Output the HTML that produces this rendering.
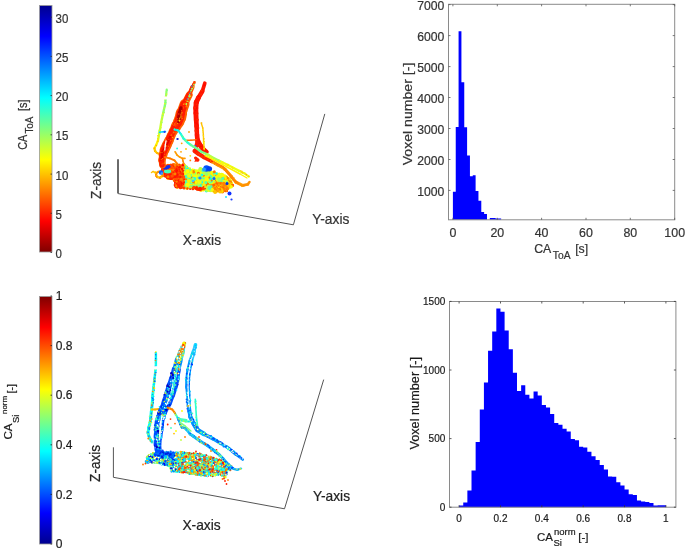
<!DOCTYPE html>
<html><head><meta charset="utf-8"><style>
html,body{margin:0;padding:0;background:#fff;}
body{width:685px;height:550px;overflow:hidden;}
svg{display:block;font-family:"Liberation Sans", sans-serif;will-change:transform;}
</style></head><body>
<svg width="685" height="550" viewBox="0 0 685 550">
<defs>
<linearGradient id="jetUp" x1="0" y1="1" x2="0" y2="0">
<stop offset="0" stop-color="rgb(0,0,143)"/>
<stop offset="0.125" stop-color="rgb(0,0,255)"/>
<stop offset="0.375" stop-color="rgb(0,255,255)"/>
<stop offset="0.625" stop-color="rgb(255,255,0)"/>
<stop offset="0.875" stop-color="rgb(255,0,0)"/>
<stop offset="1" stop-color="rgb(128,0,0)"/>
</linearGradient>
<linearGradient id="jetDown" x1="0" y1="0" x2="0" y2="1">
<stop offset="0" stop-color="rgb(0,0,143)"/>
<stop offset="0.125" stop-color="rgb(0,0,255)"/>
<stop offset="0.375" stop-color="rgb(0,255,255)"/>
<stop offset="0.625" stop-color="rgb(255,255,0)"/>
<stop offset="0.875" stop-color="rgb(255,0,0)"/>
<stop offset="1" stop-color="rgb(128,0,0)"/>
</linearGradient>
</defs>
<rect x="39.5" y="5.5" width="12.5" height="246.5" fill="url(#jetDown)" stroke="#9a9a9a" stroke-width="0.8"/>
<line x1="50.5" y1="252.5" x2="52" y2="252.5" stroke="#333" stroke-width="0.8"/>
<text transform="translate(55.6,258.0) scale(1,1.15)" font-size="11.5" fill="#333" stroke="#333" stroke-width="0.2" text-anchor="start" >0</text>
<line x1="50.5" y1="213.3" x2="52" y2="213.3" stroke="#333" stroke-width="0.8"/>
<text transform="translate(55.6,218.8) scale(1,1.15)" font-size="11.5" fill="#333" stroke="#333" stroke-width="0.2" text-anchor="start" >5</text>
<line x1="50.5" y1="174.1" x2="52" y2="174.1" stroke="#333" stroke-width="0.8"/>
<text transform="translate(55.6,179.6) scale(1,1.15)" font-size="11.5" fill="#333" stroke="#333" stroke-width="0.2" text-anchor="start" >10</text>
<line x1="50.5" y1="134.8" x2="52" y2="134.8" stroke="#333" stroke-width="0.8"/>
<text transform="translate(55.6,140.3) scale(1,1.15)" font-size="11.5" fill="#333" stroke="#333" stroke-width="0.2" text-anchor="start" >15</text>
<line x1="50.5" y1="95.6" x2="52" y2="95.6" stroke="#333" stroke-width="0.8"/>
<text transform="translate(55.6,101.1) scale(1,1.15)" font-size="11.5" fill="#333" stroke="#333" stroke-width="0.2" text-anchor="start" >20</text>
<line x1="50.5" y1="56.4" x2="52" y2="56.4" stroke="#333" stroke-width="0.8"/>
<text transform="translate(55.6,61.9) scale(1,1.15)" font-size="11.5" fill="#333" stroke="#333" stroke-width="0.2" text-anchor="start" >25</text>
<line x1="50.5" y1="17.2" x2="52" y2="17.2" stroke="#333" stroke-width="0.8"/>
<text transform="translate(55.6,22.7) scale(1,1.15)" font-size="11.5" fill="#333" stroke="#333" stroke-width="0.2" text-anchor="start" >30</text>
<text transform="translate(26.6,149.8) rotate(-90) scale(1,1.1)" font-size="10.8" fill="#333" stroke="#333" stroke-width="0.2"><tspan>CA</tspan><tspan font-size="9.8" dx="1.2" dy="5.5">ToA</tspan><tspan font-size="11" dx="5.6" dy="-5.5">[s]</tspan></text>
<rect x="39.5" y="296.5" width="12.5" height="247.5" fill="url(#jetUp)" stroke="#9a9a9a" stroke-width="0.8"/>
<line x1="50.5" y1="544.0" x2="52" y2="544.0" stroke="#222" stroke-width="0.8"/>
<text x="55.8" y="548.2" font-size="12" fill="#1a1a1a" stroke="#1a1a1a" stroke-width="0.2" text-anchor="start" >0</text>
<line x1="50.5" y1="494.4" x2="52" y2="494.4" stroke="#222" stroke-width="0.8"/>
<text x="55.8" y="498.59999999999997" font-size="12" fill="#1a1a1a" stroke="#1a1a1a" stroke-width="0.2" text-anchor="start" >0.2</text>
<line x1="50.5" y1="444.8" x2="52" y2="444.8" stroke="#222" stroke-width="0.8"/>
<text x="55.8" y="449.0" font-size="12" fill="#1a1a1a" stroke="#1a1a1a" stroke-width="0.2" text-anchor="start" >0.4</text>
<line x1="50.5" y1="395.2" x2="52" y2="395.2" stroke="#222" stroke-width="0.8"/>
<text x="55.8" y="399.4" font-size="12" fill="#1a1a1a" stroke="#1a1a1a" stroke-width="0.2" text-anchor="start" >0.6</text>
<line x1="50.5" y1="345.6" x2="52" y2="345.6" stroke="#222" stroke-width="0.8"/>
<text x="55.8" y="349.8" font-size="12" fill="#1a1a1a" stroke="#1a1a1a" stroke-width="0.2" text-anchor="start" >0.8</text>
<line x1="50.5" y1="296.0" x2="52" y2="296.0" stroke="#222" stroke-width="0.8"/>
<text x="55.8" y="300.2" font-size="12" fill="#1a1a1a" stroke="#1a1a1a" stroke-width="0.2" text-anchor="start" >1</text>
<text transform="translate(12.2,439.5) rotate(-90)" font-size="11.5" fill="#1a1a1a" stroke="#1a1a1a" stroke-width="0.2"><tspan>CA</tspan><tspan font-size="9.5" dx="0.5" dy="7">Si</tspan><tspan font-size="8" dx="0.5" dy="-12">norm</tspan><tspan font-size="10.5" dx="2.3" dy="7.5">[-]</tspan></text>
<g stroke="#555" stroke-width="1" fill="none">
<polyline points="118.1,193.6 293.4,224.8 324.8,113.9"/>
<line x1="118" y1="159.3" x2="118" y2="193.6" stroke="#5a5a5a" stroke-width="1.8"/>
<polyline points="113.4,447.3 113.4,477.3 284.5,508.8 323.7,379.6"/>
</g>
<text x="0" y="0" font-size="13.6" fill="#333" stroke="#333" stroke-width="0.2" text-anchor="start" transform="translate(100.6,198.9) rotate(-90) scale(1,1.1)">Z-axis</text>
<text transform="translate(182.7,245.1) scale(1,1.1)" font-size="13.8" fill="#333" stroke="#333" stroke-width="0.2" text-anchor="start" >X-axis</text>
<text transform="translate(312.3,223.9) scale(1,1.1)" font-size="13.8" fill="#333" stroke="#333" stroke-width="0.2" text-anchor="start" >Y-axis</text>
<text x="0" y="0" font-size="13.6" fill="#222" stroke="#222" stroke-width="0.2" text-anchor="start" transform="translate(100.1,481.9) rotate(-90) scale(1,1.1)">Z-axis</text>
<text transform="translate(182.4,529.5) scale(1,1.1)" font-size="13.8" fill="#222" stroke="#222" stroke-width="0.2" text-anchor="start" >X-axis</text>
<text transform="translate(313.0,500.8) scale(1,1.1)" font-size="13.8" fill="#222" stroke="#222" stroke-width="0.2" text-anchor="start" >Y-axis</text>
<path d="M452.90,219.8 L452.90,191.8 L455.74,191.8 L455.74,126.9 L458.58,126.9 L458.58,31.2 L461.42,31.2 L461.42,82.2 L464.26,82.2 L464.26,127.3 L467.10,127.3 L467.10,155.6 L469.93,155.6 L469.93,176.2 L472.77,176.2 L472.77,175.3 L475.61,175.3 L475.61,191.1 L478.45,191.1 L478.45,200.8 L481.29,200.8 L481.29,211.9 L484.13,211.9 L484.13,214 L486.97,214 L486.97,219.8 L489.81,219.8 L489.81,218 L492.65,218 L492.65,218 L495.49,218 L495.49,218.5 L498.32,218.5 L498.32,218.5 L501.16,218.5 L501.16,219.8 Z" fill="#0000ff"/>
<rect x="448.5" y="4.3" width="226.20000000000005" height="215.5" fill="none" stroke="#8a8a8a" stroke-width="1"/>
<line x1="452.9" y1="219.8" x2="452.9" y2="217.8" stroke="#555" stroke-width="0.8"/>
<line x1="452.9" y1="4.3" x2="452.9" y2="6.3" stroke="#555" stroke-width="0.8"/>
<text transform="translate(452.9,236.6) scale(1,1.07)" font-size="12.4" fill="#333" stroke="#333" stroke-width="0.2" text-anchor="middle" >0</text>
<line x1="497.3" y1="219.8" x2="497.3" y2="217.8" stroke="#555" stroke-width="0.8"/>
<line x1="497.3" y1="4.3" x2="497.3" y2="6.3" stroke="#555" stroke-width="0.8"/>
<text transform="translate(497.3,236.6) scale(1,1.07)" font-size="12.4" fill="#333" stroke="#333" stroke-width="0.2" text-anchor="middle" >20</text>
<line x1="541.6" y1="219.8" x2="541.6" y2="217.8" stroke="#555" stroke-width="0.8"/>
<line x1="541.6" y1="4.3" x2="541.6" y2="6.3" stroke="#555" stroke-width="0.8"/>
<text transform="translate(541.6,236.6) scale(1,1.07)" font-size="12.4" fill="#333" stroke="#333" stroke-width="0.2" text-anchor="middle" >40</text>
<line x1="586.0" y1="219.8" x2="586.0" y2="217.8" stroke="#555" stroke-width="0.8"/>
<line x1="586.0" y1="4.3" x2="586.0" y2="6.3" stroke="#555" stroke-width="0.8"/>
<text transform="translate(586.0,236.6) scale(1,1.07)" font-size="12.4" fill="#333" stroke="#333" stroke-width="0.2" text-anchor="middle" >60</text>
<line x1="630.3" y1="219.8" x2="630.3" y2="217.8" stroke="#555" stroke-width="0.8"/>
<line x1="630.3" y1="4.3" x2="630.3" y2="6.3" stroke="#555" stroke-width="0.8"/>
<text transform="translate(630.3,236.6) scale(1,1.07)" font-size="12.4" fill="#333" stroke="#333" stroke-width="0.2" text-anchor="middle" >80</text>
<line x1="674.7" y1="219.8" x2="674.7" y2="217.8" stroke="#555" stroke-width="0.8"/>
<line x1="674.7" y1="4.3" x2="674.7" y2="6.3" stroke="#555" stroke-width="0.8"/>
<text transform="translate(674.7,236.6) scale(1,1.07)" font-size="12.4" fill="#333" stroke="#333" stroke-width="0.2" text-anchor="middle" >100</text>
<line x1="448.5" y1="190.4" x2="450.5" y2="190.4" stroke="#555" stroke-width="0.8"/>
<line x1="674.7" y1="190.4" x2="672.7" y2="190.4" stroke="#555" stroke-width="0.8"/>
<text transform="translate(444.3,195.5) scale(1,1.08)" font-size="12.2" fill="#333" stroke="#333" stroke-width="0.2" text-anchor="end" >1000</text>
<line x1="448.5" y1="159.5" x2="450.5" y2="159.5" stroke="#555" stroke-width="0.8"/>
<line x1="674.7" y1="159.5" x2="672.7" y2="159.5" stroke="#555" stroke-width="0.8"/>
<text transform="translate(444.3,164.6) scale(1,1.08)" font-size="12.2" fill="#333" stroke="#333" stroke-width="0.2" text-anchor="end" >2000</text>
<line x1="448.5" y1="128.5" x2="450.5" y2="128.5" stroke="#555" stroke-width="0.8"/>
<line x1="674.7" y1="128.5" x2="672.7" y2="128.5" stroke="#555" stroke-width="0.8"/>
<text transform="translate(444.3,133.6) scale(1,1.08)" font-size="12.2" fill="#333" stroke="#333" stroke-width="0.2" text-anchor="end" >3000</text>
<line x1="448.5" y1="97.5" x2="450.5" y2="97.5" stroke="#555" stroke-width="0.8"/>
<line x1="674.7" y1="97.5" x2="672.7" y2="97.5" stroke="#555" stroke-width="0.8"/>
<text transform="translate(444.3,102.6) scale(1,1.08)" font-size="12.2" fill="#333" stroke="#333" stroke-width="0.2" text-anchor="end" >4000</text>
<line x1="448.5" y1="66.6" x2="450.5" y2="66.6" stroke="#555" stroke-width="0.8"/>
<line x1="674.7" y1="66.6" x2="672.7" y2="66.6" stroke="#555" stroke-width="0.8"/>
<text transform="translate(444.3,71.7) scale(1,1.08)" font-size="12.2" fill="#333" stroke="#333" stroke-width="0.2" text-anchor="end" >5000</text>
<line x1="448.5" y1="35.6" x2="450.5" y2="35.6" stroke="#555" stroke-width="0.8"/>
<line x1="674.7" y1="35.6" x2="672.7" y2="35.6" stroke="#555" stroke-width="0.8"/>
<text transform="translate(444.3,40.7) scale(1,1.08)" font-size="12.2" fill="#333" stroke="#333" stroke-width="0.2" text-anchor="end" >6000</text>
<line x1="448.5" y1="4.6" x2="450.5" y2="4.6" stroke="#555" stroke-width="0.8"/>
<line x1="674.7" y1="4.6" x2="672.7" y2="4.6" stroke="#555" stroke-width="0.8"/>
<text transform="translate(444.3,9.7) scale(1,1.08)" font-size="12.2" fill="#333" stroke="#333" stroke-width="0.2" text-anchor="end" >7000</text>
<text x="0" y="0" font-size="12.5" fill="#333" stroke="#333" stroke-width="0.2" text-anchor="start" transform="translate(412.4,165.3) rotate(-90)" textLength="102.6" lengthAdjust="spacingAndGlyphs">Voxel number [-]</text>
<text transform="translate(534.2,252.8) scale(1,1.07)" font-size="12.3" fill="#333" stroke="#333" stroke-width="0.2"><tspan>CA</tspan><tspan font-size="10.3" dx="1.6" dy="6.1">ToA</tspan><tspan font-size="12.3" dx="4.6" dy="-6.1">[s]</tspan></text>
<path d="M459.10,507.2 L459.10,505.6 L463.24,505.6 L463.24,502.6 L467.37,502.6 L467.37,490.6 L471.51,490.6 L471.51,470.4 L475.64,470.4 L475.64,442 L479.78,442 L479.78,409.4 L483.92,409.4 L483.92,382.4 L488.05,382.4 L488.05,350.8 L492.19,350.8 L492.19,331.4 L496.32,331.4 L496.32,308.5 L500.46,308.5 L500.46,311.8 L504.60,311.8 L504.60,330.5 L508.73,330.5 L508.73,349.3 L512.87,349.3 L512.87,372.8 L517.00,372.8 L517.00,390.9 L521.14,390.9 L521.14,385.3 L525.28,385.3 L525.28,394.7 L529.41,394.7 L529.41,398.4 L533.55,398.4 L533.55,391.6 L537.68,391.6 L537.68,395.5 L541.82,395.5 L541.82,404.9 L545.96,404.9 L545.96,407.5 L550.09,407.5 L550.09,414 L554.23,414 L554.23,423.1 L558.36,423.1 L558.36,424.7 L562.50,424.7 L562.50,428.7 L566.64,428.7 L566.64,431.5 L570.77,431.5 L570.77,438.9 L574.91,438.9 L574.91,440.2 L579.04,440.2 L579.04,446.7 L583.18,446.7 L583.18,447.6 L587.32,447.6 L587.32,451.7 L591.45,451.7 L591.45,456.3 L595.59,456.3 L595.59,460 L599.72,460 L599.72,465 L603.86,465 L603.86,469.4 L608.00,469.4 L608.00,476.6 L612.13,476.6 L612.13,476.8 L616.27,476.8 L616.27,482.3 L620.40,482.3 L620.40,485.5 L624.54,485.5 L624.54,489.5 L628.68,489.5 L628.68,494.3 L632.81,494.3 L632.81,495.1 L636.95,495.1 L636.95,500.4 L641.08,500.4 L641.08,501.5 L645.22,501.5 L645.22,502.1 L649.36,502.1 L649.36,503 L653.49,503 L653.49,505.4 L657.63,505.4 L657.63,505.2 L661.76,505.2 L661.76,505.2 L665.90,505.2 L665.90,507.2 Z" fill="#0000ff"/>
<rect x="449.5" y="301.5" width="226.39999999999998" height="205.7" fill="none" stroke="#8a8a8a" stroke-width="1"/>
<line x1="459.1" y1="507.2" x2="459.1" y2="505.2" stroke="#333" stroke-width="0.8"/>
<line x1="459.1" y1="301.5" x2="459.1" y2="303.5" stroke="#333" stroke-width="0.8"/>
<text x="459.1" y="521.8" font-size="10" fill="#1a1a1a" stroke="#1a1a1a" stroke-width="0.2" text-anchor="middle" >0</text>
<line x1="500.5" y1="507.2" x2="500.5" y2="505.2" stroke="#333" stroke-width="0.8"/>
<line x1="500.5" y1="301.5" x2="500.5" y2="303.5" stroke="#333" stroke-width="0.8"/>
<text x="500.5" y="521.8" font-size="10" fill="#1a1a1a" stroke="#1a1a1a" stroke-width="0.2" text-anchor="middle" >0.2</text>
<line x1="541.8" y1="507.2" x2="541.8" y2="505.2" stroke="#333" stroke-width="0.8"/>
<line x1="541.8" y1="301.5" x2="541.8" y2="303.5" stroke="#333" stroke-width="0.8"/>
<text x="541.8" y="521.8" font-size="10" fill="#1a1a1a" stroke="#1a1a1a" stroke-width="0.2" text-anchor="middle" >0.4</text>
<line x1="583.2" y1="507.2" x2="583.2" y2="505.2" stroke="#333" stroke-width="0.8"/>
<line x1="583.2" y1="301.5" x2="583.2" y2="303.5" stroke="#333" stroke-width="0.8"/>
<text x="583.2" y="521.8" font-size="10" fill="#1a1a1a" stroke="#1a1a1a" stroke-width="0.2" text-anchor="middle" >0.6</text>
<line x1="624.5" y1="507.2" x2="624.5" y2="505.2" stroke="#333" stroke-width="0.8"/>
<line x1="624.5" y1="301.5" x2="624.5" y2="303.5" stroke="#333" stroke-width="0.8"/>
<text x="624.5" y="521.8" font-size="10" fill="#1a1a1a" stroke="#1a1a1a" stroke-width="0.2" text-anchor="middle" >0.8</text>
<line x1="665.9" y1="507.2" x2="665.9" y2="505.2" stroke="#333" stroke-width="0.8"/>
<line x1="665.9" y1="301.5" x2="665.9" y2="303.5" stroke="#333" stroke-width="0.8"/>
<text x="665.9" y="521.8" font-size="10" fill="#1a1a1a" stroke="#1a1a1a" stroke-width="0.2" text-anchor="middle" >1</text>
<line x1="449.5" y1="507.2" x2="451.5" y2="507.2" stroke="#333" stroke-width="0.8"/>
<line x1="675.9" y1="507.2" x2="673.9" y2="507.2" stroke="#333" stroke-width="0.8"/>
<text x="445.3" y="510.8" font-size="10" fill="#1a1a1a" stroke="#1a1a1a" stroke-width="0.2" text-anchor="end" >0</text>
<line x1="449.5" y1="438.6" x2="451.5" y2="438.6" stroke="#333" stroke-width="0.8"/>
<line x1="675.9" y1="438.6" x2="673.9" y2="438.6" stroke="#333" stroke-width="0.8"/>
<text x="445.3" y="442.2" font-size="10" fill="#1a1a1a" stroke="#1a1a1a" stroke-width="0.2" text-anchor="end" >500</text>
<line x1="449.5" y1="370.0" x2="451.5" y2="370.0" stroke="#333" stroke-width="0.8"/>
<line x1="675.9" y1="370.0" x2="673.9" y2="370.0" stroke="#333" stroke-width="0.8"/>
<text x="445.3" y="373.6" font-size="10" fill="#1a1a1a" stroke="#1a1a1a" stroke-width="0.2" text-anchor="end" >1000</text>
<line x1="449.5" y1="301.4" x2="451.5" y2="301.4" stroke="#333" stroke-width="0.8"/>
<line x1="675.9" y1="301.4" x2="673.9" y2="301.4" stroke="#333" stroke-width="0.8"/>
<text x="445.3" y="305.0" font-size="10" fill="#1a1a1a" stroke="#1a1a1a" stroke-width="0.2" text-anchor="end" >1500</text>
<text x="0" y="0" font-size="12" fill="#1a1a1a" stroke="#1a1a1a" stroke-width="0.2" text-anchor="start" transform="translate(418.5,449.6) rotate(-90)" textLength="92.6" lengthAdjust="spacingAndGlyphs">Voxel number [-]</text>
<text x="537" y="541.2" font-size="11.5" fill="#1a1a1a" stroke="#1a1a1a" stroke-width="0.2"><tspan>CA</tspan><tspan font-size="9.5" dy="5" dx="0.5">Si</tspan><tspan font-size="9.5" dx="-8" dy="-11.2">norm</tspan><tspan dy="6.2" dx="2.6">[-]</tspan></text>
<g id="v1">
<polygon points="162.0,167.0 166.0,165.0 172.0,164.5 182.0,164.5 187.0,165.5 190.0,168.5 196.0,170.0 202.0,168.0 212.0,171.0 222.0,174.0 228.0,176.5 232.0,180.0 233.0,185.0 230.0,189.0 226.0,191.5 214.0,192.5 202.0,190.5 192.0,189.0 184.0,188.0 176.0,187.5 174.5,181.0 170.0,178.5 165.0,177.5 161.5,173.0" fill="#f0ff0e"/>
<path stroke="#38ffc6" stroke-width="2.0" stroke-linecap="round" d="M184.7 168.7h0M196.0 178.1h0M213.6 181.7h0M186.2 180.8h0M211.3 181.2h0M213.4 172.7h0M192.3 186.9h0M194.1 184.3h0"/>
<path stroke="#ff4200" stroke-width="2.0" stroke-linecap="round" d="M203.2 190.0h0"/>
<path stroke="#ffa300" stroke-width="3.0" stroke-linecap="round" d="M168.0 176.4h0M223.2 184.0h0M176.7 178.5h0M172.4 178.8h0M227.0 181.9h0M166.1 175.4h0M175.2 171.8h0M179.7 185.5h0M228.7 183.5h0M228.8 186.3h0M173.7 179.1h0M220.1 184.9h0M221.6 188.5h0"/>
<path stroke="#d9ff25" stroke-width="4.0" stroke-linecap="round" d="M229.2 182.2h0M209.0 175.1h0M199.4 182.3h0M192.6 183.7h0M197.2 182.3h0"/>
<path stroke="#fffd00" stroke-width="2.0" stroke-linecap="round" d="M202.8 175.6h0M221.5 175.9h0"/>
<path stroke="#ff3200" stroke-width="3.0" stroke-linecap="round" d="M171.8 167.8h0M166.4 167.1h0M179.5 174.2h0M163.3 170.3h0M192.9 188.7h0M181.1 171.8h0"/>
<path stroke="#faff04" stroke-width="3.0" stroke-linecap="round" d="M202.3 169.8h0M191.2 174.5h0M185.6 178.0h0M211.6 188.2h0M192.2 178.3h0M207.3 190.0h0M214.8 173.7h0M226.6 186.0h0M186.3 168.8h0M201.9 178.4h0M189.1 180.7h0"/>
<path stroke="#ff2100" stroke-width="3.0" stroke-linecap="round" d="M166.0 166.2h0M180.4 187.7h0M183.2 183.9h0M164.2 170.1h0M193.1 187.1h0M169.4 167.9h0M174.9 173.6h0M163.7 173.8h0M174.7 173.0h0M183.7 182.4h0M171.6 170.9h0M178.8 166.1h0M177.0 180.4h0M170.1 178.1h0M166.2 175.6h0"/>
<path stroke="#99ff65" stroke-width="3.0" stroke-linecap="round" d="M199.5 186.3h0M194.2 170.2h0M187.8 180.6h0M203.0 172.8h0M184.8 165.7h0M201.4 183.7h0M218.9 181.1h0"/>
<path stroke="#ff8200" stroke-width="2.5" stroke-linecap="round" d="M193.9 172.9h0M181.8 175.3h0M183.8 168.5h0M228.6 182.3h0M217.6 181.2h0M167.6 165.7h0M181.6 165.9h0M213.9 177.1h0M179.8 185.2h0M194.8 186.2h0M171.0 177.4h0M227.8 185.1h0M206.5 175.5h0M171.4 173.2h0M215.1 190.6h0M165.6 175.6h0M205.0 176.6h0M200.0 183.8h0M190.5 175.6h0M200.3 170.2h0M193.6 177.9h0M170.8 178.2h0M170.9 170.3h0M172.6 166.1h0"/>
<path stroke="#ff3200" stroke-width="3.5" stroke-linecap="round" d="M183.0 178.4h0M165.3 172.6h0M164.3 167.7h0M174.7 180.0h0M173.6 166.4h0M180.1 181.0h0"/>
<path stroke="#ffa300" stroke-width="2.5" stroke-linecap="round" d="M169.9 176.2h0M174.6 164.6h0M167.5 172.1h0M176.3 174.5h0M214.9 189.7h0M170.0 176.2h0M218.0 190.9h0M179.0 167.6h0M227.7 183.4h0M171.6 166.5h0M180.5 183.0h0M175.9 176.3h0M218.8 188.5h0M173.0 177.0h0"/>
<path stroke="#ff7200" stroke-width="2.5" stroke-linecap="round" d="M201.4 186.6h0M198.6 183.0h0M199.4 182.2h0M186.9 174.8h0M201.6 186.1h0M188.4 182.9h0"/>
<path stroke="#58ffa6" stroke-width="3.5" stroke-linecap="round" d="M211.2 181.1h0M210.9 178.9h0M222.7 181.9h0M204.0 183.8h0M191.8 177.2h0M191.8 179.6h0"/>
<path stroke="#38ffc6" stroke-width="3.5" stroke-linecap="round" d="M211.7 182.6h0M190.0 178.1h0M194.0 173.3h0M186.4 172.4h0M186.6 176.1h0M206.3 178.7h0M203.5 171.2h0M206.4 190.7h0"/>
<path stroke="#fffd00" stroke-width="3.5" stroke-linecap="round" d="M205.2 178.3h0M205.6 184.8h0M196.5 176.7h0"/>
<path stroke="#ff6200" stroke-width="4.0" stroke-linecap="round" d="M170.7 171.4h0M183.5 165.1h0M167.1 166.8h0M167.5 167.2h0M183.2 181.4h0M169.5 174.4h0M179.7 181.6h0M184.0 179.4h0"/>
<path stroke="#eaff14" stroke-width="3.5" stroke-linecap="round" d="M190.2 172.3h0M205.9 187.6h0M186.4 173.6h0M203.2 170.9h0M200.4 175.0h0M200.7 185.8h0"/>
<path stroke="#ff2100" stroke-width="2.5" stroke-linecap="round" d="M178.0 166.8h0M178.5 167.6h0M175.8 185.9h0M173.7 164.5h0M178.8 168.1h0M190.2 188.7h0M181.1 173.6h0"/>
<path stroke="#f00000" stroke-width="2.5" stroke-linecap="round" d="M178.2 178.1h0M181.7 168.6h0M177.4 179.7h0M179.5 171.4h0M177.1 175.7h0M176.4 171.9h0M183.2 179.1h0M178.9 167.0h0M177.8 178.4h0M162.6 168.3h0"/>
<path stroke="#ff7200" stroke-width="3.5" stroke-linecap="round" d="M214.4 177.3h0M186.1 182.5h0M198.9 178.6h0M197.5 182.1h0M204.5 175.1h0M186.7 182.4h0M206.2 174.0h0M187.0 171.4h0M216.5 180.4h0M211.0 185.2h0M200.7 183.8h0M194.4 182.4h0"/>
<path stroke="#ffc300" stroke-width="3.0" stroke-linecap="round" d="M224.0 186.8h0M214.8 192.2h0"/>
<path stroke="#b9ff45" stroke-width="2.0" stroke-linecap="round" d="M189.7 178.0h0"/>
<path stroke="#ff2100" stroke-width="2.0" stroke-linecap="round" d="M166.3 170.3h0M180.0 176.2h0M168.5 172.6h0M182.2 174.6h0M197.0 189.7h0"/>
<path stroke="#d9ff25" stroke-width="3.0" stroke-linecap="round" d="M202.0 179.5h0M189.1 179.9h0M208.1 190.0h0"/>
<path stroke="#ff6200" stroke-width="2.5" stroke-linecap="round" d="M166.5 170.3h0M180.8 185.6h0M222.2 188.9h0M162.2 172.9h0M163.9 174.0h0M232.7 185.0h0M226.9 190.9h0M176.2 173.4h0M176.9 184.1h0M176.6 176.7h0M219.8 189.3h0M179.4 179.1h0M166.4 170.9h0M167.8 169.3h0M183.7 181.8h0M174.3 180.8h0M179.5 171.8h0"/>
<path stroke="#ff6200" stroke-width="3.0" stroke-linecap="round" d="M169.7 178.2h0M218.7 184.8h0M178.0 182.7h0M165.2 166.2h0M221.5 184.0h0M179.1 175.3h0M179.9 168.0h0M170.9 172.7h0M183.8 181.9h0M175.0 176.3h0M214.0 184.5h0M165.1 170.6h0M167.6 173.6h0M217.6 189.9h0M221.0 187.4h0M167.2 177.0h0"/>
<path stroke="#faff04" stroke-width="2.0" stroke-linecap="round" d="M187.4 183.8h0M213.9 186.3h0M202.0 180.7h0M195.5 176.0h0M193.7 185.3h0M226.8 187.3h0M217.1 174.2h0"/>
<path stroke="#ffa300" stroke-width="3.5" stroke-linecap="round" d="M177.4 187.2h0M225.2 190.4h0M177.8 184.7h0M228.8 179.0h0M225.6 187.1h0M176.7 167.1h0M222.4 183.9h0M173.9 164.7h0M167.8 172.6h0M174.1 174.8h0M181.6 186.8h0M172.3 170.3h0M163.9 171.1h0M176.0 169.5h0"/>
<path stroke="#ffe300" stroke-width="3.5" stroke-linecap="round" d="M219.1 187.4h0M215.5 187.5h0M218.6 184.4h0M221.7 183.3h0M226.9 182.9h0M201.0 190.2h0"/>
<path stroke="#ff8200" stroke-width="2.0" stroke-linecap="round" d="M175.8 178.3h0M223.8 187.6h0M200.0 186.2h0M227.5 178.3h0M181.2 165.4h0"/>
<path stroke="#ff3200" stroke-width="2.5" stroke-linecap="round" d="M163.5 172.3h0M172.8 177.0h0M175.7 181.3h0M170.6 177.7h0M177.8 176.4h0M181.6 171.4h0M181.4 179.2h0M181.0 169.5h0"/>
<path stroke="#ff8200" stroke-width="4.0" stroke-linecap="round" d="M204.8 174.1h0M197.8 180.2h0M171.3 177.6h0M226.2 188.1h0M226.7 186.9h0M228.5 182.2h0M180.7 182.2h0M221.4 191.3h0M224.6 188.6h0M179.5 180.5h0M189.3 170.4h0"/>
<path stroke="#fffd00" stroke-width="3.0" stroke-linecap="round" d="M187.6 170.7h0M222.6 176.7h0M196.1 170.8h0M215.6 174.7h0M206.3 173.5h0"/>
<path stroke="#ff8200" stroke-width="3.0" stroke-linecap="round" d="M226.5 186.4h0M170.1 166.2h0M179.4 164.9h0M177.1 178.2h0M191.9 185.9h0M187.1 174.7h0M177.3 172.6h0M180.5 170.8h0M220.7 189.9h0M205.0 182.9h0M170.7 165.0h0M225.5 183.2h0M177.8 170.9h0M181.1 185.1h0M183.7 168.3h0M166.6 166.0h0M209.5 189.2h0M213.0 185.5h0"/>
<path stroke="#08fff6" stroke-width="3.0" stroke-linecap="round" d="M185.3 186.9h0M199.7 181.6h0M202.7 179.1h0M211.2 175.5h0M206.4 187.5h0M200.2 184.0h0M208.1 179.9h0"/>
<path stroke="#ff6200" stroke-width="3.5" stroke-linecap="round" d="M170.6 168.7h0M179.0 171.9h0M178.3 171.4h0M213.9 190.1h0M183.5 171.5h0M180.5 180.0h0M163.0 168.4h0M181.7 175.8h0M232.4 185.5h0M181.7 173.8h0M222.4 185.1h0M220.5 183.1h0M181.2 172.6h0M182.5 173.7h0"/>
<path stroke="#ffe300" stroke-width="2.5" stroke-linecap="round" d="M231.6 182.9h0M226.1 180.8h0M188.7 187.6h0M220.5 183.3h0"/>
<path stroke="#ffe300" stroke-width="3.0" stroke-linecap="round" d="M214.4 189.6h0M202.2 189.3h0M229.6 182.9h0M217.3 190.3h0"/>
<path stroke="#d9ff25" stroke-width="2.5" stroke-linecap="round" d="M226.2 176.3h0M201.2 173.4h0M200.2 177.0h0M193.7 180.0h0M189.8 168.6h0M205.4 184.8h0M208.4 186.2h0M211.7 175.0h0"/>
<path stroke="#faff04" stroke-width="4.0" stroke-linecap="round" d="M201.2 186.5h0M194.7 177.6h0M200.8 173.2h0M223.7 178.1h0M212.4 173.3h0M204.9 182.3h0M212.2 177.4h0M225.5 183.8h0M206.5 175.7h0"/>
<path stroke="#ff0100" stroke-width="3.5" stroke-linecap="round" d="M165.6 169.9h0M170.2 176.9h0M178.4 174.9h0"/>
<path stroke="#f00000" stroke-width="3.0" stroke-linecap="round" d="M166.0 173.6h0M175.8 172.3h0M173.0 176.6h0M180.0 168.7h0M176.0 186.8h0M182.4 175.4h0M179.5 178.2h0M179.4 173.5h0M180.7 176.3h0"/>
<path stroke="#faff04" stroke-width="2.5" stroke-linecap="round" d="M211.5 189.0h0M184.6 165.5h0M197.9 189.3h0M206.1 181.6h0M202.6 176.0h0M226.8 180.0h0M229.6 187.6h0M219.0 183.4h0M210.0 177.0h0M192.0 180.5h0"/>
<path stroke="#f3ff0b" stroke-width="3.5" stroke-linecap="round" d="M192.1 170.5h0M205.0 170.7h0M187.3 176.5h0M200.8 182.1h0M213.3 180.5h0M190.4 178.6h0M205.7 175.4h0M190.9 186.6h0M198.2 179.7h0M195.9 182.6h0"/>
<path stroke="#eaff14" stroke-width="2.5" stroke-linecap="round" d="M212.7 183.0h0M186.6 185.7h0M188.4 174.8h0M198.3 180.7h0M206.7 177.5h0M190.1 184.5h0M206.7 186.5h0M221.5 173.9h0M198.8 171.0h0"/>
<path stroke="#faff04" stroke-width="3.5" stroke-linecap="round" d="M191.6 174.5h0M212.1 177.1h0M220.2 189.5h0M199.7 183.1h0M200.5 169.3h0M186.9 188.3h0M196.2 182.0h0M217.4 183.2h0M231.2 186.8h0M204.3 175.6h0M184.6 171.0h0M221.5 184.5h0M223.4 181.9h0M187.4 174.8h0M208.4 189.7h0M192.1 178.8h0M186.6 172.9h0M184.5 174.6h0M207.1 188.2h0M223.9 180.3h0M218.1 178.2h0M193.9 180.7h0"/>
<path stroke="#c9ff35" stroke-width="4.0" stroke-linecap="round" d="M185.2 182.0h0M206.9 171.2h0"/>
<path stroke="#c9ff35" stroke-width="3.0" stroke-linecap="round" d="M193.9 174.0h0M206.6 190.1h0M211.0 183.1h0M196.6 178.4h0M200.1 182.2h0"/>
<path stroke="#fffd00" stroke-width="2.5" stroke-linecap="round" d="M206.4 179.4h0M192.9 169.7h0M203.2 181.0h0M199.5 175.9h0M205.3 182.9h0M204.6 174.3h0M203.4 183.2h0M192.9 181.9h0M211.2 186.2h0"/>
<path stroke="#ff8200" stroke-width="3.5" stroke-linecap="round" d="M179.1 177.0h0M166.8 171.9h0M193.6 171.8h0M183.0 165.9h0M175.2 172.9h0M179.5 170.6h0M215.8 182.7h0M210.0 178.0h0M216.8 184.5h0M163.8 166.2h0M206.0 182.7h0M179.9 178.9h0M223.5 189.4h0M226.6 177.8h0M224.1 178.1h0M230.3 181.9h0M212.4 185.9h0M172.2 169.5h0M228.3 186.0h0M168.0 174.0h0M222.5 191.7h0"/>
<path stroke="#ff7200" stroke-width="4.0" stroke-linecap="round" d="M192.4 178.4h0M203.7 174.7h0M207.4 184.7h0M188.5 171.0h0M221.9 175.5h0M216.9 176.5h0"/>
<path stroke="#ff2100" stroke-width="3.5" stroke-linecap="round" d="M176.9 170.9h0M180.5 178.8h0M167.9 173.4h0M177.1 180.5h0M177.2 176.8h0"/>
<path stroke="#b9ff45" stroke-width="4.0" stroke-linecap="round" d="M212.0 182.3h0M189.0 182.6h0M200.4 169.0h0M221.6 175.0h0M204.5 173.1h0"/>
<path stroke="#fff300" stroke-width="2.0" stroke-linecap="round" d="M224.4 176.6h0M219.3 182.8h0M193.4 176.8h0M198.6 178.8h0"/>
<path stroke="#ffe300" stroke-width="4.0" stroke-linecap="round" d="M221.7 188.9h0M227.3 182.6h0M215.5 190.2h0M195.4 187.4h0M215.3 189.6h0M221.5 191.0h0"/>
<path stroke="#fff300" stroke-width="3.0" stroke-linecap="round" d="M204.3 183.9h0M187.3 182.6h0M190.7 184.7h0M204.2 181.4h0M196.0 184.3h0"/>
<path stroke="#c9ff35" stroke-width="3.5" stroke-linecap="round" d="M188.8 177.8h0M208.4 172.9h0M185.9 186.3h0M201.7 174.6h0M203.1 173.4h0"/>
<path stroke="#ff0100" stroke-width="2.5" stroke-linecap="round" d="M179.2 186.2h0M171.5 169.9h0M164.0 166.3h0M171.7 170.7h0M181.8 171.1h0M173.5 174.2h0M169.4 173.1h0M175.2 177.8h0M162.6 173.5h0M182.8 165.2h0"/>
<path stroke="#ff0100" stroke-width="3.0" stroke-linecap="round" d="M167.9 175.7h0M182.9 182.1h0M179.2 166.3h0M171.8 165.3h0M168.5 177.6h0M181.1 179.7h0M179.6 166.1h0M170.1 168.3h0M169.9 170.7h0"/>
<path stroke="#38ffc6" stroke-width="4.0" stroke-linecap="round" d="M199.3 185.5h0M210.1 181.1h0M185.7 176.8h0"/>
<path stroke="#fff300" stroke-width="3.5" stroke-linecap="round" d="M213.3 182.5h0M217.6 176.5h0M224.7 176.1h0M209.0 173.3h0M222.4 181.8h0M206.3 176.5h0M185.2 181.5h0M200.9 175.9h0"/>
<path stroke="#b9ff45" stroke-width="3.5" stroke-linecap="round" d="M212.6 178.9h0M206.3 179.3h0M204.1 178.8h0M208.3 186.3h0M187.4 180.3h0M199.7 175.3h0M186.7 184.7h0M186.8 173.6h0"/>
<path stroke="#38ffc6" stroke-width="3.0" stroke-linecap="round" d="M201.4 182.1h0M190.7 186.8h0M211.6 180.9h0M184.9 185.5h0"/>
<path stroke="#c9ff35" stroke-width="2.0" stroke-linecap="round" d="M215.0 178.6h0M198.7 177.0h0"/>
<path stroke="#99ff65" stroke-width="2.5" stroke-linecap="round" d="M199.1 185.4h0M205.4 189.8h0M193.1 182.8h0M211.6 176.7h0M201.6 186.9h0"/>
<path stroke="#38ffc6" stroke-width="2.5" stroke-linecap="round" d="M188.9 177.9h0M211.3 186.5h0M214.6 177.3h0M206.2 169.4h0M213.2 173.8h0M200.6 185.7h0"/>
<path stroke="#58ffa6" stroke-width="2.5" stroke-linecap="round" d="M214.6 173.0h0M191.3 183.1h0M189.6 170.5h0M190.7 174.9h0M192.9 186.2h0M198.8 177.8h0M223.4 178.1h0M221.5 181.6h0M203.4 178.4h0M190.2 180.2h0M190.1 170.1h0M202.6 170.9h0M210.9 176.2h0M194.7 178.2h0"/>
<path stroke="#ffc300" stroke-width="4.0" stroke-linecap="round" d="M220.1 191.6h0M225.3 185.4h0M215.5 191.7h0"/>
<path stroke="#f00000" stroke-width="3.5" stroke-linecap="round" d="M180.2 174.6h0M175.8 181.5h0M168.4 177.0h0M167.2 166.9h0M170.3 178.3h0M172.8 172.9h0M171.3 169.8h0M162.8 170.4h0M183.6 171.7h0"/>
<path stroke="#fff300" stroke-width="2.5" stroke-linecap="round" d="M225.7 178.1h0M212.2 174.3h0M191.4 171.4h0M225.4 181.0h0M189.2 174.4h0"/>
<path stroke="#ffc300" stroke-width="2.5" stroke-linecap="round" d="M229.4 183.6h0M220.5 188.5h0M228.5 183.5h0M218.3 185.0h0M229.9 183.3h0M222.7 186.5h0M217.6 191.1h0"/>
<path stroke="#ff3200" stroke-width="2.0" stroke-linecap="round" d="M171.6 174.1h0M177.3 185.8h0M171.6 170.2h0M183.1 176.3h0M179.3 180.3h0M178.7 176.9h0M183.1 178.6h0"/>
<path stroke="#d9ff25" stroke-width="3.5" stroke-linecap="round" d="M185.2 173.6h0M184.9 173.4h0M210.3 190.6h0M200.2 179.5h0M187.8 179.9h0M188.2 185.1h0M217.2 179.3h0"/>
<path stroke="#f3ff0b" stroke-width="2.5" stroke-linecap="round" d="M212.5 189.7h0M185.2 173.4h0M217.6 180.4h0M206.4 169.9h0M184.7 173.6h0M193.3 180.4h0M192.3 181.5h0"/>
<path stroke="#99ff65" stroke-width="4.0" stroke-linecap="round" d="M219.5 179.9h0M195.6 186.3h0M187.9 184.3h0M206.3 173.9h0"/>
<path stroke="#f00000" stroke-width="4.0" stroke-linecap="round" d="M169.3 168.8h0M169.5 166.5h0M169.6 167.0h0M182.2 178.8h0M181.0 172.2h0"/>
<path stroke="#ff4200" stroke-width="3.0" stroke-linecap="round" d="M184.1 188.0h0M198.2 189.6h0"/>
<path stroke="#ffe300" stroke-width="2.0" stroke-linecap="round" d="M190.9 187.2h0M202.6 190.2h0M229.9 178.9h0M203.7 190.6h0"/>
<path stroke="#f3ff0b" stroke-width="2.0" stroke-linecap="round" d="M210.8 190.4h0M185.2 185.2h0"/>
<path stroke="#08fff6" stroke-width="2.5" stroke-linecap="round" d="M202.0 174.9h0M185.4 182.5h0M216.6 173.5h0"/>
<path stroke="#d9ff25" stroke-width="2.0" stroke-linecap="round" d="M224.7 180.7h0M191.7 182.2h0M184.2 182.8h0"/>
<path stroke="#ff0100" stroke-width="2.0" stroke-linecap="round" d="M164.4 172.7h0M181.8 179.1h0M174.3 177.8h0M164.5 166.4h0M181.1 175.7h0"/>
<path stroke="#ff4200" stroke-width="4.0" stroke-linecap="round" d="M204.4 187.7h0"/>
<path stroke="#f3ff0b" stroke-width="3.0" stroke-linecap="round" d="M190.8 172.4h0"/>
<path stroke="#ff2100" stroke-width="4.0" stroke-linecap="round" d="M175.6 184.9h0M177.8 177.2h0"/>
<path stroke="#ff4200" stroke-width="2.5" stroke-linecap="round" d="M196.6 187.0h0M193.2 187.9h0M187.4 188.4h0"/>
<path stroke="#08fff6" stroke-width="3.5" stroke-linecap="round" d="M187.2 168.7h0M186.4 167.2h0M211.0 179.4h0M189.2 176.8h0"/>
<path stroke="#ff7200" stroke-width="3.0" stroke-linecap="round" d="M193.4 181.8h0M198.4 173.2h0M214.3 171.8h0"/>
<path stroke="#b9ff45" stroke-width="2.5" stroke-linecap="round" d="M188.1 170.1h0M210.0 190.7h0M209.8 180.9h0M202.9 180.0h0M188.0 174.0h0"/>
<path stroke="#08fff6" stroke-width="4.0" stroke-linecap="round" d="M193.9 179.1h0"/>
<path stroke="#eaff14" stroke-width="3.0" stroke-linecap="round" d="M216.2 176.9h0M184.5 172.0h0M219.2 174.0h0"/>
<path stroke="#ffc300" stroke-width="3.5" stroke-linecap="round" d="M223.8 186.4h0M228.6 186.0h0M220.6 190.8h0M221.1 184.3h0"/>
<path stroke="#c9ff35" stroke-width="2.5" stroke-linecap="round" d="M191.2 181.7h0M207.2 187.7h0M199.7 175.8h0M198.5 174.6h0"/>
<path stroke="#ffc300" stroke-width="2.0" stroke-linecap="round" d="M221.9 185.4h0"/>
<path stroke="#58ffa6" stroke-width="4.0" stroke-linecap="round" d="M189.5 180.9h0M209.4 187.9h0M187.0 180.6h0"/>
<path stroke="#ffa300" stroke-width="4.0" stroke-linecap="round" d="M176.0 165.4h0M168.2 178.1h0M168.8 171.5h0M177.2 175.6h0"/>
<path stroke="#99ff65" stroke-width="2.0" stroke-linecap="round" d="M215.2 182.2h0M212.6 179.0h0"/>
<path stroke="#ff3200" stroke-width="4.0" stroke-linecap="round" d="M174.7 178.3h0M178.1 180.7h0M177.4 165.6h0M168.5 172.7h0M177.3 179.3h0"/>
<path stroke="#79ff85" stroke-width="2.5" stroke-linecap="round" d="M227.0 182.1h0"/>
<path stroke="#ff4200" stroke-width="3.5" stroke-linecap="round" d="M202.9 188.4h0M194.0 187.6h0"/>
<path stroke="#99ff65" stroke-width="3.5" stroke-linecap="round" d="M184.4 184.0h0M186.2 170.2h0M200.7 181.7h0M218.9 179.1h0M192.8 179.2h0"/>
<path stroke="#58ffa6" stroke-width="2.0" stroke-linecap="round" d="M201.1 175.9h0"/>
<path stroke="#f00000" stroke-width="2.0" stroke-linecap="round" d="M163.7 172.4h0"/>
<path stroke="#fffd00" stroke-width="4.0" stroke-linecap="round" d="M222.3 174.9h0M207.1 179.7h0M187.8 171.3h0M206.5 179.7h0"/>
<path stroke="#ff6200" stroke-width="2.0" stroke-linecap="round" d="M169.3 177.3h0M225.2 191.3h0"/>
<path stroke="#ff7200" stroke-width="2.0" stroke-linecap="round" d="M211.7 180.6h0M186.0 179.3h0"/>
<path stroke="#b9ff45" stroke-width="3.0" stroke-linecap="round" d="M184.4 184.4h0M198.5 183.7h0M209.0 172.9h0"/>
<path stroke="#eaff14" stroke-width="2.0" stroke-linecap="round" d="M186.6 167.1h0M205.1 186.9h0M195.6 170.7h0"/>
<path stroke="#fff300" stroke-width="4.0" stroke-linecap="round" d="M188.9 180.9h0"/>
<path stroke="#58ffa6" stroke-width="3.0" stroke-linecap="round" d="M186.7 183.4h0M205.9 182.6h0M222.5 178.8h0"/>
<path stroke="#08fff6" stroke-width="2.0" stroke-linecap="round" d="M202.2 182.2h0"/>
<path stroke="#eaff14" stroke-width="4.0" stroke-linecap="round" d="M199.7 182.0h0M220.9 175.5h0M189.1 176.0h0"/>
<path stroke="#ffa300" stroke-width="2.0" stroke-linecap="round" d="M216.1 183.6h0"/>
<path stroke="#f3ff0b" stroke-width="4.0" stroke-linecap="round" d="M187.8 184.5h0"/>
<polygon points="162.0,167.0 170.0,164.5 181.0,165.0 183.0,170.0 184.5,178.0 184.0,187.5 176.0,187.5 174.5,181.0 170.0,178.5 165.0,177.5 161.5,173.0" fill="#ff2100"/>
<path stroke="#ff3200" stroke-width="2.0" stroke-linecap="round" d="M162.3 173.2h0M176.6 165.7h0M172.6 172.1h0M174.6 165.5h0M172.4 173.9h0M169.2 169.4h0M175.9 174.7h0M169.0 167.7h0M171.6 167.0h0M173.4 167.3h0M179.7 181.6h0M181.0 166.8h0M165.6 166.8h0M182.9 186.0h0M178.1 167.7h0M177.7 175.4h0M182.2 169.8h0M169.2 176.5h0M178.2 169.6h0M166.2 171.7h0M177.2 180.6h0"/>
<path stroke="#ff5200" stroke-width="2.0" stroke-linecap="round" d="M174.1 166.7h0M165.7 172.2h0M164.1 168.2h0M173.8 167.2h0M178.4 181.8h0M171.0 166.3h0M174.7 169.9h0M178.3 173.3h0M181.7 186.2h0M174.6 181.0h0M182.9 179.2h0M176.7 178.6h0M179.1 169.4h0M169.9 176.9h0M181.1 170.0h0M177.6 165.8h0"/>
<path stroke="#ff2100" stroke-width="3.0" stroke-linecap="round" d="M180.6 167.3h0M166.0 173.8h0M169.4 167.7h0M177.1 166.5h0M170.9 178.6h0M178.0 165.2h0M170.3 168.2h0M167.8 174.1h0M167.3 177.6h0M181.1 179.4h0M178.0 174.9h0"/>
<path stroke="#ff3200" stroke-width="2.5" stroke-linecap="round" d="M183.1 176.6h0M170.5 176.4h0M183.8 182.6h0M170.8 166.5h0M180.5 177.5h0M177.7 178.6h0M167.7 173.1h0M165.9 173.8h0M178.9 183.8h0M172.7 166.4h0M175.6 168.3h0M179.5 179.7h0M183.2 181.5h0M174.6 168.7h0M180.8 174.2h0M180.8 175.0h0"/>
<path stroke="#ff2100" stroke-width="2.5" stroke-linecap="round" d="M182.0 185.5h0M166.1 175.3h0M164.0 170.0h0M163.8 169.4h0M168.5 165.5h0M176.5 184.3h0M176.4 170.1h0M171.4 167.2h0M180.6 169.7h0M166.7 169.0h0M179.3 179.8h0M177.9 167.7h0M171.7 172.3h0M172.9 172.9h0M177.7 174.6h0M168.2 177.2h0"/>
<path stroke="#ff8200" stroke-width="2.5" stroke-linecap="round" d="M181.4 178.2h0M182.4 181.2h0M166.5 170.1h0M169.1 166.1h0M183.1 176.3h0M163.9 170.2h0M182.3 172.0h0M173.7 169.8h0M183.3 185.7h0M179.4 169.2h0M163.1 171.9h0M176.4 166.5h0M182.6 185.9h0M164.1 175.9h0M180.1 179.5h0M171.8 176.0h0"/>
<path stroke="#ff1100" stroke-width="3.0" stroke-linecap="round" d="M168.4 177.8h0M176.7 166.6h0M177.3 180.8h0M172.7 164.9h0M167.3 172.6h0M175.0 177.8h0M177.1 174.0h0M162.9 169.2h0M170.4 172.6h0M178.4 182.8h0M177.5 168.5h0M176.9 170.9h0M165.7 167.8h0M167.8 166.1h0"/>
<path stroke="#ff1100" stroke-width="2.5" stroke-linecap="round" d="M179.6 171.4h0M171.0 173.9h0M181.0 182.6h0M177.4 164.9h0M181.9 184.6h0M165.3 168.6h0M175.0 173.2h0M175.2 182.9h0M180.2 175.0h0M178.4 179.9h0M179.3 185.0h0M166.4 171.1h0M176.3 178.1h0M177.5 171.5h0M162.8 170.3h0M183.0 177.3h0M181.4 169.4h0M176.5 180.6h0M165.6 174.0h0M170.8 174.2h0M182.9 177.4h0"/>
<path stroke="#ff2100" stroke-width="2.0" stroke-linecap="round" d="M169.6 173.1h0M181.6 175.5h0M178.6 166.5h0M164.9 176.3h0M179.7 178.5h0M184.1 178.9h0M179.4 172.8h0M182.8 171.1h0M174.7 170.8h0M181.7 178.7h0M181.6 185.4h0M171.6 167.7h0M178.8 168.5h0M177.4 180.1h0M177.7 186.7h0M163.5 170.2h0M169.1 176.0h0M168.2 172.0h0"/>
<path stroke="#ff8200" stroke-width="2.0" stroke-linecap="round" d="M183.2 175.7h0M162.9 170.2h0M178.6 183.6h0M181.0 170.0h0M182.0 175.4h0M172.4 167.1h0M177.9 167.8h0M176.9 181.8h0M179.2 178.4h0M176.3 181.7h0M164.5 167.0h0M165.9 170.9h0M180.1 168.2h0M173.7 179.4h0M171.4 165.8h0M179.9 185.2h0M181.7 167.1h0M171.9 172.1h0M179.9 166.7h0M164.7 168.9h0M173.5 171.5h0"/>
<path stroke="#ff5200" stroke-width="2.5" stroke-linecap="round" d="M179.7 175.5h0M183.8 177.9h0M180.1 165.9h0M174.0 174.2h0M180.0 180.1h0M178.6 172.4h0M171.8 176.1h0M171.2 165.2h0M175.0 179.1h0M175.4 167.2h0M168.6 171.3h0M167.8 170.2h0M171.6 167.2h0M172.8 173.8h0M165.9 170.6h0M179.6 167.5h0M173.3 165.1h0M172.5 176.3h0M180.2 178.5h0M171.2 166.3h0M182.1 178.2h0M179.8 174.9h0M166.8 166.6h0"/>
<path stroke="#ff3200" stroke-width="3.0" stroke-linecap="round" d="M178.6 167.6h0M179.5 182.8h0M182.1 173.5h0M178.5 168.4h0M182.6 176.7h0M164.0 169.7h0M169.7 168.3h0M169.3 177.0h0M165.9 175.3h0"/>
<path stroke="#ff1100" stroke-width="2.0" stroke-linecap="round" d="M166.9 175.8h0M180.1 167.3h0M182.1 169.1h0M166.4 169.6h0M180.1 176.9h0M178.9 166.9h0M173.8 166.2h0M166.6 166.0h0M168.7 169.1h0M179.2 170.0h0M164.6 171.9h0M183.2 173.9h0"/>
<path stroke="#ff3200" stroke-width="1.5" stroke-linecap="round" d="M182.3 174.3h0M172.2 165.2h0M180.8 179.2h0M170.0 176.7h0M167.3 171.4h0M170.2 173.0h0M163.8 171.0h0M172.0 169.7h0M180.4 186.8h0M178.7 184.6h0"/>
<path stroke="#ff8200" stroke-width="3.0" stroke-linecap="round" d="M169.8 169.7h0M167.9 176.8h0M175.2 165.2h0M175.0 173.7h0M176.5 185.9h0M181.4 179.2h0M172.6 169.5h0"/>
<path stroke="#ff5200" stroke-width="1.5" stroke-linecap="round" d="M178.8 170.3h0M182.0 181.3h0M165.5 169.8h0M182.9 184.7h0"/>
<path stroke="#ff5200" stroke-width="3.0" stroke-linecap="round" d="M176.7 179.0h0M168.0 165.3h0M172.5 167.6h0M183.8 177.0h0"/>
<path stroke="#ff1100" stroke-width="1.5" stroke-linecap="round" d="M164.3 174.8h0M166.2 172.7h0M184.0 182.2h0M167.2 170.4h0M183.6 184.2h0M163.4 168.2h0M173.5 172.1h0"/>
<path stroke="#ff8200" stroke-width="1.5" stroke-linecap="round" d="M163.0 174.0h0M175.3 184.0h0"/>
<path stroke="#ff2100" stroke-width="1.5" stroke-linecap="round" d="M162.9 170.0h0M172.1 171.9h0"/>
<circle cx="200" cy="189" r="2.2" fill="#ff2100"/>
<circle cx="196.5" cy="188.5" r="1.8" fill="#ff2100"/>
<circle cx="179" cy="185.5" r="2" fill="#ff2100"/>
<circle cx="181.5" cy="187.5" r="1.6" fill="#ff3200"/>
<path stroke="#ff6200" stroke-width="2.0" stroke-linecap="round" d="M217.1 189.3h0M217.8 188.7h0M215.2 189.3h0M220.2 189.5h0M225.6 188.5h0M213.8 184.8h0M216.9 184.9h0M217.0 188.1h0M215.6 184.7h0M221.1 186.7h0M216.7 187.1h0"/>
<path stroke="#ff8200" stroke-width="2.0" stroke-linecap="round" d="M222.0 186.5h0M223.5 188.9h0M217.8 183.5h0M215.6 183.6h0M223.5 186.4h0M215.6 189.0h0M218.0 189.7h0M217.8 190.4h0M223.4 188.7h0M226.9 187.5h0M224.5 187.3h0"/>
<path stroke="#ffa300" stroke-width="2.5" stroke-linecap="round" d="M222.7 184.8h0M219.0 183.7h0M214.7 184.4h0M221.2 183.1h0M217.2 189.8h0M222.2 185.5h0M226.4 188.9h0M223.5 183.9h0"/>
<path stroke="#ff6200" stroke-width="2.5" stroke-linecap="round" d="M223.3 187.3h0M220.9 183.5h0M216.8 183.5h0M217.1 189.5h0M213.9 185.1h0M224.1 185.0h0M227.0 189.0h0M217.6 190.3h0"/>
<path stroke="#ffa300" stroke-width="1.5" stroke-linecap="round" d="M221.9 183.8h0"/>
<path stroke="#ff8200" stroke-width="2.5" stroke-linecap="round" d="M224.3 184.1h0M223.5 186.1h0M225.7 185.6h0M227.9 188.8h0M225.1 185.8h0M219.4 189.0h0M227.3 188.6h0M224.0 183.1h0M226.6 187.4h0M219.0 183.2h0M222.1 183.4h0"/>
<path stroke="#ffa300" stroke-width="3.0" stroke-linecap="round" d="M217.8 190.1h0"/>
<path stroke="#ffa300" stroke-width="2.0" stroke-linecap="round" d="M221.7 185.3h0M216.8 187.9h0M216.1 188.2h0M225.3 187.1h0M218.7 185.6h0M216.1 185.2h0"/>
<path stroke="#ff8200" stroke-width="1.5" stroke-linecap="round" d="M225.0 185.7h0"/>
<path stroke="#ff6200" stroke-width="1.5" stroke-linecap="round" d="M218.9 186.0h0"/>
<path stroke="#ff8200" stroke-width="3.0" stroke-linecap="round" d="M214.8 187.8h0"/>
<ellipse cx="159.4" cy="174.6" rx="3.3" ry="2.9" fill="none" stroke="#ff9200" stroke-width="2.2"/>
<line x1="155.2" y1="172.5" x2="153.0" y2="171.5" stroke="#ffc300" stroke-width="1.6" stroke-linecap="round"/>
<line x1="153.0" y1="171.5" x2="151.5" y2="172.5" stroke="#ffc300" stroke-width="1.5" stroke-linecap="round"/>
<path stroke="#ffe300" stroke-width="1.5" stroke-linecap="round" d="M161.4 177.4h0M161.8 175.2h0M160.7 177.8h0M156.1 175.5h0M155.3 173.2h0M155.6 172.0h0"/>
<path stroke="#ffc300" stroke-width="1.5" stroke-linecap="round" d="M155.5 172.5h0M157.4 177.5h0M161.1 176.2h0"/>
<path stroke="#ff8200" stroke-width="1.0" stroke-linecap="round" d="M155.8 174.3h0"/>
<path stroke="#ff8200" stroke-width="1.5" stroke-linecap="round" d="M157.0 177.4h0M155.7 176.0h0M159.0 177.8h0M162.5 175.0h0M160.1 178.2h0"/>
<path stroke="#ffe300" stroke-width="2.0" stroke-linecap="round" d="M158.3 177.1h0"/>
<ellipse cx="167.5" cy="171.5" rx="3.6" ry="1.9" fill="#48ffb6"/>
<ellipse cx="167" cy="167.3" rx="3.8" ry="1.8" fill="#1030f0" transform="rotate(-22 167 167.3)"/>
<circle cx="161" cy="172.5" r="2.2" fill="#1060ff"/>
<circle cx="161.8" cy="173.4" r="1.2" fill="#40a0ff"/>
<circle cx="206.5" cy="168.5" r="3.2" fill="#0050ff"/>
<circle cx="209.5" cy="168.8" r="2.6" fill="#0040f0"/>
<circle cx="204" cy="169.5" r="2" fill="#20a0ff"/>
<circle cx="227" cy="183.5" r="1.5" fill="#0030e0"/>
<circle cx="229.5" cy="193.5" r="2" fill="#1030ff"/>
<circle cx="231.5" cy="199.5" r="1.1" fill="#2040ff"/>
<circle cx="226" cy="197" r="1" fill="#20e0ff"/>
<circle cx="200" cy="178" r="1.6" fill="#2080ff"/>
<circle cx="214" cy="178.5" r="1.5" fill="#1060ff"/>
<circle cx="193" cy="181" r="1.3" fill="#40c0ff"/>
<line x1="166.7" y1="89.5" x2="166.0" y2="96.0" stroke="#89ff75" stroke-width="2.2" stroke-linecap="round"/>
<line x1="166.0" y1="96.0" x2="165.2" y2="104.0" stroke="#89ff75" stroke-width="2.2" stroke-linecap="round"/>
<line x1="165.2" y1="104.0" x2="163.1" y2="113.2" stroke="#89ff75" stroke-width="2.3" stroke-linecap="round"/>
<line x1="163.1" y1="113.2" x2="161.2" y2="122.3" stroke="#c9ff35" stroke-width="2.3" stroke-linecap="round"/>
<line x1="161.2" y1="122.3" x2="159.7" y2="131.4" stroke="#c9ff35" stroke-width="2.3" stroke-linecap="round"/>
<line x1="159.7" y1="131.4" x2="158.0" y2="140.5" stroke="#c9ff35" stroke-width="2.3" stroke-linecap="round"/>
<line x1="158.0" y1="140.5" x2="156.2" y2="145.0" stroke="#fff300" stroke-width="2.2" stroke-linecap="round"/>
<line x1="156.2" y1="145.0" x2="154.5" y2="148.0" stroke="#fff300" stroke-width="2.2" stroke-linecap="round"/>
<line x1="154.5" y1="148.0" x2="155.0" y2="151.0" stroke="#ffb300" stroke-width="2.1" stroke-linecap="round"/>
<line x1="155.0" y1="151.0" x2="157.0" y2="153.0" stroke="#ffb300" stroke-width="2.0" stroke-linecap="round"/>
<line x1="157.0" y1="153.0" x2="162.0" y2="155.0" stroke="#ffb300" stroke-width="2.1" stroke-linecap="round"/>
<line x1="162.0" y1="155.0" x2="166.0" y2="156.0" stroke="#ffb300" stroke-width="2.1" stroke-linecap="round"/>
<path stroke="#ffe300" stroke-width="1.0" stroke-linecap="round" d="M158.3 139.4h0M155.0 147.5h0M158.4 135.5h0M158.8 136.8h0M153.5 148.5h0"/>
<path stroke="#79ff85" stroke-width="1.0" stroke-linecap="round" d="M163.5 109.3h0M162.1 122.3h0M164.3 109.7h0M164.9 105.5h0M164.7 100.1h0M167.4 90.4h0M165.6 98.8h0M162.1 118.8h0M164.7 102.3h0"/>
<path stroke="#79ff85" stroke-width="1.5" stroke-linecap="round" d="M165.4 105.9h0M165.9 102.8h0M165.3 97.2h0M162.7 115.4h0M163.9 112.6h0M164.6 104.3h0"/>
<path stroke="#ffe300" stroke-width="1.5" stroke-linecap="round" d="M154.4 149.4h0M154.9 149.5h0M157.8 138.4h0M155.7 151.9h0M156.1 151.2h0M157.5 141.5h0M157.8 135.7h0"/>
<path stroke="#b9ff45" stroke-width="1.5" stroke-linecap="round" d="M158.4 133.3h0M164.0 112.3h0M163.7 110.3h0M159.5 131.4h0M160.1 132.9h0M160.6 127.9h0M159.1 130.3h0"/>
<path stroke="#ffa300" stroke-width="1.5" stroke-linecap="round" d="M160.7 154.2h0M160.1 153.3h0M156.2 145.6h0"/>
<path stroke="#b9ff45" stroke-width="1.0" stroke-linecap="round" d="M165.9 96.8h0M162.1 115.2h0M166.1 91.8h0M165.9 96.7h0M166.1 93.5h0"/>
<path stroke="#faff04" stroke-width="1.5" stroke-linecap="round" d="M165.8 96.6h0M164.8 103.7h0"/>
<path stroke="#faff04" stroke-width="1.0" stroke-linecap="round" d="M164.0 108.5h0M167.0 94.1h0M165.0 107.1h0M164.7 99.6h0M163.6 114.8h0M166.1 94.8h0M161.2 127.5h0M161.2 125.1h0"/>
<path stroke="#ffc300" stroke-width="1.5" stroke-linecap="round" d="M157.8 141.3h0"/>
<path stroke="#ffa300" stroke-width="1.0" stroke-linecap="round" d="M161.3 154.1h0M163.8 154.9h0M154.6 148.2h0M160.6 154.9h0"/>
<path stroke="#ffc300" stroke-width="1.0" stroke-linecap="round" d="M154.8 149.3h0M155.9 152.1h0M159.8 153.5h0"/>
<rect x="164" y="96.5" width="4" height="3" fill="#fff"/>
<line x1="159.5" y1="132.2" x2="163.0" y2="131.8" stroke="#00d6ff" stroke-width="1.6" stroke-linecap="round"/>
<line x1="163.0" y1="131.8" x2="165.5" y2="131.5" stroke="#00d6ff" stroke-width="1.5" stroke-linecap="round"/>
<circle cx="164.6" cy="131.9" r="1.1" fill="#2040ff"/>
<line x1="194.6" y1="82.3" x2="192.5" y2="87.0" stroke="#ff6200" stroke-width="2.6" stroke-linecap="round"/>
<line x1="192.5" y1="87.0" x2="189.2" y2="95.0" stroke="#ff6200" stroke-width="4.3" stroke-linecap="round"/>
<line x1="189.2" y1="95.0" x2="184.6" y2="104.1" stroke="#ff6200" stroke-width="7.0" stroke-linecap="round"/>
<line x1="184.6" y1="104.1" x2="181.4" y2="113.2" stroke="#ff6200" stroke-width="10.0" stroke-linecap="round"/>
<line x1="181.4" y1="113.2" x2="180.4" y2="117.7" stroke="#ff6200" stroke-width="11.5" stroke-linecap="round"/>
<line x1="180.4" y1="117.7" x2="178.6" y2="122.3" stroke="#ff6200" stroke-width="11.3" stroke-linecap="round"/>
<line x1="178.6" y1="122.3" x2="175.9" y2="126.8" stroke="#ff6200" stroke-width="10.5" stroke-linecap="round"/>
<line x1="175.9" y1="126.8" x2="173.2" y2="131.4" stroke="#ff6200" stroke-width="9.0" stroke-linecap="round"/>
<line x1="173.2" y1="131.4" x2="171.0" y2="135.9" stroke="#ff6200" stroke-width="8.5" stroke-linecap="round"/>
<line x1="171.0" y1="135.9" x2="169.0" y2="140.5" stroke="#ff6200" stroke-width="8.9" stroke-linecap="round"/>
<line x1="169.0" y1="140.5" x2="166.8" y2="145.0" stroke="#ff6200" stroke-width="9.5" stroke-linecap="round"/>
<line x1="166.8" y1="145.0" x2="164.5" y2="150.0" stroke="#ff6200" stroke-width="9.8" stroke-linecap="round"/>
<line x1="164.5" y1="150.0" x2="163.0" y2="155.0" stroke="#ff6200" stroke-width="8.8" stroke-linecap="round"/>
<line x1="163.0" y1="155.0" x2="162.0" y2="160.0" stroke="#ff6200" stroke-width="7.5" stroke-linecap="round"/>
<line x1="162.0" y1="160.0" x2="162.5" y2="165.0" stroke="#ff6200" stroke-width="6.8" stroke-linecap="round"/>
<line x1="194.1" y1="82.3" x2="192.0" y2="87.0" stroke="#ff1b00" stroke-width="1.9" stroke-linecap="round"/>
<line x1="192.0" y1="87.0" x2="188.7" y2="95.0" stroke="#ff1b00" stroke-width="3.2" stroke-linecap="round"/>
<line x1="188.7" y1="95.0" x2="184.1" y2="104.1" stroke="#ff1b00" stroke-width="5.2" stroke-linecap="round"/>
<line x1="184.1" y1="104.1" x2="180.9" y2="113.2" stroke="#ff1b00" stroke-width="7.4" stroke-linecap="round"/>
<line x1="180.9" y1="113.2" x2="179.9" y2="117.7" stroke="#ff1b00" stroke-width="8.5" stroke-linecap="round"/>
<line x1="179.9" y1="117.7" x2="178.1" y2="122.3" stroke="#ff1b00" stroke-width="8.4" stroke-linecap="round"/>
<line x1="178.1" y1="122.3" x2="175.4" y2="126.8" stroke="#ff1b00" stroke-width="7.8" stroke-linecap="round"/>
<line x1="175.4" y1="126.8" x2="172.7" y2="131.4" stroke="#ff1b00" stroke-width="6.7" stroke-linecap="round"/>
<line x1="172.7" y1="131.4" x2="170.5" y2="135.9" stroke="#ff1b00" stroke-width="6.3" stroke-linecap="round"/>
<line x1="170.5" y1="135.9" x2="168.5" y2="140.5" stroke="#ff1b00" stroke-width="6.6" stroke-linecap="round"/>
<line x1="168.5" y1="140.5" x2="166.3" y2="145.0" stroke="#ff1b00" stroke-width="7.0" stroke-linecap="round"/>
<line x1="166.3" y1="145.0" x2="164.0" y2="150.0" stroke="#ff1b00" stroke-width="7.2" stroke-linecap="round"/>
<line x1="164.0" y1="150.0" x2="162.5" y2="155.0" stroke="#ff1b00" stroke-width="6.5" stroke-linecap="round"/>
<line x1="162.5" y1="155.0" x2="161.5" y2="160.0" stroke="#ff1b00" stroke-width="5.5" stroke-linecap="round"/>
<line x1="161.5" y1="160.0" x2="162.0" y2="165.0" stroke="#ff1b00" stroke-width="5.0" stroke-linecap="round"/>
<line x1="181.0" y1="108.0" x2="179.8" y2="113.2" stroke="#a90000" stroke-width="3.4" stroke-linecap="round"/>
<line x1="179.8" y1="113.2" x2="179.2" y2="118.0" stroke="#a90000" stroke-width="4.2" stroke-linecap="round"/>
<line x1="179.2" y1="118.0" x2="178.5" y2="121.5" stroke="#a90000" stroke-width="3.5" stroke-linecap="round"/>
<line x1="170.0" y1="137.0" x2="166.0" y2="146.0" stroke="#e00000" stroke-width="2.2" stroke-linecap="round"/>
<line x1="166.0" y1="146.0" x2="162.5" y2="152.0" stroke="#e00000" stroke-width="2.5" stroke-linecap="round"/>
<line x1="162.5" y1="152.0" x2="161.5" y2="160.0" stroke="#e00000" stroke-width="2.5" stroke-linecap="round"/>
<path stroke="#ffa300" stroke-width="1.5" stroke-linecap="round" d="M172.6 137.6h0M173.8 132.7h0M181.9 112.8h0M181.9 118.4h0M177.5 123.7h0M179.7 118.2h0M183.6 104.2h0"/>
<path stroke="#ffa300" stroke-width="1.0" stroke-linecap="round" d="M161.4 159.4h0M181.9 116.8h0M194.2 83.3h0M164.6 144.3h0M189.2 97.8h0M160.1 152.4h0M162.0 152.6h0M187.0 106.4h0M165.5 144.0h0M174.3 129.0h0M165.6 139.3h0M162.7 158.7h0M168.7 146.2h0M162.5 158.9h0M192.0 91.6h0M181.2 113.3h0M164.2 151.7h0M186.0 100.4h0"/>
<path stroke="#ff4200" stroke-width="1.5" stroke-linecap="round" d="M188.7 95.4h0M178.8 113.9h0M187.6 99.2h0M167.0 141.6h0M191.3 88.1h0M191.0 90.1h0M176.8 122.0h0M178.1 129.9h0M181.0 115.1h0"/>
<path stroke="#ff4200" stroke-width="1.0" stroke-linecap="round" d="M191.4 93.7h0M181.5 110.4h0M191.8 88.8h0M172.9 132.7h0M168.0 149.5h0M172.2 133.5h0M162.2 163.3h0M179.3 128.5h0M164.8 146.7h0M174.4 120.3h0M183.5 106.7h0M173.1 139.2h0M187.9 97.6h0M189.8 94.2h0"/>
<path stroke="#ff6200" stroke-width="1.5" stroke-linecap="round" d="M185.9 103.3h0M171.2 134.9h0M189.0 93.6h0M171.8 143.0h0M174.4 130.6h0M174.5 123.7h0M193.3 85.3h0M185.2 103.3h0M177.1 124.8h0M171.0 135.2h0M174.0 125.3h0"/>
<path stroke="#ff8200" stroke-width="1.5" stroke-linecap="round" d="M186.8 111.1h0M185.4 104.3h0M170.8 140.8h0M177.7 131.6h0M193.9 83.0h0M181.0 115.1h0M166.6 146.1h0M164.7 163.1h0M186.1 106.8h0"/>
<path stroke="#ff2100" stroke-width="1.0" stroke-linecap="round" d="M171.2 141.3h0M164.4 164.8h0M193.1 88.2h0M161.2 160.3h0M182.8 108.0h0M170.7 138.3h0M181.5 112.0h0M160.3 159.5h0M181.5 118.2h0M194.1 83.6h0M170.0 138.0h0M161.4 149.8h0M162.8 160.6h0M164.5 153.5h0M168.5 144.9h0M184.8 102.8h0"/>
<path stroke="#ff8200" stroke-width="1.0" stroke-linecap="round" d="M175.1 124.6h0M177.2 120.3h0M171.8 135.1h0M179.5 121.6h0M163.1 163.3h0M183.5 107.9h0M177.2 118.6h0M164.8 154.4h0M166.0 141.0h0M175.8 126.0h0M184.8 103.7h0M168.9 139.3h0M175.6 132.1h0M175.3 122.9h0M163.8 150.9h0M190.6 96.7h0M190.4 95.7h0M177.7 123.5h0M172.6 124.2h0"/>
<path stroke="#ff2100" stroke-width="1.5" stroke-linecap="round" d="M177.4 124.8h0M162.0 161.1h0M183.2 115.2h0M162.4 159.8h0M191.2 89.8h0M188.5 97.9h0M173.2 134.1h0M184.4 106.9h0M191.9 90.7h0"/>
<path stroke="#ff6200" stroke-width="1.0" stroke-linecap="round" d="M183.9 104.1h0M162.0 164.2h0M181.6 110.9h0M176.7 128.8h0M186.8 101.3h0M190.4 95.9h0M172.6 122.9h0M173.3 131.7h0"/>
<line x1="166.0" y1="141.0" x2="165.2" y2="146.0" stroke="#ffffff" stroke-width="1.3" stroke-linecap="round"/>
<line x1="165.2" y1="146.0" x2="164.8" y2="150.0" stroke="#ffffff" stroke-width="1.3" stroke-linecap="round"/>
<circle cx="191.90152084751324" cy="86" r="0.8" fill="#20a0ff"/>
<circle cx="191.30313936944677" cy="88.5" r="0.8" fill="#3060ff"/>
<circle cx="190.64171597690896" cy="91" r="0.8" fill="#40e0c0"/>
<circle cx="189.85064815059923" cy="93.5" r="0.8" fill="#3060ff"/>
<circle cx="188.6605494009091" cy="96.5" r="0.8" fill="#3060ff"/>
<circle cx="187.33364702267784" cy="99" r="0.8" fill="#3060ff"/>
<path stroke="#d9ff25" stroke-width="1.5" stroke-linecap="round" d="M186.5 104.7h0M192.0 88.6h0M189.9 96.6h0"/>
<path stroke="#99ff65" stroke-width="1.0" stroke-linecap="round" d="M189.1 96.9h0M192.0 88.7h0M191.9 89.4h0M189.0 95.7h0M186.3 104.7h0"/>
<path stroke="#b9ff45" stroke-width="1.0" stroke-linecap="round" d="M192.7 88.6h0M193.5 86.9h0M193.2 87.0h0M191.7 90.3h0M193.8 84.5h0M189.0 96.3h0"/>
<path stroke="#d9ff25" stroke-width="1.0" stroke-linecap="round" d="M187.1 101.5h0M190.2 92.7h0M189.1 96.8h0"/>
<path stroke="#b9ff45" stroke-width="1.5" stroke-linecap="round" d="M186.6 103.4h0M189.7 94.7h0M191.3 90.6h0M189.8 96.0h0M187.8 101.3h0M192.3 88.4h0"/>
<path stroke="#99ff65" stroke-width="1.5" stroke-linecap="round" d="M194.2 84.4h0M188.2 99.1h0"/>
<circle cx="179.5" cy="120.5" r="1.0" fill="#ffe300"/>
<circle cx="180.8" cy="117" r="0.7" fill="#ffc300"/>
<line x1="204.8" y1="83.2" x2="202.3" y2="91.4" stroke="#ff1400" stroke-width="3.7" stroke-linecap="round"/>
<line x1="202.3" y1="91.4" x2="198.5" y2="97.6" stroke="#ff1400" stroke-width="4.5" stroke-linecap="round"/>
<line x1="198.5" y1="97.6" x2="196.3" y2="102.3" stroke="#ff1400" stroke-width="4.9" stroke-linecap="round"/>
<line x1="196.3" y1="102.3" x2="195.8" y2="108.0" stroke="#ff1400" stroke-width="5.0" stroke-linecap="round"/>
<line x1="195.8" y1="108.0" x2="195.9" y2="113.2" stroke="#ff1400" stroke-width="5.0" stroke-linecap="round"/>
<line x1="195.9" y1="113.2" x2="196.2" y2="120.0" stroke="#ff1400" stroke-width="4.9" stroke-linecap="round"/>
<line x1="196.2" y1="120.0" x2="196.6" y2="126.0" stroke="#ff1400" stroke-width="4.7" stroke-linecap="round"/>
<line x1="196.6" y1="126.0" x2="196.8" y2="131.0" stroke="#ff1400" stroke-width="4.5" stroke-linecap="round"/>
<line x1="196.8" y1="131.0" x2="197.0" y2="135.0" stroke="#ff1400" stroke-width="4.5" stroke-linecap="round"/>
<line x1="197.0" y1="135.0" x2="197.5" y2="140.0" stroke="#ff1400" stroke-width="4.7" stroke-linecap="round"/>
<line x1="197.5" y1="140.0" x2="200.0" y2="145.0" stroke="#ff1400" stroke-width="4.9" stroke-linecap="round"/>
<line x1="200.0" y1="145.0" x2="203.0" y2="149.0" stroke="#ff1400" stroke-width="4.9" stroke-linecap="round"/>
<line x1="203.0" y1="149.0" x2="206.5" y2="152.0" stroke="#ff1400" stroke-width="4.5" stroke-linecap="round"/>
<path stroke="#ff0100" stroke-width="1.0" stroke-linecap="round" d="M196.0 130.0h0M195.8 122.7h0M195.7 130.5h0M197.1 119.2h0M197.4 128.5h0M199.9 144.8h0M194.9 114.0h0M196.9 133.3h0M196.2 123.4h0M200.4 146.3h0M202.3 147.9h0M196.2 103.0h0M197.6 124.2h0M197.1 123.1h0M203.4 85.0h0M195.3 110.6h0M198.7 141.2h0M199.0 143.4h0"/>
<path stroke="#ff3200" stroke-width="1.5" stroke-linecap="round" d="M201.2 94.3h0M197.9 119.5h0M195.4 130.3h0M202.1 90.7h0M196.1 131.8h0M201.4 90.2h0M197.2 103.5h0M195.0 107.8h0"/>
<path stroke="#ff0100" stroke-width="1.5" stroke-linecap="round" d="M197.9 103.0h0M198.8 96.3h0M196.7 108.1h0M197.9 139.9h0"/>
<path stroke="#fa0000" stroke-width="1.0" stroke-linecap="round" d="M196.9 142.4h0M201.6 146.6h0M198.8 95.9h0M194.7 112.3h0M202.8 90.0h0"/>
<path stroke="#fa0000" stroke-width="1.5" stroke-linecap="round" d="M195.5 110.6h0M204.2 85.1h0M204.5 148.9h0"/>
<path stroke="#ff2100" stroke-width="1.0" stroke-linecap="round" d="M203.1 87.6h0M194.2 103.8h0M199.6 145.4h0M197.7 142.6h0M195.1 104.6h0M196.4 104.1h0M198.7 130.7h0M196.0 134.2h0M196.4 102.7h0M198.1 97.7h0"/>
<path stroke="#ff2100" stroke-width="1.5" stroke-linecap="round" d="M196.8 130.1h0M200.3 148.3h0M201.8 147.4h0M196.4 132.2h0M198.7 128.0h0M199.7 95.1h0M197.2 138.2h0"/>
<path stroke="#ff3200" stroke-width="1.0" stroke-linecap="round" d="M196.5 119.2h0M196.9 114.5h0M197.6 133.2h0M196.5 104.4h0M199.6 144.8h0"/>
<line x1="196.5" y1="139.8" x2="191.0" y2="140.2" stroke="#ff7200" stroke-width="1.6" stroke-linecap="round"/>
<line x1="191.0" y1="140.2" x2="186.5" y2="140.3" stroke="#ff7200" stroke-width="1.5" stroke-linecap="round"/>
<line x1="201.2" y1="123.0" x2="202.8" y2="128.0" stroke="#ffc300" stroke-width="1.4" stroke-linecap="round"/>
<line x1="202.8" y1="128.0" x2="203.4" y2="135.0" stroke="#ffc300" stroke-width="1.4" stroke-linecap="round"/>
<line x1="203.4" y1="135.0" x2="203.6" y2="142.0" stroke="#ffc300" stroke-width="1.4" stroke-linecap="round"/>
<line x1="203.6" y1="142.0" x2="204.3" y2="149.5" stroke="#ffc300" stroke-width="1.4" stroke-linecap="round"/>
<path stroke="#ffe300" stroke-width="1.0" stroke-linecap="round" d="M203.9 141.7h0M203.4 137.8h0M204.7 147.4h0M202.4 130.7h0M203.3 142.1h0M204.2 139.0h0"/>
<path stroke="#ffb300" stroke-width="1.5" stroke-linecap="round" d="M201.7 123.1h0"/>
<path stroke="#faff04" stroke-width="1.0" stroke-linecap="round" d="M203.5 142.0h0M204.2 142.4h0M204.2 148.5h0M203.7 148.8h0M204.3 144.0h0M204.0 143.6h0M202.5 129.5h0"/>
<path stroke="#ffb300" stroke-width="1.0" stroke-linecap="round" d="M204.0 138.7h0M204.1 147.0h0M204.2 141.4h0"/>
<path stroke="#ffe300" stroke-width="1.5" stroke-linecap="round" d="M203.4 135.7h0"/>
<path stroke="#faff04" stroke-width="0.5" stroke-linecap="round" d="M203.9 140.0h0"/>
<path stroke="#ffe300" stroke-width="0.5" stroke-linecap="round" d="M202.9 132.5h0"/>
<line x1="194.5" y1="151.0" x2="198.0" y2="153.5" stroke="#ff2100" stroke-width="4.1" stroke-linecap="round"/>
<line x1="198.0" y1="153.5" x2="204.0" y2="157.2" stroke="#ff2100" stroke-width="4.1" stroke-linecap="round"/>
<line x1="204.0" y1="157.2" x2="211.8" y2="161.4" stroke="#ff2100" stroke-width="3.9" stroke-linecap="round"/>
<line x1="211.8" y1="161.4" x2="217.3" y2="164.6" stroke="#ff9200" stroke-width="3.4" stroke-linecap="round"/>
<line x1="217.3" y1="164.6" x2="224.9" y2="169.0" stroke="#ff9200" stroke-width="3.0" stroke-linecap="round"/>
<line x1="224.9" y1="169.0" x2="231.5" y2="176.6" stroke="#ff9200" stroke-width="3.0" stroke-linecap="round"/>
<line x1="231.5" y1="176.6" x2="235.8" y2="182.1" stroke="#ff9200" stroke-width="3.0" stroke-linecap="round"/>
<line x1="235.8" y1="182.1" x2="242.4" y2="185.4" stroke="#ff9200" stroke-width="3.0" stroke-linecap="round"/>
<line x1="242.4" y1="185.4" x2="247.8" y2="184.3" stroke="#ff9200" stroke-width="2.9" stroke-linecap="round"/>
<line x1="247.8" y1="184.3" x2="249.5" y2="182.0" stroke="#ff9200" stroke-width="2.4" stroke-linecap="round"/>
<path stroke="#ff4200" stroke-width="1.5" stroke-linecap="round" d="M214.3 160.9h0M206.0 158.3h0M199.6 154.5h0M215.0 163.9h0M208.0 159.2h0"/>
<path stroke="#ff2100" stroke-width="1.5" stroke-linecap="round" d="M194.5 151.9h0M207.5 158.8h0M206.4 158.7h0M199.3 153.5h0M212.2 161.5h0M202.6 156.3h0"/>
<path stroke="#ff2100" stroke-width="1.0" stroke-linecap="round" d="M212.1 161.6h0M208.3 160.5h0M211.4 160.7h0M210.8 162.2h0M196.0 152.0h0M211.3 161.3h0M209.7 160.6h0M205.8 158.3h0"/>
<path stroke="#ff4200" stroke-width="1.0" stroke-linecap="round" d="M202.2 156.2h0M198.4 153.7h0M208.2 159.3h0M207.4 159.6h0M210.9 162.0h0M196.8 153.8h0M202.0 156.2h0M201.9 157.3h0M204.3 157.5h0"/>
<path stroke="#ffa300" stroke-width="1.5" stroke-linecap="round" d="M223.9 168.5h0M240.2 183.5h0M217.7 164.9h0M237.5 183.6h0"/>
<path stroke="#ff8200" stroke-width="1.0" stroke-linecap="round" d="M229.2 173.7h0M230.7 176.1h0M238.1 183.4h0"/>
<path stroke="#ffc300" stroke-width="1.0" stroke-linecap="round" d="M233.9 179.1h0M238.4 182.4h0M242.0 186.6h0M219.9 166.4h0M233.9 179.8h0"/>
<path stroke="#ffc300" stroke-width="1.5" stroke-linecap="round" d="M221.8 167.2h0M222.7 168.1h0M215.6 164.5h0M236.6 182.4h0"/>
<path stroke="#ff8200" stroke-width="1.5" stroke-linecap="round" d="M227.4 171.4h0M243.9 185.9h0"/>
<path stroke="#ffa300" stroke-width="1.0" stroke-linecap="round" d="M242.5 184.6h0M241.1 184.7h0M234.2 177.9h0M224.0 170.2h0"/>
<line x1="215.0" y1="163.0" x2="222.7" y2="166.8" stroke="#ff8200" stroke-width="2.1" stroke-linecap="round"/>
<line x1="222.7" y1="166.8" x2="228.2" y2="173.4" stroke="#ff8200" stroke-width="2.2" stroke-linecap="round"/>
<line x1="228.2" y1="173.4" x2="233.6" y2="179.9" stroke="#ff8200" stroke-width="2.1" stroke-linecap="round"/>
<line x1="233.6" y1="179.9" x2="238.0" y2="183.0" stroke="#ff8200" stroke-width="1.8" stroke-linecap="round"/>
<line x1="195.5" y1="158.0" x2="198.0" y2="160.0" stroke="#ff2100" stroke-width="3.0" stroke-linecap="round"/>
<line x1="197.2" y1="141.0" x2="196.3" y2="146.0" stroke="#ff1b00" stroke-width="3.6" stroke-linecap="round"/>
<line x1="196.3" y1="146.0" x2="196.0" y2="150.0" stroke="#ff1b00" stroke-width="3.9" stroke-linecap="round"/>
<line x1="175.1" y1="151.8" x2="177.1" y2="155.1" stroke="#ff9c00" stroke-width="1.7" stroke-linecap="round"/>
<line x1="177.1" y1="155.1" x2="179.7" y2="157.1" stroke="#ff9c00" stroke-width="1.7" stroke-linecap="round"/>
<line x1="179.7" y1="157.1" x2="182.4" y2="158.4" stroke="#ff9c00" stroke-width="1.7" stroke-linecap="round"/>
<line x1="182.4" y1="158.4" x2="185.0" y2="158.4" stroke="#ff9c00" stroke-width="1.6" stroke-linecap="round"/>
<line x1="182.4" y1="158.4" x2="183.0" y2="161.0" stroke="#ff8c00" stroke-width="1.5" stroke-linecap="round"/>
<line x1="183.0" y1="161.0" x2="183.7" y2="163.5" stroke="#ff8c00" stroke-width="1.5" stroke-linecap="round"/>
<line x1="164.6" y1="157.1" x2="169.9" y2="158.4" stroke="#ff7c00" stroke-width="1.9" stroke-linecap="round"/>
<line x1="169.9" y1="158.4" x2="174.5" y2="160.4" stroke="#ff7c00" stroke-width="1.9" stroke-linecap="round"/>
<line x1="174.5" y1="160.4" x2="177.1" y2="163.7" stroke="#ff7c00" stroke-width="1.9" stroke-linecap="round"/>
<line x1="177.1" y1="163.7" x2="178.4" y2="165.6" stroke="#ff7c00" stroke-width="1.8" stroke-linecap="round"/>
<polygon points="194.2,161.7 196.5,157.7 198.4,161.5" fill="#ff2100"/>
<circle cx="181.7" cy="143.3" r="0.9" fill="#ffa300"/>
<circle cx="181" cy="151.8" r="0.9" fill="#ffa300"/>
<circle cx="190.3" cy="155.8" r="0.9" fill="#ffe300"/>
<circle cx="190.3" cy="160.4" r="0.9" fill="#ff8200"/>
<circle cx="177.1" cy="148.5" r="0.9" fill="#18ffe6"/>
<circle cx="177.8" cy="139" r="0.9" fill="#3040e0"/>
<circle cx="195.5" cy="145.9" r="0.9" fill="#2050ff"/>
<circle cx="189" cy="132" r="0.9" fill="#ffa300"/>
<circle cx="186" cy="149" r="0.9" fill="#ffc300"/>
<line x1="174.5" y1="129.5" x2="178.2" y2="130.5" stroke="#00e6ff" stroke-width="2.0" stroke-linecap="round"/>
<line x1="178.2" y1="130.5" x2="180.9" y2="134.1" stroke="#00e6ff" stroke-width="2.0" stroke-linecap="round"/>
<line x1="180.9" y1="134.1" x2="183.6" y2="138.6" stroke="#28ffd6" stroke-width="2.1" stroke-linecap="round"/>
<line x1="183.6" y1="138.6" x2="187.3" y2="142.3" stroke="#28ffd6" stroke-width="2.2" stroke-linecap="round"/>
<line x1="187.3" y1="142.3" x2="190.9" y2="145.0" stroke="#28ffd6" stroke-width="2.2" stroke-linecap="round"/>
<line x1="190.9" y1="145.0" x2="196.8" y2="148.4" stroke="#68ff96" stroke-width="2.3" stroke-linecap="round"/>
<line x1="196.8" y1="148.4" x2="200.9" y2="151.5" stroke="#68ff96" stroke-width="2.4" stroke-linecap="round"/>
<line x1="200.9" y1="151.5" x2="207.7" y2="154.6" stroke="#68ff96" stroke-width="2.4" stroke-linecap="round"/>
<line x1="207.7" y1="154.6" x2="211.8" y2="157.0" stroke="#a9ff55" stroke-width="2.4" stroke-linecap="round"/>
<line x1="211.8" y1="157.0" x2="218.6" y2="160.5" stroke="#a9ff55" stroke-width="2.4" stroke-linecap="round"/>
<line x1="218.6" y1="160.5" x2="222.7" y2="162.5" stroke="#a9ff55" stroke-width="2.4" stroke-linecap="round"/>
<line x1="222.7" y1="162.5" x2="228.0" y2="165.0" stroke="#eaff14" stroke-width="2.4" stroke-linecap="round"/>
<line x1="228.0" y1="165.0" x2="233.6" y2="167.9" stroke="#eaff14" stroke-width="2.3" stroke-linecap="round"/>
<line x1="233.6" y1="167.9" x2="239.0" y2="170.8" stroke="#eaff14" stroke-width="2.3" stroke-linecap="round"/>
<line x1="239.0" y1="170.8" x2="244.5" y2="173.4" stroke="#eaff14" stroke-width="2.2" stroke-linecap="round"/>
<line x1="244.5" y1="173.4" x2="248.9" y2="176.6" stroke="#eaff14" stroke-width="2.1" stroke-linecap="round"/>
<path stroke="#fbff03" stroke-width="1.5" stroke-linecap="round" d="M219.6 160.6h0"/>
<path stroke="#82ff7c" stroke-width="1.0" stroke-linecap="round" d="M203.2 152.8h0"/>
<path stroke="#ffbb00" stroke-width="1.0" stroke-linecap="round" d="M241.2 172.8h0M242.3 173.2h0"/>
<path stroke="#ffc500" stroke-width="1.5" stroke-linecap="round" d="M248.9 176.3h0"/>
<path stroke="#62ff9c" stroke-width="1.5" stroke-linecap="round" d="M177.3 130.0h0"/>
<path stroke="#ccff32" stroke-width="1.0" stroke-linecap="round" d="M204.7 153.5h0"/>
<path stroke="#57ffa7" stroke-width="1.0" stroke-linecap="round" d="M193.6 146.6h0M193.6 146.3h0"/>
<path stroke="#58ffa6" stroke-width="1.5" stroke-linecap="round" d="M174.4 129.2h0"/>
<path stroke="#ffbb00" stroke-width="1.5" stroke-linecap="round" d="M241.8 171.2h0"/>
<path stroke="#55ffa9" stroke-width="1.5" stroke-linecap="round" d="M193.1 146.9h0"/>
<path stroke="#52ffac" stroke-width="1.0" stroke-linecap="round" d="M192.8 145.8h0"/>
<path stroke="#98ff66" stroke-width="1.0" stroke-linecap="round" d="M209.4 155.4h0M196.2 148.2h0"/>
<path stroke="#7bff83" stroke-width="1.5" stroke-linecap="round" d="M202.7 152.6h0"/>
<path stroke="#b5ff49" stroke-width="1.5" stroke-linecap="round" d="M203.8 153.5h0"/>
<path stroke="#fffd00" stroke-width="1.5" stroke-linecap="round" d="M221.5 161.6h0"/>
<path stroke="#ffd600" stroke-width="1.0" stroke-linecap="round" d="M232.9 168.4h0"/>
<path stroke="#c0ff3e" stroke-width="1.0" stroke-linecap="round" d="M207.2 155.2h0"/>
<path stroke="#c5ff39" stroke-width="1.0" stroke-linecap="round" d="M209.4 155.1h0"/>
<path stroke="#e4ff1a" stroke-width="1.0" stroke-linecap="round" d="M228.2 164.8h0"/>
<path stroke="#ffe000" stroke-width="1.0" stroke-linecap="round" d="M242.1 172.4h0"/>
<path stroke="#5cffa2" stroke-width="1.0" stroke-linecap="round" d="M181.9 136.2h0"/>
<path stroke="#ffef00" stroke-width="1.0" stroke-linecap="round" d="M228.5 164.4h0"/>
<path stroke="#ffc300" stroke-width="1.0" stroke-linecap="round" d="M240.5 170.8h0"/>
<path stroke="#89ff75" stroke-width="1.0" stroke-linecap="round" d="M186.0 141.3h0"/>
<path stroke="#b3ff4b" stroke-width="1.0" stroke-linecap="round" d="M197.9 149.2h0"/>
<path stroke="#6eff90" stroke-width="1.5" stroke-linecap="round" d="M184.8 140.5h0"/>
<path stroke="#e1ff1d" stroke-width="1.0" stroke-linecap="round" d="M211.7 156.8h0"/>
<path stroke="#ffe600" stroke-width="1.0" stroke-linecap="round" d="M228.6 165.2h0"/>
<path stroke="#1dffe1" stroke-width="1.0" stroke-linecap="round" d="M182.0 136.1h0"/>
<path stroke="#98ff66" stroke-width="1.5" stroke-linecap="round" d="M190.5 144.0h0"/>
<path stroke="#d4ff2a" stroke-width="1.0" stroke-linecap="round" d="M212.4 157.4h0"/>
<path stroke="#feff00" stroke-width="1.0" stroke-linecap="round" d="M223.6 163.5h0"/>
<path stroke="#fff000" stroke-width="1.0" stroke-linecap="round" d="M225.4 163.5h0"/>
<path stroke="#84ff7a" stroke-width="1.0" stroke-linecap="round" d="M184.4 139.2h0"/>
<path stroke="#25ffd9" stroke-width="1.5" stroke-linecap="round" d="M183.0 137.8h0"/>
<path stroke="#ffe500" stroke-width="1.5" stroke-linecap="round" d="M232.1 166.9h0"/>
<path stroke="#f7ff07" stroke-width="1.5" stroke-linecap="round" d="M221.1 162.4h0"/>
<path stroke="#02fffc" stroke-width="1.5" stroke-linecap="round" d="M177.5 130.4h0"/>
<path stroke="#ffab00" stroke-width="1.5" stroke-linecap="round" d="M246.3 174.7h0"/>
<path stroke="#ffae00" stroke-width="1.0" stroke-linecap="round" d="M246.3 174.6h0"/>
<path stroke="#6cff92" stroke-width="1.5" stroke-linecap="round" d="M186.3 140.4h0"/>
<path stroke="#ffd500" stroke-width="1.0" stroke-linecap="round" d="M245.0 173.4h0"/>
<path stroke="#fbff03" stroke-width="1.0" stroke-linecap="round" d="M233.7 168.0h0"/>
<path stroke="#ffe100" stroke-width="1.0" stroke-linecap="round" d="M241.4 171.5h0"/>
<path stroke="#cdff31" stroke-width="1.5" stroke-linecap="round" d="M210.5 156.3h0"/>
<path stroke="#ffeb00" stroke-width="1.5" stroke-linecap="round" d="M227.2 164.6h0"/>
<path stroke="#48ffb6" stroke-width="1.0" stroke-linecap="round" d="M178.8 131.5h0"/>
<path stroke="#ffe800" stroke-width="1.5" stroke-linecap="round" d="M227.1 165.6h0"/>
<path stroke="#b8ff46" stroke-width="1.0" stroke-linecap="round" d="M217.1 159.9h0"/>
<path stroke="#ffb700" stroke-width="1.0" stroke-linecap="round" d="M243.0 172.8h0"/>
<path stroke="#4affb4" stroke-width="1.0" stroke-linecap="round" d="M190.9 144.8h0"/>
<path stroke="#79ff85" stroke-width="1.5" stroke-linecap="round" d="M183.0 136.6h0"/>
<path stroke="#a6ff58" stroke-width="1.5" stroke-linecap="round" d="M194.1 146.5h0"/>
<path stroke="#72ff8c" stroke-width="1.0" stroke-linecap="round" d="M186.1 141.5h0"/>
<path stroke="#c7ff37" stroke-width="1.5" stroke-linecap="round" d="M208.6 155.2h0"/>
<path stroke="#2effd0" stroke-width="1.5" stroke-linecap="round" d="M184.6 139.1h0"/>
<path stroke="#d3ff2b" stroke-width="1.5" stroke-linecap="round" d="M206.9 153.8h0"/>
<line x1="205.0" y1="155.5" x2="215.0" y2="160.5" stroke="#fff300" stroke-width="1.5" stroke-linecap="round"/>
<line x1="215.0" y1="160.5" x2="228.0" y2="167.5" stroke="#fff300" stroke-width="1.5" stroke-linecap="round"/>
<line x1="228.0" y1="167.5" x2="240.0" y2="174.0" stroke="#fff300" stroke-width="1.5" stroke-linecap="round"/>
<line x1="240.0" y1="174.0" x2="247.0" y2="178.0" stroke="#fff300" stroke-width="1.4" stroke-linecap="round"/>
<circle cx="177.3" cy="139.1" r="1.0" fill="#2020d0"/>
</g>
<g id="v2">
<polygon points="145.0,463.0 147.0,456.0 153.0,452.5 158.0,451.5 171.0,452.5 180.0,451.5 190.0,452.5 199.0,453.0 208.0,455.5 217.3,458.6 226.4,462.3 231.0,465.0 233.0,468.5 228.2,472.0 225.0,478.0 220.0,475.0 212.7,477.0 203.6,476.2 190.0,474.3 184.4,472.8 171.3,472.0 169.5,467.0 158.1,464.0 150.0,463.0" fill="#4cffb2"/>
<path stroke="#0000e5" stroke-width="1.5" stroke-linecap="round" d="M149.2 458.6h0M164.3 464.8h0M175.9 470.6h0M171.5 471.4h0M160.5 461.3h0M173.8 460.0h0M173.9 469.2h0M171.3 471.7h0M156.4 462.2h0M167.2 462.7h0M174.8 457.0h0M168.5 458.8h0"/>
<path stroke="#7fff7f" stroke-width="1.5" stroke-linecap="round" d="M211.6 466.7h0M173.5 454.5h0M184.2 466.9h0M158.7 458.4h0M154.6 459.4h0M208.1 473.1h0M203.9 461.3h0M205.3 474.2h0M161.3 461.9h0M198.2 473.2h0M225.5 476.8h0M171.9 453.8h0M191.2 464.2h0M156.9 457.9h0M194.0 454.6h0M179.4 469.1h0M215.7 460.0h0M169.6 456.1h0M202.1 470.6h0M223.0 463.4h0M230.2 467.8h0M183.4 465.1h0M177.1 459.2h0M149.2 460.0h0M175.1 471.8h0M173.9 467.8h0M227.7 465.2h0M153.4 458.2h0M210.0 472.9h0M219.6 468.9h0M200.2 458.3h0M211.9 473.7h0M227.4 463.8h0M185.1 457.4h0M229.6 469.3h0M158.7 454.2h0M220.8 460.2h0M184.2 464.3h0M226.4 473.2h0M193.7 468.7h0M169.5 462.5h0M179.1 457.7h0"/>
<path stroke="#b2ff4c" stroke-width="1.5" stroke-linecap="round" d="M166.1 465.3h0M192.7 459.3h0M173.3 462.3h0M215.0 464.0h0M153.0 454.3h0M201.3 473.9h0M182.4 465.6h0M168.8 464.4h0M224.6 465.9h0M194.4 471.1h0M162.6 464.3h0M189.5 461.8h0M211.4 469.9h0M206.6 464.4h0M202.4 473.2h0M216.5 471.4h0M171.4 465.4h0M165.2 453.7h0M211.3 469.7h0M213.1 463.9h0M171.5 466.0h0M181.7 455.2h0M177.4 458.6h0M146.6 462.8h0M174.6 458.8h0M164.9 463.5h0M199.8 455.4h0M203.3 459.1h0M154.2 462.2h0M224.7 469.8h0M160.2 454.2h0M157.5 451.8h0M182.6 456.9h0M181.9 458.5h0M162.6 456.6h0M151.5 454.5h0M145.9 461.1h0M208.0 462.9h0M210.9 470.6h0M201.1 463.2h0M189.3 452.5h0M187.9 464.0h0M161.9 459.1h0M218.4 464.4h0M156.8 460.1h0M175.6 467.3h0M195.4 473.8h0M201.4 466.4h0M201.9 461.3h0M153.5 456.3h0M195.3 462.2h0M166.4 460.9h0"/>
<path stroke="#19ffe5" stroke-width="1.5" stroke-linecap="round" d="M182.6 461.3h0M158.3 452.9h0M209.1 465.2h0M173.3 465.1h0M209.0 473.4h0M168.2 466.4h0M218.4 460.3h0M160.1 463.3h0M176.0 460.0h0M149.1 460.3h0M225.3 477.0h0M171.0 464.3h0M153.1 461.2h0M161.4 456.4h0M164.1 454.8h0M227.8 467.2h0M216.7 458.6h0M167.8 459.8h0M160.9 457.6h0M187.9 464.4h0M214.9 460.5h0M205.5 463.5h0M229.3 469.2h0M155.4 460.4h0M201.3 460.2h0M161.4 458.6h0M187.2 462.8h0M206.2 471.7h0M231.8 467.5h0M171.1 470.3h0M192.8 462.5h0M206.2 455.0h0M196.7 462.1h0M147.7 461.5h0M197.6 458.5h0M162.7 457.0h0M191.7 456.5h0M187.3 455.6h0M166.9 454.7h0M184.9 472.0h0M157.6 457.0h0M160.6 463.7h0M227.3 467.2h0M226.6 472.2h0M171.7 452.9h0M168.2 455.6h0M152.9 457.4h0M226.6 468.2h0M178.3 455.9h0M174.4 470.0h0M203.8 461.7h0M230.9 467.3h0M203.2 468.0h0M168.6 462.4h0"/>
<path stroke="#f9ff05" stroke-width="2.0" stroke-linecap="round" d="M197.1 461.2h0M196.8 462.7h0M177.3 466.9h0M194.0 460.2h0M193.2 461.0h0M179.5 462.6h0M219.5 465.0h0M211.4 475.3h0M201.7 471.9h0M193.7 460.4h0M178.6 464.7h0M194.7 470.8h0M191.0 470.7h0M210.5 465.6h0M181.3 462.6h0M189.4 462.0h0M204.3 463.7h0M191.8 455.8h0M185.0 465.3h0M198.9 455.2h0M201.1 475.2h0M192.3 462.7h0M211.7 471.5h0M188.7 466.2h0M196.8 472.0h0M207.1 467.2h0M180.7 464.0h0M186.0 472.1h0"/>
<path stroke="#00e5ff" stroke-width="2.0" stroke-linecap="round" d="M185.9 460.1h0M166.9 459.2h0M204.6 470.0h0M146.3 462.6h0M164.2 457.5h0M196.4 465.3h0M192.3 459.7h0M190.8 454.1h0M149.6 458.5h0M157.0 459.5h0M166.8 453.4h0M171.4 467.9h0M167.6 452.3h0M177.0 458.8h0M196.6 463.8h0M224.4 470.7h0M221.7 475.1h0M146.7 457.8h0M170.9 453.1h0M171.0 454.4h0M211.0 466.0h0M179.5 471.5h0M147.1 462.2h0M158.5 454.3h0M174.3 456.0h0M166.2 464.8h0M204.5 473.0h0M161.1 464.3h0M207.0 475.5h0M181.7 461.5h0M194.7 458.9h0M192.8 472.5h0M176.0 467.4h0M174.3 463.1h0M162.8 464.2h0M159.7 461.6h0M159.5 460.3h0M156.2 456.6h0M211.5 464.4h0M165.0 463.2h0M166.8 453.5h0M171.4 452.8h0M187.5 462.0h0M173.9 456.7h0M214.3 460.0h0M190.8 470.9h0M173.1 465.4h0M155.7 454.6h0M148.6 457.5h0M196.1 456.9h0M167.1 458.1h0M210.3 472.6h0M172.0 471.5h0M209.1 459.7h0"/>
<path stroke="#ff9e00" stroke-width="1.5" stroke-linecap="round" d="M222.0 475.4h0M198.5 467.1h0M209.0 475.2h0M210.3 472.3h0M195.6 455.4h0M190.5 459.0h0M197.7 472.8h0M222.0 466.4h0M185.0 459.2h0M202.7 464.9h0M210.7 473.9h0M177.3 457.7h0M202.9 462.9h0M218.5 463.9h0M203.7 462.0h0M177.1 469.1h0M189.3 471.3h0M210.3 469.2h0M192.4 461.1h0M199.5 461.1h0M204.3 472.9h0M224.1 471.5h0M197.9 466.2h0M190.8 471.4h0M216.6 458.6h0M188.5 455.9h0M214.0 463.3h0M184.6 452.0h0M189.9 465.8h0M183.1 455.1h0"/>
<path stroke="#4cffb2" stroke-width="1.5" stroke-linecap="round" d="M221.0 474.2h0M216.2 472.4h0M163.1 461.3h0M173.8 453.8h0M185.5 472.3h0M228.4 468.9h0M157.9 458.4h0M182.1 459.9h0M189.6 474.0h0M205.6 472.8h0M157.8 457.3h0M193.0 472.7h0M188.9 473.9h0M217.3 469.5h0M219.6 467.0h0M205.0 475.8h0M206.2 471.2h0M213.9 464.6h0M178.7 471.5h0M174.0 458.4h0M186.3 452.5h0M228.8 466.5h0M198.5 471.9h0M149.5 462.4h0M173.5 457.0h0M180.2 452.8h0M168.2 454.6h0M217.4 459.9h0M176.6 452.1h0M178.0 461.9h0M174.2 461.6h0M230.3 467.5h0M214.6 462.7h0M173.4 460.6h0M216.5 465.1h0"/>
<path stroke="#ff9e00" stroke-width="2.0" stroke-linecap="round" d="M216.9 470.2h0M225.3 469.6h0M207.9 464.0h0M192.6 454.7h0M181.7 459.0h0M221.0 472.8h0M224.6 476.8h0M217.6 463.3h0M178.1 469.8h0M216.5 462.6h0M194.9 465.7h0M212.4 467.8h0M221.4 465.2h0M223.8 466.3h0M205.7 469.8h0M205.0 475.7h0M194.5 465.7h0M180.7 451.8h0M192.5 473.5h0M194.2 468.4h0M203.7 463.2h0M201.6 472.7h0M194.1 461.9h0M208.3 473.5h0M201.6 454.5h0"/>
<path stroke="#e5ff19" stroke-width="2.0" stroke-linecap="round" d="M196.7 463.1h0M216.3 465.5h0M184.1 465.8h0M193.6 468.7h0M207.6 475.2h0M177.2 453.3h0M179.9 463.6h0M197.5 471.2h0M186.0 458.3h0M229.6 469.3h0M191.3 466.4h0M181.7 470.2h0M226.9 470.6h0M221.6 475.8h0M218.7 464.4h0M226.6 470.5h0M203.8 457.2h0M178.3 469.9h0M204.5 467.5h0M206.6 472.0h0M213.1 464.7h0M194.4 453.8h0M219.4 471.7h0M210.2 456.4h0M218.9 468.3h0M181.0 464.6h0M186.2 458.8h0M178.0 460.6h0M209.0 468.3h0M177.3 469.4h0M194.8 465.8h0M211.4 472.8h0M213.3 469.2h0M178.3 459.2h0M195.8 460.7h0M185.9 466.2h0M186.9 461.4h0M205.5 467.9h0M178.2 459.2h0M183.9 455.0h0M180.7 464.0h0M205.9 463.2h0M200.9 474.3h0M224.3 461.7h0"/>
<path stroke="#ffe500" stroke-width="2.0" stroke-linecap="round" d="M173.6 463.1h0M161.2 459.6h0M169.2 465.2h0M186.2 454.4h0M179.2 463.4h0M174.8 460.1h0M166.3 462.5h0M159.2 459.8h0M215.2 474.5h0M180.1 464.9h0M201.2 461.6h0M192.7 460.1h0M207.7 471.7h0M195.5 468.0h0M191.4 458.0h0M157.4 462.7h0M193.4 457.1h0M171.9 464.6h0M210.8 461.7h0M212.0 460.2h0M194.5 473.4h0M168.2 455.8h0M212.7 473.2h0M171.3 459.9h0M217.9 464.4h0M180.0 461.5h0M212.5 466.9h0M223.3 467.2h0M186.0 462.5h0M199.6 471.5h0M173.9 454.3h0M200.4 469.7h0M176.7 456.3h0M201.9 463.2h0M169.7 464.4h0M185.6 465.6h0M197.0 457.4h0M181.7 458.9h0M180.4 472.2h0"/>
<path stroke="#007fff" stroke-width="2.0" stroke-linecap="round" d="M198.3 454.4h0M205.4 472.5h0M203.9 473.8h0M173.8 471.5h0M195.3 458.6h0M150.6 456.9h0M213.9 460.4h0M208.3 471.5h0M205.8 455.8h0M149.9 460.3h0M147.8 462.8h0M174.6 459.5h0M193.7 465.9h0M227.5 465.2h0M192.6 455.2h0M205.9 458.8h0M215.4 471.7h0M158.6 457.6h0M206.8 473.5h0M216.2 464.9h0M175.2 452.6h0M200.8 474.7h0M180.9 463.2h0M208.4 460.5h0M157.2 457.0h0M218.1 460.0h0M162.9 457.8h0M182.8 466.8h0M205.4 463.2h0M212.6 458.4h0M230.8 466.7h0M173.8 456.1h0M188.6 454.6h0M212.1 469.7h0M210.0 469.3h0M205.4 458.0h0M218.5 461.5h0M196.9 458.4h0M223.0 463.5h0M169.0 453.0h0"/>
<path stroke="#ff7f00" stroke-width="2.0" stroke-linecap="round" d="M219.2 463.4h0M177.8 453.8h0M206.0 461.3h0M230.4 470.2h0M224.4 476.4h0M197.3 473.4h0M229.4 466.7h0M204.7 456.6h0M211.0 460.6h0M192.9 472.7h0M188.1 456.6h0M227.1 469.0h0M209.8 471.0h0M193.7 454.6h0M193.3 465.9h0M222.5 471.0h0M181.9 456.6h0M176.2 455.7h0M200.1 459.0h0M178.9 463.8h0M197.8 474.9h0M231.4 466.0h0M187.6 463.4h0M229.9 469.8h0M222.4 475.3h0M179.8 463.7h0M224.8 463.3h0M212.2 460.0h0M203.4 465.2h0M201.7 460.9h0M202.3 469.1h0"/>
<path stroke="#004cff" stroke-width="1.5" stroke-linecap="round" d="M160.1 459.6h0M207.9 463.8h0M212.9 472.7h0M219.6 471.0h0M177.9 470.9h0M211.9 457.2h0M169.4 460.5h0M151.8 456.2h0M196.1 457.8h0M213.5 468.7h0M199.3 470.4h0M217.3 469.5h0M189.7 467.0h0M175.4 454.5h0M182.3 459.8h0M173.3 465.7h0M207.2 461.2h0M181.6 455.5h0M179.5 471.9h0M168.2 456.6h0M208.6 473.0h0M152.0 459.1h0M209.5 467.6h0M194.1 466.4h0M175.3 453.6h0M225.6 475.3h0M200.8 453.9h0M174.3 456.6h0M156.5 452.9h0M198.7 471.1h0M216.9 473.3h0M157.8 458.3h0M179.0 470.9h0M217.7 470.5h0M182.5 457.0h0M225.2 475.6h0M170.1 457.1h0M162.6 464.2h0"/>
<path stroke="#4cffb2" stroke-width="2.0" stroke-linecap="round" d="M163.8 460.3h0M222.9 468.8h0M176.1 460.8h0M169.5 456.7h0M168.6 459.5h0M199.4 474.7h0M203.3 459.3h0M224.1 467.2h0M180.7 464.6h0M155.4 458.6h0M211.1 463.6h0M220.2 466.2h0M226.4 466.2h0M191.5 473.8h0M193.8 461.0h0M164.6 457.4h0M177.5 464.9h0M147.6 456.2h0M192.8 455.9h0M187.5 455.3h0M227.4 463.2h0M230.6 466.5h0M173.0 461.0h0M182.9 472.6h0M152.6 459.1h0M172.4 466.9h0M208.4 472.0h0M164.5 452.5h0M184.8 472.1h0M190.3 460.9h0M152.6 457.8h0M208.6 471.8h0M203.4 475.0h0M228.5 466.1h0M160.1 459.5h0M197.3 465.3h0M205.9 465.9h0M186.8 458.1h0M196.6 474.6h0M172.7 456.0h0M171.5 459.5h0M211.8 462.0h0M228.2 471.0h0M178.7 469.1h0M173.9 457.5h0M192.9 459.0h0M170.2 462.5h0M207.6 468.8h0M205.5 457.0h0M189.4 473.7h0"/>
<path stroke="#ffe500" stroke-width="1.5" stroke-linecap="round" d="M177.1 452.8h0M193.9 461.1h0M199.6 465.9h0M168.7 455.4h0M156.5 452.3h0M202.3 467.5h0M206.7 471.3h0M165.9 461.4h0M159.6 463.0h0M212.2 467.4h0M222.5 471.0h0M171.8 470.4h0M194.2 458.5h0M211.6 470.2h0M165.2 456.5h0M175.5 461.8h0M161.0 462.7h0M218.3 469.4h0M180.9 470.3h0M164.6 462.8h0M212.8 462.1h0M195.9 470.8h0M191.9 463.6h0M184.8 469.6h0M176.9 470.3h0M206.8 463.9h0M201.1 470.1h0M196.5 469.0h0M186.3 460.8h0M219.8 463.4h0M221.9 469.6h0M172.1 460.6h0M154.0 453.6h0M173.5 467.9h0M194.0 467.8h0M199.7 475.0h0M188.7 472.3h0"/>
<path stroke="#e5ff19" stroke-width="1.5" stroke-linecap="round" d="M217.1 465.1h0M200.4 474.4h0M202.5 460.9h0M196.0 465.6h0M189.9 470.4h0M202.4 474.5h0M201.1 465.4h0M176.5 469.7h0M197.9 458.0h0M208.1 466.0h0M183.7 463.7h0M221.3 471.8h0M183.3 465.5h0M195.7 452.9h0M190.8 456.6h0M209.8 461.6h0M198.4 457.6h0M176.5 469.3h0M195.0 469.7h0M219.3 464.2h0M201.3 460.9h0M183.1 462.2h0M191.6 460.7h0M176.5 460.3h0M176.9 461.0h0M223.8 465.0h0M179.6 461.7h0M187.0 467.8h0M177.4 460.8h0M199.5 453.3h0M176.2 468.3h0M225.7 474.9h0M205.5 459.8h0M221.0 470.9h0M219.8 461.6h0M218.5 462.8h0M215.2 460.1h0M206.1 468.3h0M188.1 473.3h0M195.1 465.5h0M199.5 453.7h0M207.9 458.7h0M188.2 452.9h0M214.5 464.0h0M179.8 459.3h0M200.9 463.3h0M177.4 452.4h0M192.6 455.5h0M202.7 475.1h0M214.1 462.0h0"/>
<path stroke="#007fff" stroke-width="1.5" stroke-linecap="round" d="M212.7 458.5h0M159.5 462.2h0M230.0 467.1h0M191.6 468.0h0M207.5 464.5h0M185.8 461.6h0M188.0 464.3h0M185.5 458.8h0M185.2 466.3h0M165.6 458.0h0M199.2 467.9h0M150.5 454.6h0M190.4 472.3h0M203.5 464.6h0M198.2 458.3h0M191.0 467.6h0M169.0 461.2h0M158.0 457.5h0M232.4 468.0h0M197.4 459.0h0M228.3 469.2h0M224.2 467.9h0M180.9 460.6h0M177.3 459.3h0M165.3 452.9h0M203.1 475.6h0M175.0 468.7h0M204.3 455.8h0M176.4 467.1h0M224.2 473.0h0M163.0 458.7h0M218.4 475.0h0M160.0 463.1h0M178.6 456.4h0M179.3 453.5h0M207.6 476.4h0M188.9 453.6h0M186.0 468.8h0M221.7 464.1h0M197.7 454.6h0M201.4 472.1h0M174.1 459.7h0M186.9 463.4h0"/>
<path stroke="#00e5ff" stroke-width="1.5" stroke-linecap="round" d="M175.0 452.7h0M174.9 458.6h0M164.5 452.1h0M146.6 462.5h0M171.0 456.6h0M219.5 460.0h0M155.0 457.4h0M204.0 473.8h0M153.0 455.3h0M183.4 460.8h0M202.5 466.0h0M158.5 453.3h0M205.2 456.7h0M228.6 468.0h0M176.4 467.6h0M179.4 465.4h0M160.9 460.6h0M148.8 455.1h0M171.0 454.2h0M190.5 453.4h0M181.2 467.1h0M227.0 472.1h0M183.5 462.9h0M150.7 461.4h0M175.0 468.9h0M165.4 461.4h0M205.8 461.8h0M184.4 457.1h0M202.6 458.9h0M177.8 460.5h0M175.3 456.8h0M189.1 453.7h0M196.7 464.4h0M173.1 469.2h0M148.1 459.6h0M176.9 470.3h0M201.7 462.8h0M216.4 472.0h0M229.6 466.8h0M172.0 468.9h0M163.6 462.1h0M175.5 455.4h0M196.4 475.1h0M175.3 467.7h0M173.9 455.3h0M203.2 459.6h0M148.7 457.9h0M176.0 472.1h0M200.9 471.3h0"/>
<path stroke="#ffb200" stroke-width="2.0" stroke-linecap="round" d="M153.9 456.8h0M151.6 462.5h0M167.5 453.4h0M208.9 457.7h0M188.3 460.2h0M195.6 474.7h0M164.8 455.1h0M163.8 460.7h0M179.7 457.4h0M150.4 461.8h0M161.1 453.6h0M188.7 462.0h0M208.7 466.6h0M167.8 460.7h0M190.4 471.2h0M182.0 468.1h0M191.1 458.0h0M208.1 464.6h0M205.9 466.5h0M190.5 453.8h0M175.3 469.1h0M224.1 464.4h0M155.3 454.7h0M195.2 460.7h0M206.5 461.9h0M179.0 471.1h0M215.0 462.4h0M153.0 452.9h0M225.5 472.1h0M221.4 460.7h0M159.2 459.1h0M157.3 457.4h0M171.3 460.9h0M180.3 467.8h0M147.1 460.2h0M184.6 458.5h0M191.4 455.7h0M188.7 457.0h0M196.4 465.6h0M175.7 463.4h0M147.0 457.2h0"/>
<path stroke="#ff7f00" stroke-width="1.5" stroke-linecap="round" d="M198.3 470.3h0M180.3 454.1h0M191.6 463.7h0M194.4 454.6h0M186.7 471.3h0M185.7 470.4h0M188.3 468.3h0M228.5 465.0h0M196.1 469.8h0M196.0 467.3h0M205.3 472.1h0M220.7 466.7h0M185.7 457.2h0M199.6 461.2h0M181.9 461.2h0M221.4 469.5h0M180.0 460.0h0M208.1 457.1h0M205.1 465.7h0M205.8 467.3h0M178.7 464.9h0M224.9 471.4h0M185.9 459.7h0M205.0 461.1h0M184.3 452.3h0M185.6 456.9h0M193.6 464.4h0M198.3 466.1h0M197.6 458.8h0M192.1 469.3h0M213.5 470.4h0M226.8 472.8h0M195.4 472.8h0"/>
<path stroke="#ffb200" stroke-width="1.0" stroke-linecap="round" d="M169.0 453.8h0M146.4 461.0h0"/>
<path stroke="#b2ff4c" stroke-width="2.0" stroke-linecap="round" d="M198.9 460.8h0M165.4 459.9h0M220.8 474.9h0M192.5 473.8h0M162.2 462.7h0M150.0 455.6h0M167.5 452.3h0M166.6 459.7h0M176.8 463.5h0M169.2 460.5h0M153.4 453.3h0M209.6 462.8h0M169.3 456.5h0M169.5 460.2h0M210.8 474.6h0M186.1 454.8h0M168.5 464.8h0M193.4 463.0h0M193.8 459.6h0M147.1 456.9h0M170.9 455.9h0M156.3 462.3h0M210.0 463.0h0M167.2 459.5h0M211.0 464.8h0M204.0 457.9h0M152.2 462.6h0M198.0 469.5h0M224.9 463.6h0M192.5 464.5h0M172.3 465.4h0M207.3 462.5h0M206.4 456.6h0M197.1 468.4h0M210.0 464.0h0"/>
<path stroke="#05fff9" stroke-width="1.5" stroke-linecap="round" d="M200.4 468.9h0M183.9 472.3h0M198.5 469.7h0M190.8 458.9h0M202.4 461.5h0M210.5 467.8h0M223.7 466.5h0M223.0 472.2h0M190.7 468.8h0M211.4 465.9h0M179.6 457.9h0M191.0 457.5h0M194.7 469.7h0M211.5 459.0h0M188.1 472.2h0M204.1 463.0h0M217.0 468.9h0M194.7 463.5h0M209.3 475.2h0M183.0 465.1h0M189.5 453.7h0M193.4 465.1h0M217.4 466.8h0M195.5 470.3h0M191.8 468.4h0M192.4 472.0h0M191.0 454.1h0M221.7 466.7h0M217.6 465.5h0M196.2 462.3h0M180.2 455.4h0M221.6 470.3h0"/>
<path stroke="#7fff7f" stroke-width="2.0" stroke-linecap="round" d="M177.4 465.1h0M194.9 467.7h0M173.3 458.4h0M154.5 457.4h0M155.0 463.0h0M209.7 470.1h0M187.1 458.3h0M201.0 475.7h0M168.0 465.6h0M221.2 461.3h0M186.1 456.9h0M221.2 468.3h0M219.4 459.6h0M195.1 471.5h0M206.2 466.0h0M202.3 468.9h0M164.8 456.0h0M201.6 455.0h0M201.5 459.4h0M218.6 469.4h0M203.5 469.7h0M183.6 463.9h0M159.0 452.2h0M167.2 453.0h0M197.2 454.6h0M174.7 468.1h0M184.2 458.4h0M178.0 455.8h0M199.7 472.9h0M194.7 463.7h0M214.4 467.4h0M218.9 460.2h0M182.1 470.7h0M178.8 467.3h0M172.9 454.3h0M202.8 468.1h0M167.6 456.9h0M183.8 467.4h0M227.5 464.0h0M171.3 461.2h0M156.9 460.2h0"/>
<path stroke="#00b2ff" stroke-width="1.5" stroke-linecap="round" d="M156.9 460.1h0M175.3 460.1h0M191.6 468.3h0M163.1 463.4h0M166.4 464.5h0M177.0 464.0h0M169.4 465.2h0M161.6 464.7h0M164.2 454.7h0M163.2 458.2h0M209.3 462.4h0M196.7 463.7h0M173.8 467.4h0M180.6 457.5h0M186.0 472.8h0M170.3 463.0h0M175.3 456.6h0M188.2 464.0h0M220.1 463.9h0M189.2 473.2h0M170.2 456.2h0M225.4 474.3h0M160.3 461.4h0M195.6 456.4h0M206.3 474.5h0M215.7 470.3h0M197.5 458.1h0M182.4 466.1h0M189.2 458.3h0M170.8 461.2h0M221.2 469.4h0M148.4 462.8h0M178.4 470.6h0M192.7 456.7h0M227.6 466.6h0M228.9 464.1h0M177.9 464.2h0M189.0 467.3h0M150.4 458.1h0M171.2 461.3h0M206.8 457.3h0M162.2 461.6h0M216.3 472.5h0M165.4 453.1h0M198.8 466.5h0M170.7 453.8h0"/>
<path stroke="#004cff" stroke-width="2.0" stroke-linecap="round" d="M212.3 465.7h0M179.3 470.8h0M195.8 468.4h0M202.9 456.7h0M204.3 456.3h0M193.5 461.7h0M197.9 473.8h0M173.7 456.7h0M175.9 463.0h0M178.5 467.3h0M199.9 462.4h0M184.4 452.9h0M160.4 460.7h0M182.5 462.7h0M172.2 458.2h0M196.1 462.6h0M182.0 455.0h0M168.8 461.3h0M148.6 462.5h0M168.2 452.3h0M159.4 462.8h0M185.8 467.1h0M157.2 459.3h0M172.9 470.2h0M156.1 455.8h0M225.0 466.8h0M203.6 472.1h0M218.3 472.3h0M211.2 469.5h0M207.3 466.2h0M196.9 470.2h0M197.6 454.0h0M206.2 456.2h0M213.9 462.9h0M171.5 457.2h0M171.9 455.1h0M172.6 460.0h0M171.6 454.9h0M163.4 463.3h0"/>
<path stroke="#19ffe5" stroke-width="2.0" stroke-linecap="round" d="M167.9 453.0h0M158.1 460.4h0M165.8 456.2h0M195.5 473.2h0M159.7 459.8h0M181.1 461.1h0M205.9 476.1h0M176.1 454.1h0M168.2 453.5h0M208.8 462.5h0M158.6 454.8h0M161.0 461.6h0M196.4 465.5h0M206.4 471.7h0M189.5 454.6h0M162.1 460.0h0M215.8 459.9h0M159.1 460.6h0M150.9 461.5h0M173.4 469.8h0M169.8 459.4h0M150.8 454.3h0M203.4 460.8h0M159.4 458.2h0M173.9 452.8h0M157.0 456.3h0M211.8 461.8h0M161.7 461.7h0M165.2 460.6h0M216.4 462.7h0M174.6 465.7h0M177.2 471.9h0M171.8 453.4h0M162.4 455.9h0M165.5 457.4h0M222.5 470.0h0M203.6 457.5h0M171.1 462.2h0M179.6 454.6h0M178.0 465.9h0M178.4 468.2h0"/>
<path stroke="#0019ff" stroke-width="1.5" stroke-linecap="round" d="M226.3 463.6h0M226.0 465.6h0M171.3 464.5h0M228.9 467.3h0M229.3 464.5h0M171.8 462.1h0M167.1 452.5h0M174.8 460.3h0M229.0 468.5h0M155.4 455.0h0M169.8 464.7h0M170.8 467.4h0M169.7 455.7h0"/>
<path stroke="#ff4c00" stroke-width="2.0" stroke-linecap="round" d="M191.7 469.6h0M199.0 460.1h0M177.5 470.7h0M180.2 462.7h0M223.4 466.7h0M198.4 463.8h0M189.4 453.0h0M186.1 461.2h0M177.4 457.0h0M212.1 470.8h0M208.7 475.8h0M206.7 469.9h0M215.9 466.5h0M185.4 468.2h0M188.7 466.9h0M197.7 458.0h0M185.2 466.6h0M191.2 462.1h0M218.2 471.5h0M197.6 465.1h0M206.4 456.4h0M193.5 470.4h0"/>
<path stroke="#007fff" stroke-width="1.0" stroke-linecap="round" d="M200.3 469.9h0M181.5 471.9h0M165.8 462.3h0M173.2 456.3h0"/>
<path stroke="#f9ff05" stroke-width="1.5" stroke-linecap="round" d="M192.4 455.0h0M191.8 468.2h0M177.5 458.8h0M216.5 473.6h0M210.6 467.3h0M187.6 455.3h0M216.2 461.9h0M179.3 463.3h0M201.6 457.8h0M176.8 470.5h0M208.3 463.9h0M215.5 466.9h0M182.6 468.0h0M179.8 461.1h0M181.3 460.5h0M209.3 465.9h0M203.0 465.7h0M192.5 458.7h0M185.5 466.6h0M211.1 459.1h0M209.0 459.7h0M181.0 451.7h0"/>
<path stroke="#00b2ff" stroke-width="2.0" stroke-linecap="round" d="M201.4 472.9h0M203.2 460.3h0M180.0 466.5h0M210.7 460.9h0M156.1 454.5h0M178.6 456.9h0M176.7 460.1h0M184.3 461.0h0M178.7 465.3h0M228.8 464.6h0M199.4 456.2h0M185.1 463.8h0M167.5 452.3h0M221.4 464.0h0M183.6 463.2h0M206.3 461.7h0M210.5 473.1h0M166.2 463.2h0M191.6 471.6h0M161.2 462.8h0M183.9 459.1h0M181.8 468.6h0M220.2 465.9h0M212.8 465.5h0M207.1 476.1h0M194.9 465.1h0M148.7 459.5h0M184.1 469.9h0M197.5 468.4h0M156.5 456.2h0M152.8 462.1h0M178.5 463.4h0M150.6 460.4h0M173.1 464.2h0M204.4 465.2h0M169.9 463.7h0M204.8 458.4h0M171.3 465.5h0M176.6 454.4h0M183.8 463.0h0M209.0 473.3h0M207.7 467.2h0M154.7 460.5h0M201.8 468.1h0M191.4 470.8h0M208.4 470.6h0M145.7 461.2h0M165.5 461.8h0M189.8 474.0h0M147.7 462.1h0M195.4 462.4h0M226.8 474.2h0M177.8 452.7h0M180.6 460.5h0M230.0 469.3h0"/>
<path stroke="#ff6000" stroke-width="2.0" stroke-linecap="round" d="M210.8 462.0h0M220.7 474.8h0M185.2 456.9h0M206.4 456.8h0M183.3 464.0h0M199.8 453.4h0M225.7 470.2h0M215.8 462.9h0M219.4 459.5h0M192.0 460.8h0M193.6 453.4h0M183.3 471.9h0M183.7 456.4h0M180.1 468.3h0M184.5 468.2h0M222.5 471.7h0M186.5 457.3h0M193.1 457.1h0M225.6 474.0h0M207.5 461.2h0M220.7 467.4h0M176.8 455.5h0M205.0 467.8h0M181.9 472.6h0M199.6 462.8h0M176.2 466.7h0"/>
<path stroke="#ff4c00" stroke-width="1.5" stroke-linecap="round" d="M187.8 472.7h0M212.3 464.7h0M221.5 465.9h0M190.3 454.3h0M197.8 463.1h0M207.9 474.1h0M182.1 451.8h0M184.7 463.0h0M205.0 475.4h0M194.6 465.7h0M212.0 471.0h0M177.8 470.2h0M209.8 468.5h0M207.4 459.1h0M210.3 475.4h0M187.2 453.3h0M181.2 456.2h0M181.9 467.0h0M201.8 467.1h0M208.5 475.7h0M178.9 470.5h0M203.1 468.8h0M190.1 461.1h0M178.1 458.7h0M208.4 462.9h0M209.8 468.6h0M182.9 457.3h0M197.1 465.4h0M214.8 461.7h0M192.6 453.9h0M193.5 470.4h0M193.8 459.2h0M202.0 467.8h0M193.3 470.3h0M200.8 458.2h0M196.9 463.4h0M217.9 461.4h0"/>
<path stroke="#004cff" stroke-width="2.5" stroke-linecap="round" d="M165.3 461.3h0M170.3 454.0h0M153.8 460.8h0M152.0 462.2h0"/>
<path stroke="#ff1900" stroke-width="2.0" stroke-linecap="round" d="M193.9 470.3h0M192.6 456.5h0M181.7 464.5h0M210.2 459.2h0M213.0 468.9h0M197.2 462.3h0M188.4 464.5h0M196.0 467.5h0M221.1 460.3h0M218.8 460.2h0M185.6 467.7h0M186.2 456.3h0M183.4 472.5h0M199.1 459.6h0M209.2 469.5h0M188.0 466.6h0M201.1 459.5h0M222.4 473.2h0M213.6 457.8h0M182.5 454.3h0M205.4 459.8h0M184.6 472.1h0M191.0 462.2h0M206.3 455.2h0M195.1 463.1h0M192.4 455.1h0M190.7 465.5h0"/>
<path stroke="#7fff7f" stroke-width="2.5" stroke-linecap="round" d="M206.3 460.7h0M211.4 464.0h0M169.1 462.3h0M175.3 454.6h0M230.5 465.9h0M193.3 465.6h0M150.9 454.9h0M187.7 453.8h0"/>
<path stroke="#ff6000" stroke-width="1.5" stroke-linecap="round" d="M204.5 462.4h0M220.5 464.8h0M224.9 462.9h0M190.0 470.3h0M196.1 469.2h0M188.7 454.5h0M176.5 453.7h0M194.8 459.2h0M179.7 467.9h0M208.0 467.2h0M225.6 470.7h0M199.2 456.4h0M212.7 465.4h0M206.2 458.1h0M178.3 469.8h0M221.4 466.3h0M181.1 460.8h0M193.5 455.4h0M182.5 457.5h0M188.0 452.9h0M188.1 470.4h0M211.2 469.7h0M199.9 474.4h0M221.5 465.9h0"/>
<path stroke="#ff9e00" stroke-width="1.0" stroke-linecap="round" d="M186.9 471.2h0M193.8 456.5h0M208.2 460.5h0M176.9 457.3h0M225.2 467.4h0"/>
<path stroke="#05fff9" stroke-width="2.0" stroke-linecap="round" d="M183.0 452.2h0M182.4 467.6h0M205.1 462.0h0M184.0 454.5h0M186.4 471.7h0M180.2 464.7h0M206.4 469.7h0M209.1 475.2h0M184.9 459.9h0M201.6 456.8h0M220.8 467.1h0M194.8 455.1h0M202.1 459.3h0M204.7 455.6h0M221.8 475.6h0M212.0 464.3h0M176.9 457.7h0M209.2 473.8h0M182.6 454.7h0M180.3 462.5h0M211.2 460.7h0M190.1 456.4h0M199.1 474.9h0M220.4 468.7h0M191.2 454.0h0M197.7 471.5h0"/>
<path stroke="#ff7f00" stroke-width="2.5" stroke-linecap="round" d="M211.1 457.5h0M214.2 466.2h0M197.8 473.3h0"/>
<path stroke="#b2ff4c" stroke-width="2.5" stroke-linecap="round" d="M175.4 469.1h0M192.5 455.1h0M161.4 460.4h0M150.9 458.1h0M189.1 470.9h0M170.5 468.2h0M181.3 460.7h0"/>
<path stroke="#05fff9" stroke-width="1.0" stroke-linecap="round" d="M188.7 470.1h0M206.7 467.3h0"/>
<path stroke="#e5ff19" stroke-width="1.0" stroke-linecap="round" d="M209.4 467.8h0M177.1 465.9h0M202.6 465.8h0M200.8 475.7h0M216.0 465.6h0M216.2 461.7h0"/>
<path stroke="#00e5ff" stroke-width="1.0" stroke-linecap="round" d="M172.2 467.3h0M211.5 461.2h0M180.3 465.6h0M168.9 457.7h0M163.0 464.9h0M174.0 458.2h0M168.5 463.5h0"/>
<path stroke="#ffe500" stroke-width="2.5" stroke-linecap="round" d="M175.5 456.8h0M171.3 464.0h0M193.3 457.6h0M174.9 456.7h0M155.2 458.1h0M148.9 455.4h0"/>
<path stroke="#ff1900" stroke-width="1.5" stroke-linecap="round" d="M204.3 457.7h0M191.6 453.8h0M210.5 472.2h0M193.6 453.0h0M196.9 455.7h0M191.2 468.6h0M197.7 471.5h0M199.3 459.4h0M210.1 466.8h0M179.0 463.5h0M208.5 463.7h0M214.1 464.5h0M223.6 464.2h0M205.8 461.8h0M203.8 469.4h0M181.8 462.9h0M186.0 472.2h0M212.3 471.8h0M212.7 476.5h0M178.8 465.3h0"/>
<path stroke="#19ffe5" stroke-width="2.5" stroke-linecap="round" d="M223.0 468.9h0M187.0 464.1h0M178.2 469.3h0M189.0 463.2h0M224.0 469.8h0M207.1 458.4h0"/>
<path stroke="#00e5ff" stroke-width="2.5" stroke-linecap="round" d="M192.4 470.5h0M188.7 459.0h0M169.3 462.1h0M179.0 471.0h0M147.2 458.8h0M158.6 452.2h0"/>
<path stroke="#0019ff" stroke-width="2.0" stroke-linecap="round" d="M165.0 452.8h0M167.6 465.0h0M150.4 460.2h0M151.5 462.1h0M226.5 472.4h0M164.8 465.1h0M149.2 456.3h0M173.3 459.0h0M175.7 469.3h0M156.5 459.0h0M160.5 452.5h0M150.2 456.1h0M158.7 453.7h0M167.1 459.7h0"/>
<path stroke="#ff6000" stroke-width="2.5" stroke-linecap="round" d="M214.7 471.7h0M204.2 457.6h0M212.8 467.4h0"/>
<path stroke="#00b2ff" stroke-width="2.5" stroke-linecap="round" d="M199.9 474.2h0M172.7 461.6h0M220.7 464.6h0"/>
<path stroke="#e5ff19" stroke-width="2.5" stroke-linecap="round" d="M214.8 475.3h0M207.0 473.4h0M179.5 455.6h0M219.5 461.7h0M225.4 477.3h0M193.8 458.1h0M194.6 470.3h0"/>
<path stroke="#ff6000" stroke-width="1.0" stroke-linecap="round" d="M196.2 460.0h0"/>
<path stroke="#ffb200" stroke-width="1.5" stroke-linecap="round" d="M186.1 468.2h0M159.1 461.2h0M192.4 455.7h0M190.0 456.1h0M205.2 463.3h0M192.1 460.0h0M188.3 457.8h0M201.3 468.7h0M215.7 466.6h0M223.6 465.6h0M195.2 472.5h0M194.7 471.6h0M192.8 457.2h0M163.6 455.8h0M184.1 455.8h0M215.5 471.0h0M225.7 463.5h0M212.6 467.2h0M169.0 461.4h0M220.4 466.3h0M180.8 452.0h0M209.5 460.3h0M162.6 459.0h0M181.9 456.8h0M153.0 462.1h0M208.4 464.8h0"/>
<path stroke="#05fff9" stroke-width="2.5" stroke-linecap="round" d="M177.8 461.4h0M209.3 473.7h0M191.4 462.6h0M182.5 456.0h0M192.1 467.3h0M215.3 467.1h0"/>
<path stroke="#b2ff4c" stroke-width="1.0" stroke-linecap="round" d="M194.3 463.1h0M208.7 457.1h0M167.2 455.9h0"/>
<path stroke="#ffe500" stroke-width="1.0" stroke-linecap="round" d="M161.2 454.5h0M175.9 454.6h0M187.9 473.3h0"/>
<path stroke="#4cffb2" stroke-width="2.5" stroke-linecap="round" d="M180.3 464.0h0M168.8 465.0h0M197.3 468.0h0"/>
<path stroke="#ffb200" stroke-width="2.5" stroke-linecap="round" d="M201.0 473.2h0M170.0 464.0h0M190.8 473.3h0M156.8 453.8h0"/>
<path stroke="#004cff" stroke-width="1.0" stroke-linecap="round" d="M169.9 459.3h0M200.8 458.9h0M172.5 465.5h0"/>
<path stroke="#0000e5" stroke-width="2.0" stroke-linecap="round" d="M160.0 459.2h0M173.2 463.6h0M152.4 457.2h0M150.0 456.0h0M171.0 468.3h0M172.3 463.4h0M159.9 454.0h0M173.2 468.8h0M164.2 463.8h0M157.3 455.5h0M173.0 468.8h0"/>
<path stroke="#19ffe5" stroke-width="1.0" stroke-linecap="round" d="M203.7 468.1h0M172.8 463.3h0"/>
<path stroke="#f9ff05" stroke-width="2.5" stroke-linecap="round" d="M225.0 463.0h0M187.5 464.5h0"/>
<path stroke="#ff9e00" stroke-width="2.5" stroke-linecap="round" d="M192.4 467.4h0M192.5 457.2h0"/>
<path stroke="#ff4c00" stroke-width="2.5" stroke-linecap="round" d="M204.2 460.2h0M179.0 469.3h0"/>
<path stroke="#0019ff" stroke-width="2.5" stroke-linecap="round" d="M174.0 455.5h0"/>
<path stroke="#ff1900" stroke-width="2.5" stroke-linecap="round" d="M199.8 470.3h0M222.9 462.7h0"/>
<path stroke="#0019ff" stroke-width="1.0" stroke-linecap="round" d="M230.5 469.8h0"/>
<path stroke="#ff1900" stroke-width="1.0" stroke-linecap="round" d="M183.9 462.4h0M216.4 470.8h0"/>
<path stroke="#ffffff" stroke-width="1.5" stroke-linecap="round" d="M154.7 458.4h0M197.0 456.3h0M166.7 459.3h0M195.3 459.8h0M228.3 471.3h0M220.0 465.3h0M200.3 462.4h0M209.9 467.1h0M160.6 459.6h0M209.4 476.3h0M161.3 457.4h0M155.3 457.7h0M202.1 457.6h0M179.4 453.0h0M149.7 455.5h0M214.6 467.0h0M189.0 466.6h0M213.4 464.7h0M161.2 464.4h0M156.3 456.8h0M190.2 461.6h0M153.9 461.5h0M221.9 474.0h0M161.1 453.7h0M215.2 471.6h0M199.8 462.0h0M207.0 456.5h0M177.7 465.0h0M174.0 457.9h0M225.9 474.8h0M174.1 453.3h0M169.9 456.8h0M187.9 470.5h0M207.4 475.9h0M187.0 460.5h0M174.5 466.8h0M173.6 452.8h0M229.1 466.3h0M176.2 467.6h0M175.7 457.2h0"/>
<path stroke="#ffffff" stroke-width="1.0" stroke-linecap="round" d="M192.0 455.2h0M155.4 462.8h0M212.2 473.3h0M210.7 460.6h0M227.5 463.6h0M151.5 459.4h0M197.9 454.5h0M192.6 458.6h0M214.4 476.2h0M160.6 461.3h0M220.0 468.1h0M211.1 463.0h0M171.1 466.4h0M222.3 466.4h0M206.0 473.6h0M186.7 458.9h0M148.8 462.8h0M215.8 463.5h0M167.0 457.0h0M194.1 465.6h0"/>
<path stroke="#ffffff" stroke-width="2.0" stroke-linecap="round" d="M158.6 457.2h0M197.8 458.0h0M173.5 469.0h0M184.7 463.7h0M187.2 460.7h0"/>
<path stroke="#0060ff" stroke-width="2.5" stroke-linecap="round" d="M172.0 456.5h0M170.6 451.7h0M162.9 454.7h0"/>
<path stroke="#00a0ff" stroke-width="2.0" stroke-linecap="round" d="M165.7 456.7h0M166.2 452.9h0M158.1 455.0h0M158.2 456.1h0M155.8 455.3h0M159.7 454.0h0M157.9 451.2h0"/>
<path stroke="#00c0ff" stroke-width="2.5" stroke-linecap="round" d="M161.7 452.4h0M163.2 454.7h0M165.1 453.3h0M162.2 456.2h0M164.4 456.0h0M157.0 455.0h0"/>
<path stroke="#0040ff" stroke-width="2.0" stroke-linecap="round" d="M164.7 454.3h0M171.5 457.2h0M160.5 455.7h0"/>
<path stroke="#0020e0" stroke-width="2.0" stroke-linecap="round" d="M163.2 452.4h0M162.2 455.7h0M158.4 451.2h0M162.8 452.5h0M159.6 455.7h0M158.0 455.3h0M161.6 457.2h0"/>
<path stroke="#0050ff" stroke-width="2.5" stroke-linecap="round" d="M159.2 453.6h0M168.8 455.6h0M169.6 454.3h0"/>
<path stroke="#0070ff" stroke-width="1.5" stroke-linecap="round" d="M159.8 451.0h0M171.6 453.5h0"/>
<path stroke="#0040ff" stroke-width="2.5" stroke-linecap="round" d="M157.3 452.4h0M170.1 455.4h0M167.0 454.1h0M163.3 455.2h0M162.5 450.8h0M160.2 451.7h0"/>
<path stroke="#00a0ff" stroke-width="2.5" stroke-linecap="round" d="M159.3 452.8h0M154.9 454.0h0M168.0 454.0h0M166.7 454.5h0M169.5 457.2h0M160.8 456.6h0"/>
<path stroke="#0060ff" stroke-width="2.0" stroke-linecap="round" d="M173.8 453.1h0M162.2 454.9h0M163.6 452.7h0M165.5 454.5h0M173.3 456.4h0"/>
<path stroke="#0030ff" stroke-width="2.0" stroke-linecap="round" d="M155.1 454.9h0M161.2 451.7h0M161.0 453.0h0M168.1 452.8h0M159.8 453.4h0"/>
<path stroke="#0020e0" stroke-width="3.0" stroke-linecap="round" d="M170.4 456.1h0"/>
<path stroke="#00c0ff" stroke-width="2.0" stroke-linecap="round" d="M165.6 455.8h0M170.7 456.1h0M155.0 455.3h0M166.3 457.2h0"/>
<path stroke="#0050ff" stroke-width="3.0" stroke-linecap="round" d="M173.3 453.2h0"/>
<path stroke="#0050ff" stroke-width="2.0" stroke-linecap="round" d="M170.5 454.0h0M155.9 452.3h0"/>
<path stroke="#0030ff" stroke-width="1.5" stroke-linecap="round" d="M173.0 452.0h0M163.1 454.2h0M156.8 454.3h0"/>
<path stroke="#0030ff" stroke-width="2.5" stroke-linecap="round" d="M171.4 457.1h0M159.3 450.9h0"/>
<path stroke="#0060ff" stroke-width="1.5" stroke-linecap="round" d="M158.7 452.8h0M166.2 451.4h0M166.1 453.5h0"/>
<path stroke="#0040ff" stroke-width="1.5" stroke-linecap="round" d="M154.2 453.9h0M171.6 453.5h0"/>
<path stroke="#0070ff" stroke-width="2.0" stroke-linecap="round" d="M170.8 456.4h0M157.5 453.2h0M155.4 455.5h0M159.7 450.1h0"/>
<path stroke="#0040ff" stroke-width="3.0" stroke-linecap="round" d="M155.3 455.0h0"/>
<path stroke="#0070ff" stroke-width="2.5" stroke-linecap="round" d="M173.5 454.1h0M157.7 453.4h0M174.1 455.7h0M164.8 454.2h0M172.9 457.1h0"/>
<path stroke="#0020e0" stroke-width="1.5" stroke-linecap="round" d="M174.6 455.6h0M160.5 452.1h0"/>
<path stroke="#0020e0" stroke-width="2.5" stroke-linecap="round" d="M170.3 454.6h0M161.9 457.0h0M165.8 453.8h0M167.7 453.5h0M162.5 457.6h0M163.1 452.5h0"/>
<path stroke="#00c0ff" stroke-width="1.5" stroke-linecap="round" d="M162.2 454.0h0"/>
<circle cx="145.5" cy="463.5" r="0.9" fill="#ff4000"/>
<circle cx="143" cy="464.5" r="0.9" fill="#ff8000"/>
<circle cx="222.5" cy="479" r="0.9" fill="#ff8000"/>
<circle cx="225" cy="481" r="0.9" fill="#ff2000"/>
<circle cx="226.5" cy="484" r="0.9" fill="#ff2000"/>
<circle cx="224" cy="478.5" r="0.9" fill="#ff2000"/>
<circle cx="228" cy="480" r="0.9" fill="#ff8000"/>
<circle cx="211" cy="451" r="0.9" fill="#ff8000"/>
<circle cx="216.5" cy="450" r="0.9" fill="#ff2000"/>
<circle cx="196" cy="451.5" r="0.9" fill="#ff2000"/>
<line x1="155.9" y1="353.0" x2="155.9" y2="360.0" stroke="#05fff9" stroke-width="2.4" stroke-linecap="round"/>
<line x1="155.9" y1="360.0" x2="155.9" y2="366.0" stroke="#05fff9" stroke-width="2.4" stroke-linecap="round"/>
<line x1="155.9" y1="366.0" x2="155.5" y2="370.0" stroke="#05fff9" stroke-width="2.4" stroke-linecap="round"/>
<line x1="155.5" y1="370.0" x2="154.6" y2="378.0" stroke="#05fff9" stroke-width="2.4" stroke-linecap="round"/>
<line x1="154.6" y1="378.0" x2="153.6" y2="387.0" stroke="#05fff9" stroke-width="2.5" stroke-linecap="round"/>
<line x1="153.6" y1="387.0" x2="152.7" y2="395.0" stroke="#05fff9" stroke-width="2.7" stroke-linecap="round"/>
<line x1="152.7" y1="395.0" x2="152.3" y2="403.0" stroke="#05fff9" stroke-width="2.9" stroke-linecap="round"/>
<line x1="152.3" y1="403.0" x2="151.3" y2="412.0" stroke="#05fff9" stroke-width="3.0" stroke-linecap="round"/>
<line x1="151.3" y1="412.0" x2="150.4" y2="421.0" stroke="#05fff9" stroke-width="3.0" stroke-linecap="round"/>
<line x1="150.4" y1="421.0" x2="148.7" y2="428.0" stroke="#05fff9" stroke-width="3.0" stroke-linecap="round"/>
<line x1="148.7" y1="428.0" x2="148.0" y2="433.0" stroke="#05fff9" stroke-width="2.9" stroke-linecap="round"/>
<line x1="148.0" y1="433.0" x2="149.5" y2="438.0" stroke="#05fff9" stroke-width="2.8" stroke-linecap="round"/>
<line x1="149.5" y1="438.0" x2="152.0" y2="442.0" stroke="#05fff9" stroke-width="2.9" stroke-linecap="round"/>
<path stroke="#ffff00" stroke-width="1.5" stroke-linecap="round" d="M152.0 405.6h0M155.9 351.8h0M150.6 421.8h0M149.9 426.3h0M150.5 420.5h0M148.3 433.5h0M150.5 420.5h0M154.0 380.8h0M149.0 426.7h0"/>
<path stroke="#c0ff40" stroke-width="1.0" stroke-linecap="round" d="M148.5 427.6h0M155.5 369.5h0M153.8 393.2h0M152.1 442.5h0M154.7 373.4h0M148.0 433.2h0M149.5 437.9h0M150.8 422.5h0M150.7 414.1h0"/>
<path stroke="#80ff80" stroke-width="1.0" stroke-linecap="round" d="M154.4 370.3h0M155.2 372.3h0M150.5 415.6h0M151.7 403.5h0M151.6 409.8h0M147.8 430.2h0M149.3 428.5h0M152.4 390.1h0M152.7 398.2h0M155.7 355.1h0M155.2 362.5h0M152.8 395.0h0M154.2 380.6h0"/>
<path stroke="#40ffc0" stroke-width="1.5" stroke-linecap="round" d="M148.3 432.8h0M148.1 426.9h0M152.4 402.1h0M150.2 417.7h0M149.1 422.3h0M151.3 410.6h0M153.7 385.6h0M151.9 396.0h0M156.0 362.2h0M154.6 381.1h0M155.6 363.7h0"/>
<path stroke="#ffff00" stroke-width="1.0" stroke-linecap="round" d="M151.6 438.9h0M153.0 402.2h0M151.3 415.0h0M148.7 422.8h0M154.7 381.7h0M151.0 424.2h0M153.7 391.4h0"/>
<path stroke="#00e0ff" stroke-width="1.5" stroke-linecap="round" d="M154.3 384.1h0M156.2 355.9h0M156.0 363.0h0M156.0 356.3h0M152.0 441.6h0M152.6 400.5h0M155.5 360.2h0M148.3 435.4h0M152.7 400.0h0M152.4 405.0h0M153.4 384.8h0M150.5 425.4h0M151.1 439.6h0M153.7 396.5h0M149.7 437.6h0"/>
<path stroke="#0060ff" stroke-width="1.5" stroke-linecap="round" d="M153.1 400.2h0M151.3 417.0h0M155.8 372.4h0M155.3 366.5h0M153.2 402.7h0M155.6 358.4h0M152.6 398.2h0M149.6 429.1h0M152.8 398.6h0M148.8 429.0h0M149.1 427.4h0M154.7 378.2h0M155.7 354.8h0"/>
<path stroke="#40ffc0" stroke-width="1.0" stroke-linecap="round" d="M155.0 376.0h0M151.2 413.4h0M151.3 407.7h0M148.6 430.0h0M153.9 385.4h0M149.3 437.2h0M155.0 366.8h0M155.6 379.2h0M156.9 359.0h0M152.4 441.4h0M150.8 409.0h0"/>
<path stroke="#c0ff40" stroke-width="1.5" stroke-linecap="round" d="M148.2 434.0h0M154.9 379.7h0M151.6 410.1h0M152.1 413.0h0M151.5 408.7h0M151.5 422.4h0M151.8 402.9h0M148.8 436.8h0M154.1 381.5h0"/>
<path stroke="#ffff00" stroke-width="2.0" stroke-linecap="round" d="M154.2 382.0h0M154.3 388.3h0"/>
<path stroke="#80ff80" stroke-width="1.5" stroke-linecap="round" d="M151.2 415.3h0M149.5 416.2h0M152.0 408.8h0M149.8 425.4h0M150.8 438.3h0M153.3 386.8h0M149.3 437.4h0"/>
<path stroke="#ff8000" stroke-width="2.0" stroke-linecap="round" d="M151.9 405.2h0M148.3 438.5h0"/>
<path stroke="#ff8000" stroke-width="1.0" stroke-linecap="round" d="M155.1 373.6h0M146.8 432.0h0M149.4 420.2h0M155.2 352.6h0M152.1 405.9h0M155.5 375.2h0M154.3 378.6h0"/>
<path stroke="#ff8000" stroke-width="1.5" stroke-linecap="round" d="M155.5 360.4h0M150.4 418.3h0M152.7 391.5h0M151.9 419.0h0M153.7 388.1h0M150.3 440.9h0M150.2 421.0h0"/>
<path stroke="#00a0ff" stroke-width="1.5" stroke-linecap="round" d="M154.8 374.4h0M153.6 399.4h0M152.2 406.2h0M148.5 436.6h0M151.2 407.7h0M151.2 413.6h0"/>
<path stroke="#00e0ff" stroke-width="1.0" stroke-linecap="round" d="M147.8 427.3h0M154.5 375.1h0M154.8 372.5h0"/>
<path stroke="#00a0ff" stroke-width="1.0" stroke-linecap="round" d="M153.9 379.3h0M152.7 405.1h0M155.7 375.2h0M149.1 426.4h0M149.2 435.5h0M151.4 412.4h0M151.5 410.0h0M154.2 381.6h0"/>
<path stroke="#0060ff" stroke-width="1.0" stroke-linecap="round" d="M151.9 397.6h0M149.8 436.9h0M154.4 390.2h0M151.4 414.0h0M152.7 394.6h0M150.9 421.5h0M152.0 441.9h0"/>
<path stroke="#00e0ff" stroke-width="2.0" stroke-linecap="round" d="M150.1 418.0h0"/>
<path stroke="#c0ff40" stroke-width="2.0" stroke-linecap="round" d="M151.3 409.4h0"/>
<path stroke="#0060ff" stroke-width="2.0" stroke-linecap="round" d="M154.6 381.2h0"/>
<path stroke="#00a0ff" stroke-width="2.0" stroke-linecap="round" d="M148.1 432.4h0"/>
<rect x="153" y="366.2" width="5" height="3.2" fill="#fff"/>
<line x1="152.0" y1="409.5" x2="155.0" y2="409.5" stroke="#ffb200" stroke-width="1.8" stroke-linecap="round"/>
<line x1="155.0" y1="409.5" x2="158.6" y2="409.0" stroke="#ffb200" stroke-width="1.8" stroke-linecap="round"/>
<line x1="184.4" y1="343.5" x2="182.7" y2="347.5" stroke="#c0ff40" stroke-width="3.8" stroke-linecap="round"/>
<line x1="182.7" y1="347.5" x2="181.6" y2="351.6" stroke="#40e0e0" stroke-width="5.2" stroke-linecap="round"/>
<line x1="181.6" y1="351.6" x2="178.6" y2="360.7" stroke="#40e0e0" stroke-width="6.8" stroke-linecap="round"/>
<line x1="178.6" y1="360.7" x2="176.3" y2="369.8" stroke="#0090ff" stroke-width="8.0" stroke-linecap="round"/>
<line x1="176.3" y1="369.8" x2="174.3" y2="378.9" stroke="#0050ff" stroke-width="9.2" stroke-linecap="round"/>
<line x1="174.3" y1="378.9" x2="172.6" y2="385.0" stroke="#0050ff" stroke-width="10.5" stroke-linecap="round"/>
<line x1="172.6" y1="385.0" x2="169.8" y2="394.0" stroke="#0050ff" stroke-width="11.0" stroke-linecap="round"/>
<line x1="169.8" y1="394.0" x2="166.6" y2="403.0" stroke="#0050ff" stroke-width="10.5" stroke-linecap="round"/>
<line x1="166.6" y1="403.0" x2="162.3" y2="412.3" stroke="#0050ff" stroke-width="9.2" stroke-linecap="round"/>
<line x1="162.3" y1="412.3" x2="159.5" y2="421.4" stroke="#0050ff" stroke-width="9.0" stroke-linecap="round"/>
<line x1="159.5" y1="421.4" x2="158.6" y2="430.5" stroke="#0050ff" stroke-width="9.5" stroke-linecap="round"/>
<line x1="158.6" y1="430.5" x2="158.0" y2="437.0" stroke="#0050ff" stroke-width="8.8" stroke-linecap="round"/>
<line x1="158.0" y1="437.0" x2="157.5" y2="444.0" stroke="#0050ff" stroke-width="7.8" stroke-linecap="round"/>
<line x1="157.5" y1="444.0" x2="158.0" y2="449.0" stroke="#0050ff" stroke-width="7.2" stroke-linecap="round"/>
<path stroke="#20e0ff" stroke-width="2.5" stroke-linecap="round" d="M158.2 448.3h0M173.5 379.7h0M164.8 408.0h0M158.4 433.8h0M161.1 437.5h0M159.5 433.7h0M157.4 417.2h0M168.5 404.1h0M159.6 436.9h0"/>
<path stroke="#0000c0" stroke-width="1.0" stroke-linecap="round" d="M162.9 405.4h0"/>
<path stroke="#20e0ff" stroke-width="2.0" stroke-linecap="round" d="M170.9 389.3h0M170.7 381.5h0M170.8 398.4h0M161.2 434.7h0M175.6 373.4h0M162.1 421.7h0M175.7 374.4h0M160.6 423.9h0"/>
<path stroke="#0040ff" stroke-width="1.5" stroke-linecap="round" d="M159.5 432.3h0M161.7 427.5h0M159.4 415.7h0M158.0 448.9h0M176.8 372.9h0M158.9 423.0h0M163.8 403.8h0M170.0 398.3h0M160.4 446.6h0M175.0 373.3h0M159.3 422.0h0M171.4 399.6h0M177.8 364.1h0M156.2 423.6h0M179.6 364.5h0M156.7 439.3h0M178.8 360.3h0M180.5 358.7h0M170.0 394.8h0M165.7 411.6h0"/>
<path stroke="#00d0ff" stroke-width="2.0" stroke-linecap="round" d="M159.9 435.5h0M174.0 379.3h0M164.9 418.1h0M157.5 435.7h0M172.3 385.0h0M162.5 410.6h0M160.1 424.2h0M164.5 404.8h0M158.1 448.5h0M173.1 390.9h0"/>
<path stroke="#00c0ff" stroke-width="1.5" stroke-linecap="round" d="M159.8 442.5h0M157.9 435.0h0M160.3 449.6h0M175.8 364.0h0M179.9 357.3h0M173.8 381.6h0M178.9 362.1h0M165.1 404.3h0M161.6 425.5h0M173.6 380.3h0"/>
<path stroke="#0060ff" stroke-width="1.5" stroke-linecap="round" d="M158.0 445.4h0M171.3 373.8h0M166.9 404.2h0M158.9 448.0h0M170.3 386.4h0M179.6 365.9h0M159.2 441.0h0M161.7 411.3h0M173.5 374.1h0M160.3 428.2h0M155.7 434.9h0M159.1 411.7h0M157.7 424.9h0M168.5 388.3h0M171.3 380.1h0"/>
<path stroke="#0070ff" stroke-width="2.0" stroke-linecap="round" d="M160.9 416.1h0M165.3 404.1h0M178.9 375.1h0M159.4 429.1h0M157.8 436.0h0"/>
<path stroke="#ff8000" stroke-width="2.5" stroke-linecap="round" d="M177.0 359.2h0M178.9 362.7h0M176.9 366.1h0M176.8 368.2h0"/>
<path stroke="#0070ff" stroke-width="1.0" stroke-linecap="round" d="M156.5 440.8h0M171.7 395.9h0"/>
<path stroke="#0040ff" stroke-width="2.5" stroke-linecap="round" d="M171.6 386.8h0M158.6 419.2h0M177.4 365.3h0M159.1 415.6h0M160.5 413.5h0M162.9 403.7h0M155.0 427.8h0"/>
<path stroke="#0030ff" stroke-width="2.0" stroke-linecap="round" d="M163.0 424.9h0M167.2 397.7h0M162.4 411.6h0M162.6 420.1h0M163.8 410.7h0M155.6 443.0h0M166.4 401.7h0"/>
<path stroke="#0060ff" stroke-width="2.0" stroke-linecap="round" d="M158.8 418.6h0M170.2 404.6h0M175.0 377.0h0M178.6 366.5h0M163.5 409.7h0M175.5 372.2h0M178.7 356.5h0M171.8 387.1h0M162.2 417.5h0M154.8 440.4h0"/>
<path stroke="#20e0ff" stroke-width="1.5" stroke-linecap="round" d="M161.3 438.1h0M174.7 377.7h0M165.4 411.1h0M156.9 429.8h0M155.8 436.6h0M160.8 424.6h0M169.3 388.5h0M155.7 436.0h0M170.5 396.8h0M170.5 389.7h0M164.7 406.4h0M159.9 430.0h0"/>
<path stroke="#ffe000" stroke-width="1.5" stroke-linecap="round" d="M183.7 352.0h0M180.8 355.8h0M181.9 353.0h0M183.7 345.8h0"/>
<path stroke="#00d0ff" stroke-width="1.5" stroke-linecap="round" d="M158.1 426.5h0M161.6 410.1h0M170.9 378.7h0M164.4 407.0h0M168.0 394.9h0M161.1 416.1h0M165.4 412.4h0M170.9 395.1h0M155.6 419.8h0"/>
<path stroke="#00a0ff" stroke-width="2.5" stroke-linecap="round" d="M166.3 404.2h0M158.4 416.7h0M166.4 403.4h0M168.3 399.5h0M158.4 429.0h0"/>
<path stroke="#0090ff" stroke-width="2.0" stroke-linecap="round" d="M166.4 399.4h0M158.6 435.8h0M163.9 404.6h0M158.9 436.3h0M158.0 444.2h0M158.7 432.7h0M173.2 382.7h0"/>
<path stroke="#0010d0" stroke-width="2.5" stroke-linecap="round" d="M170.6 393.0h0M169.4 405.1h0M157.5 444.9h0M171.0 377.5h0M174.6 378.5h0M158.4 413.2h0"/>
<path stroke="#0020e0" stroke-width="1.5" stroke-linecap="round" d="M173.8 375.0h0M160.2 423.6h0M170.7 392.7h0M165.8 406.6h0M175.7 377.1h0M170.0 384.3h0M155.3 446.0h0M171.9 374.1h0M156.1 442.4h0"/>
<path stroke="#0010d0" stroke-width="1.5" stroke-linecap="round" d="M163.8 406.5h0M163.3 406.7h0M154.6 445.2h0M167.4 384.6h0M173.3 388.3h0M162.6 427.2h0M163.5 400.0h0M165.1 411.1h0M163.6 416.1h0M161.2 414.8h0"/>
<path stroke="#0090ff" stroke-width="2.5" stroke-linecap="round" d="M170.8 391.6h0M157.5 443.1h0M174.9 377.8h0M173.1 382.7h0M159.5 421.3h0"/>
<path stroke="#0010d0" stroke-width="2.0" stroke-linecap="round" d="M172.9 383.3h0M169.4 391.9h0M160.2 412.4h0M177.6 384.6h0M157.2 441.5h0"/>
<path stroke="#0020e0" stroke-width="2.0" stroke-linecap="round" d="M159.3 426.0h0M161.6 406.4h0M172.8 384.2h0M158.4 416.9h0M167.5 409.2h0"/>
<path stroke="#40ffc0" stroke-width="2.5" stroke-linecap="round" d="M157.9 427.0h0M178.5 361.8h0M172.9 386.2h0M177.4 367.0h0M173.9 382.7h0M155.4 429.6h0M156.1 418.8h0M164.8 414.7h0M174.8 366.9h0M158.5 428.8h0M168.6 389.9h0M162.4 416.7h0"/>
<path stroke="#00c0ff" stroke-width="2.5" stroke-linecap="round" d="M178.7 378.8h0M160.9 417.1h0M166.4 404.0h0M159.5 431.4h0M160.1 430.4h0"/>
<path stroke="#00a0ff" stroke-width="1.5" stroke-linecap="round" d="M161.9 421.2h0M163.8 409.7h0M159.4 431.7h0M158.7 431.1h0M163.7 412.1h0M163.1 426.8h0"/>
<path stroke="#ffff00" stroke-width="1.5" stroke-linecap="round" d="M174.5 362.6h0M176.1 370.0h0M183.4 355.2h0M183.6 343.2h0"/>
<path stroke="#0020e0" stroke-width="2.5" stroke-linecap="round" d="M157.2 440.4h0M158.8 436.5h0M169.8 394.0h0"/>
<path stroke="#ff4000" stroke-width="2.5" stroke-linecap="round" d="M182.0 350.0h0M184.0 346.9h0"/>
<path stroke="#80ff80" stroke-width="2.5" stroke-linecap="round" d="M176.8 357.3h0M178.0 361.8h0M181.4 352.1h0M184.0 343.5h0M178.0 361.9h0"/>
<path stroke="#00c0ff" stroke-width="2.0" stroke-linecap="round" d="M158.4 445.6h0M158.4 433.1h0M180.7 360.6h0M179.0 366.9h0M176.7 368.5h0M178.7 367.6h0M157.3 443.5h0M175.3 365.4h0M178.3 356.6h0"/>
<path stroke="#ffc000" stroke-width="2.5" stroke-linecap="round" d="M181.7 350.2h0"/>
<path stroke="#00a0ff" stroke-width="2.0" stroke-linecap="round" d="M162.0 419.6h0M157.4 446.7h0M173.2 391.7h0M171.5 389.1h0M161.7 427.9h0M165.8 400.5h0M159.7 424.4h0"/>
<path stroke="#0070ff" stroke-width="1.5" stroke-linecap="round" d="M175.6 387.5h0M168.8 392.6h0M158.3 442.8h0M159.9 429.9h0M162.7 406.0h0M159.2 447.1h0M156.6 443.4h0M166.8 396.7h0M159.1 435.1h0M176.0 380.4h0"/>
<path stroke="#ff6000" stroke-width="2.0" stroke-linecap="round" d="M182.4 346.0h0M183.9 346.9h0M185.0 343.0h0"/>
<path stroke="#ffc000" stroke-width="2.0" stroke-linecap="round" d="M179.9 351.4h0"/>
<path stroke="#40ffc0" stroke-width="1.5" stroke-linecap="round" d="M167.6 399.7h0M156.2 426.6h0M173.0 378.0h0M163.7 401.8h0M177.1 377.3h0M161.5 412.4h0M173.1 380.6h0M157.7 441.4h0M158.0 442.5h0"/>
<path stroke="#00d0ff" stroke-width="2.5" stroke-linecap="round" d="M172.3 393.8h0M159.7 417.6h0M158.2 428.5h0M172.9 382.3h0M157.7 439.9h0M168.1 387.4h0M175.1 384.4h0"/>
<path stroke="#0040ff" stroke-width="2.0" stroke-linecap="round" d="M164.3 403.9h0M177.2 367.8h0M158.4 439.1h0M157.5 432.8h0M158.6 439.1h0M169.9 388.1h0M157.7 416.0h0M163.9 401.4h0M170.2 387.9h0"/>
<path stroke="#0050ff" stroke-width="1.5" stroke-linecap="round" d="M169.2 392.3h0M176.8 377.7h0M157.2 441.6h0M164.0 394.9h0M171.0 400.4h0M155.7 442.4h0M158.1 425.4h0"/>
<path stroke="#80ff80" stroke-width="2.0" stroke-linecap="round" d="M177.4 358.2h0M177.5 360.5h0M181.2 357.4h0M180.9 355.4h0M180.8 349.2h0M182.7 355.3h0M182.2 348.8h0"/>
<path stroke="#0030ff" stroke-width="2.5" stroke-linecap="round" d="M170.2 385.3h0M155.7 444.5h0"/>
<path stroke="#0020e0" stroke-width="1.0" stroke-linecap="round" d="M169.6 405.5h0"/>
<path stroke="#ff4000" stroke-width="1.0" stroke-linecap="round" d="M183.0 350.1h0"/>
<path stroke="#ff6000" stroke-width="1.5" stroke-linecap="round" d="M183.8 344.4h0M180.9 353.8h0M179.4 354.2h0M181.4 352.4h0M183.5 345.8h0"/>
<path stroke="#0030ff" stroke-width="1.5" stroke-linecap="round" d="M167.7 398.7h0M158.9 435.0h0M159.9 443.2h0M161.7 427.6h0M175.0 382.7h0M156.0 440.8h0"/>
<path stroke="#0090ff" stroke-width="1.5" stroke-linecap="round" d="M173.9 380.6h0M173.3 381.4h0M160.8 430.5h0M166.5 402.7h0M163.0 406.9h0M158.8 434.3h0M167.9 399.4h0M169.7 407.3h0"/>
<path stroke="#c0ff40" stroke-width="2.0" stroke-linecap="round" d="M174.7 373.6h0M180.7 359.6h0"/>
<path stroke="#ffe000" stroke-width="2.5" stroke-linecap="round" d="M183.6 343.4h0"/>
<path stroke="#00e0ff" stroke-width="1.5" stroke-linecap="round" d="M177.8 368.0h0M176.3 374.1h0"/>
<path stroke="#0060ff" stroke-width="1.0" stroke-linecap="round" d="M164.8 406.2h0M159.2 444.7h0"/>
<path stroke="#ffff00" stroke-width="2.0" stroke-linecap="round" d="M184.3 343.8h0M179.7 362.4h0"/>
<path stroke="#80ff80" stroke-width="1.5" stroke-linecap="round" d="M182.9 350.1h0M176.3 373.8h0M183.0 345.2h0M174.1 372.2h0M182.5 348.7h0M182.4 348.2h0M182.0 350.0h0M183.3 344.3h0M180.1 355.7h0M179.7 358.5h0"/>
<path stroke="#40ffc0" stroke-width="2.0" stroke-linecap="round" d="M157.2 437.0h0M171.3 389.9h0M158.5 434.3h0M165.8 392.0h0M179.7 366.3h0M156.1 425.1h0M168.3 398.6h0M159.2 439.2h0M159.2 418.9h0M178.1 361.1h0M159.4 436.8h0M167.2 398.9h0"/>
<path stroke="#c0ff40" stroke-width="1.5" stroke-linecap="round" d="M176.2 368.0h0M180.7 360.0h0M174.8 372.5h0M175.0 375.3h0M176.0 372.3h0"/>
<path stroke="#ff8000" stroke-width="2.0" stroke-linecap="round" d="M178.9 362.5h0M178.8 354.5h0M178.1 354.6h0M177.7 373.6h0M183.9 343.7h0M178.4 368.7h0M184.5 346.0h0"/>
<path stroke="#0050ff" stroke-width="2.0" stroke-linecap="round" d="M164.6 409.7h0M157.6 422.0h0M169.5 389.7h0M167.8 404.9h0M162.6 407.0h0M176.9 377.2h0M154.6 429.7h0M155.4 425.6h0M156.1 433.6h0M157.4 433.0h0"/>
<path stroke="#ffff00" stroke-width="2.5" stroke-linecap="round" d="M176.4 366.2h0M175.2 364.3h0M183.7 343.2h0M180.0 357.6h0"/>
<path stroke="#00c0ff" stroke-width="1.0" stroke-linecap="round" d="M154.5 432.0h0"/>
<path stroke="#00d0ff" stroke-width="1.0" stroke-linecap="round" d="M163.8 402.0h0"/>
<path stroke="#0000c0" stroke-width="2.5" stroke-linecap="round" d="M172.4 374.9h0M171.3 373.2h0M166.0 410.0h0M158.1 430.9h0M160.5 425.9h0M170.8 389.7h0M156.9 447.0h0M169.0 386.4h0"/>
<path stroke="#ffe000" stroke-width="2.0" stroke-linecap="round" d="M183.1 345.4h0"/>
<path stroke="#ffc000" stroke-width="1.5" stroke-linecap="round" d="M182.6 355.6h0M182.7 351.0h0M183.2 346.4h0"/>
<path stroke="#ff4000" stroke-width="1.5" stroke-linecap="round" d="M182.3 351.2h0"/>
<path stroke="#40ffc0" stroke-width="1.0" stroke-linecap="round" d="M154.6 439.6h0"/>
<path stroke="#0090ff" stroke-width="1.0" stroke-linecap="round" d="M165.0 407.0h0M158.1 427.2h0M175.2 384.0h0"/>
<path stroke="#0000c0" stroke-width="1.5" stroke-linecap="round" d="M157.7 441.6h0M176.5 372.6h0M159.1 447.5h0M164.4 394.7h0M168.1 397.7h0M167.4 406.1h0M163.0 410.7h0M159.7 448.0h0M157.7 428.2h0"/>
<path stroke="#0070ff" stroke-width="2.5" stroke-linecap="round" d="M169.8 395.1h0M157.4 415.9h0M159.9 434.1h0"/>
<path stroke="#0050ff" stroke-width="2.5" stroke-linecap="round" d="M176.6 383.7h0M155.1 425.6h0"/>
<path stroke="#0060ff" stroke-width="2.5" stroke-linecap="round" d="M172.0 377.8h0M158.2 418.0h0M175.1 365.1h0"/>
<path stroke="#ff4000" stroke-width="2.0" stroke-linecap="round" d="M183.2 344.7h0M183.2 349.0h0M182.1 349.0h0"/>
<path stroke="#0000c0" stroke-width="2.0" stroke-linecap="round" d="M167.1 386.1h0M173.2 378.1h0M159.1 432.9h0M167.4 391.4h0"/>
<path stroke="#ff8000" stroke-width="1.5" stroke-linecap="round" d="M180.4 348.5h0M181.6 349.2h0"/>
<path stroke="#00e0ff" stroke-width="2.0" stroke-linecap="round" d="M178.8 376.7h0"/>
<path stroke="#ff6000" stroke-width="2.5" stroke-linecap="round" d="M179.7 351.3h0"/>
<path stroke="#80ff80" stroke-width="1.0" stroke-linecap="round" d="M175.2 366.3h0"/>
<path stroke="#ffff00" stroke-width="1.5" stroke-linecap="round" d="M179.5 370.1h0M163.2 410.5h0M180.0 360.2h0M162.2 414.3h0M158.8 411.9h0M179.2 357.8h0M175.9 369.0h0M164.4 401.5h0M165.2 393.3h0M166.7 398.5h0M163.3 415.6h0M159.6 432.5h0"/>
<path stroke="#80ff80" stroke-width="1.0" stroke-linecap="round" d="M166.7 407.4h0M169.5 395.4h0M157.1 436.6h0M155.2 430.3h0M160.2 408.8h0M161.8 430.4h0M159.6 439.7h0M179.2 381.1h0M167.0 401.3h0M156.2 420.0h0M157.8 434.0h0"/>
<path stroke="#ffff00" stroke-width="1.0" stroke-linecap="round" d="M154.9 439.1h0M171.6 375.0h0M183.0 349.2h0M161.0 431.3h0M174.0 369.9h0M158.5 437.8h0M183.5 347.4h0M170.2 401.1h0M184.0 342.2h0M179.3 365.6h0M173.2 394.9h0M159.0 420.5h0M177.6 362.5h0M181.2 352.1h0M157.0 416.5h0M161.3 415.7h0M169.8 395.3h0"/>
<path stroke="#00ffff" stroke-width="1.0" stroke-linecap="round" d="M163.6 414.1h0M161.0 420.8h0M171.4 390.9h0M162.4 406.7h0M159.2 437.6h0M154.4 439.0h0M162.8 406.7h0M165.1 404.0h0M175.6 375.5h0M158.2 445.4h0M160.6 436.6h0"/>
<path stroke="#80ff80" stroke-width="1.5" stroke-linecap="round" d="M176.3 381.3h0M172.8 384.2h0M159.6 442.2h0M159.0 427.7h0M174.1 371.8h0M175.6 384.9h0M154.7 427.1h0M157.4 442.8h0M158.4 446.1h0M166.9 393.9h0M170.0 385.7h0"/>
<path stroke="#00ffff" stroke-width="1.5" stroke-linecap="round" d="M168.6 395.8h0M171.9 387.4h0M157.1 440.4h0M176.7 390.1h0M167.2 396.0h0M171.4 389.0h0M157.5 435.8h0M159.8 445.7h0M159.2 442.7h0"/>
<path stroke="#00e0ff" stroke-width="1.5" stroke-linecap="round" d="M172.2 389.3h0M165.5 403.7h0M157.9 419.6h0M163.0 429.8h0M166.0 408.2h0M159.4 406.8h0"/>
<path stroke="#00e0ff" stroke-width="1.0" stroke-linecap="round" d="M164.8 410.5h0M172.2 383.2h0M161.8 418.0h0M157.1 427.8h0M159.1 425.1h0"/>
<path stroke="#ff6000" stroke-width="1.0" stroke-linecap="round" d="M183.4 348.6h0M175.9 362.7h0M180.9 355.2h0M180.4 354.0h0M175.5 373.3h0"/>
<path stroke="#ff6000" stroke-width="1.5" stroke-linecap="round" d="M179.5 356.8h0M183.4 345.8h0M182.3 345.7h0"/>
<path stroke="#ffffff" stroke-width="1.5" stroke-linecap="round" d="M163.5 419.3h0M177.2 365.9h0M165.6 403.6h0M178.7 373.6h0M163.7 418.0h0M179.2 351.8h0M179.9 368.1h0M183.4 346.8h0M156.6 439.3h0M179.1 358.7h0M172.3 381.0h0M158.6 421.5h0M161.3 432.3h0M177.3 358.8h0M172.9 390.8h0M177.6 357.6h0M183.1 347.8h0M164.5 417.3h0M157.6 425.6h0M179.1 361.2h0M161.7 419.4h0M175.4 374.1h0"/>
<path stroke="#ffffff" stroke-width="1.0" stroke-linecap="round" d="M175.4 376.3h0M178.2 379.3h0M173.5 385.3h0M155.1 447.8h0M156.9 439.9h0M170.8 384.2h0M180.5 356.7h0M169.3 388.9h0M183.3 347.1h0M161.9 425.5h0M162.3 430.6h0M171.5 389.3h0M157.4 424.8h0M181.5 345.8h0M161.7 418.1h0M157.7 441.0h0M161.3 415.2h0M163.1 416.9h0M164.6 407.5h0M175.8 376.4h0M161.5 425.8h0M174.5 371.5h0M177.2 366.4h0M169.7 395.9h0M157.9 444.8h0M158.2 426.0h0M156.9 437.3h0M170.7 381.4h0M180.4 353.5h0M166.9 397.8h0M170.0 401.9h0M182.3 350.7h0M180.2 348.1h0M159.3 436.2h0M159.2 423.9h0M162.8 410.8h0M157.5 441.9h0M180.6 355.3h0"/>
<line x1="177.5" y1="366.0" x2="176.0" y2="374.0" stroke="#ffffff" stroke-width="1.2" stroke-linecap="round"/>
<line x1="176.0" y1="374.0" x2="174.2" y2="382.0" stroke="#ffffff" stroke-width="1.9" stroke-linecap="round"/>
<line x1="174.2" y1="382.0" x2="171.8" y2="392.0" stroke="#ffffff" stroke-width="2.2" stroke-linecap="round"/>
<line x1="171.8" y1="392.0" x2="168.8" y2="400.0" stroke="#ffffff" stroke-width="1.9" stroke-linecap="round"/>
<line x1="168.8" y1="400.0" x2="166.5" y2="405.0" stroke="#ffffff" stroke-width="1.2" stroke-linecap="round"/>
<line x1="162.0" y1="416.0" x2="160.8" y2="422.0" stroke="#ffffff" stroke-width="1.3" stroke-linecap="round"/>
<line x1="160.8" y1="422.0" x2="160.2" y2="429.0" stroke="#ffffff" stroke-width="1.9" stroke-linecap="round"/>
<line x1="160.2" y1="429.0" x2="159.8" y2="436.0" stroke="#ffffff" stroke-width="1.7" stroke-linecap="round"/>
<line x1="159.8" y1="436.0" x2="159.6" y2="440.0" stroke="#ffffff" stroke-width="1.0" stroke-linecap="round"/>
<path stroke="#20e0ff" stroke-width="1.0" stroke-linecap="round" d="M175.3 379.6h0M175.3 374.4h0M173.5 384.4h0M171.8 390.7h0"/>
<path stroke="#40ffc0" stroke-width="1.5" stroke-linecap="round" d="M175.3 376.5h0M173.8 382.8h0M172.4 391.6h0"/>
<path stroke="#20e0ff" stroke-width="1.5" stroke-linecap="round" d="M174.7 375.7h0M171.4 393.5h0M171.9 393.7h0"/>
<path stroke="#40ffc0" stroke-width="1.0" stroke-linecap="round" d="M172.1 392.1h0M170.3 394.1h0M175.6 375.4h0M172.5 388.1h0M169.5 398.6h0M175.1 377.9h0"/>
<path stroke="#00c0ff" stroke-width="1.0" stroke-linecap="round" d="M174.9 378.9h0M175.5 379.6h0M173.2 385.8h0M171.2 393.2h0M175.4 376.5h0"/>
<path stroke="#00c0ff" stroke-width="1.5" stroke-linecap="round" d="M171.1 393.9h0M173.8 383.0h0M174.3 381.4h0M175.3 376.0h0"/>
<path stroke="#00c0ff" stroke-width="1.0" stroke-linecap="round" d="M172.9 389.3h0M174.7 382.5h0M171.1 396.5h0M176.0 379.0h0M176.2 374.4h0"/>
<path stroke="#00c0ff" stroke-width="1.5" stroke-linecap="round" d="M172.3 394.5h0M172.0 393.5h0M172.8 393.2h0M176.6 370.9h0M176.5 371.3h0M176.8 371.2h0M176.6 368.8h0M170.2 398.4h0M175.3 378.4h0M174.1 384.7h0M174.9 380.5h0M175.2 378.4h0M172.5 391.2h0M173.8 385.0h0M175.1 374.7h0M169.8 398.4h0M172.7 388.8h0"/>
<path stroke="#40ffc0" stroke-width="1.5" stroke-linecap="round" d="M172.3 394.0h0M170.6 397.8h0M172.5 391.1h0M173.9 387.8h0M176.7 368.8h0M174.2 384.4h0M176.9 366.6h0M173.3 391.7h0M175.6 375.2h0M175.2 381.1h0M176.8 370.4h0M172.1 392.7h0M174.7 378.6h0M176.4 372.9h0M173.4 388.3h0"/>
<path stroke="#00e0ff" stroke-width="1.5" stroke-linecap="round" d="M177.6 367.8h0M173.8 386.3h0M177.1 371.2h0M175.6 377.8h0M176.9 369.5h0M178.1 364.6h0M175.6 378.0h0M171.3 397.8h0M174.0 383.5h0M178.3 365.4h0M176.8 371.4h0"/>
<path stroke="#40ffc0" stroke-width="1.0" stroke-linecap="round" d="M171.6 394.6h0M174.2 382.9h0M175.4 378.4h0M173.9 385.7h0M177.3 368.7h0M175.6 380.4h0M173.9 386.8h0"/>
<path stroke="#00c0ff" stroke-width="2.0" stroke-linecap="round" d="M171.3 395.3h0M171.0 394.8h0"/>
<path stroke="#40ffc0" stroke-width="2.0" stroke-linecap="round" d="M173.1 392.0h0"/>
<path stroke="#00e0ff" stroke-width="1.0" stroke-linecap="round" d="M176.0 375.4h0M174.2 386.6h0"/>
<line x1="195.5" y1="344.8" x2="193.7" y2="351.6" stroke="#20d0ff" stroke-width="3.6" stroke-linecap="round"/>
<line x1="193.7" y1="351.6" x2="190.9" y2="360.7" stroke="#20d0ff" stroke-width="4.4" stroke-linecap="round"/>
<line x1="190.9" y1="360.7" x2="188.8" y2="369.8" stroke="#0090ff" stroke-width="4.7" stroke-linecap="round"/>
<line x1="188.8" y1="369.8" x2="187.7" y2="378.9" stroke="#0090ff" stroke-width="4.8" stroke-linecap="round"/>
<line x1="187.7" y1="378.9" x2="187.5" y2="387.0" stroke="#0090ff" stroke-width="4.8" stroke-linecap="round"/>
<line x1="187.5" y1="387.0" x2="188.3" y2="395.0" stroke="#0090ff" stroke-width="4.5" stroke-linecap="round"/>
<line x1="188.3" y1="395.0" x2="188.7" y2="405.9" stroke="#0090ff" stroke-width="4.1" stroke-linecap="round"/>
<line x1="188.7" y1="405.9" x2="190.3" y2="416.8" stroke="#0090ff" stroke-width="4.0" stroke-linecap="round"/>
<line x1="190.3" y1="416.8" x2="193.6" y2="423.4" stroke="#0090ff" stroke-width="4.3" stroke-linecap="round"/>
<line x1="193.6" y1="423.4" x2="197.4" y2="429.9" stroke="#0090ff" stroke-width="4.8" stroke-linecap="round"/>
<line x1="197.4" y1="429.9" x2="204.0" y2="434.0" stroke="#0090ff" stroke-width="4.5" stroke-linecap="round"/>
<line x1="204.0" y1="434.0" x2="212.7" y2="438.6" stroke="#0090ff" stroke-width="3.6" stroke-linecap="round"/>
<line x1="212.7" y1="438.6" x2="221.0" y2="443.5" stroke="#0090ff" stroke-width="3.2" stroke-linecap="round"/>
<line x1="221.0" y1="443.5" x2="229.0" y2="448.5" stroke="#0090ff" stroke-width="3.0" stroke-linecap="round"/>
<line x1="229.0" y1="448.5" x2="236.0" y2="454.5" stroke="#0090ff" stroke-width="3.0" stroke-linecap="round"/>
<line x1="236.0" y1="454.5" x2="242.7" y2="459.5" stroke="#0090ff" stroke-width="2.7" stroke-linecap="round"/>
<path stroke="#0030ff" stroke-width="2.0" stroke-linecap="round" d="M231.4 449.9h0M203.3 434.0h0M237.1 455.3h0M222.4 443.5h0M205.3 434.2h0M192.1 364.4h0M187.5 408.8h0M188.5 367.7h0"/>
<path stroke="#40ffc0" stroke-width="1.5" stroke-linecap="round" d="M219.7 443.2h0M191.6 361.3h0M188.0 398.3h0M187.6 383.6h0M188.8 376.2h0M226.7 446.3h0M191.4 354.4h0M190.7 416.6h0M185.4 378.8h0M231.4 451.5h0M218.4 441.7h0M191.1 360.2h0M196.7 426.9h0M188.3 407.4h0"/>
<path stroke="#20ffe0" stroke-width="1.5" stroke-linecap="round" d="M188.0 373.5h0M190.3 364.4h0M221.2 443.1h0M188.3 404.2h0M237.4 455.5h0M228.4 449.3h0M189.7 403.5h0M195.5 428.5h0"/>
<path stroke="#0050ff" stroke-width="1.0" stroke-linecap="round" d="M194.6 427.5h0M214.7 439.1h0M188.9 404.9h0M241.1 458.2h0M195.8 427.8h0M207.8 436.2h0"/>
<path stroke="#00c0ff" stroke-width="2.0" stroke-linecap="round" d="M207.3 435.8h0M189.8 391.4h0M234.1 451.5h0M234.6 452.2h0M201.8 433.8h0M185.9 380.3h0M207.0 436.6h0M229.8 449.0h0M208.7 436.1h0"/>
<path stroke="#00d0ff" stroke-width="1.5" stroke-linecap="round" d="M189.7 403.6h0M189.7 413.2h0M187.2 392.8h0M196.3 428.8h0M220.8 443.1h0M189.3 365.0h0M224.4 445.1h0M189.4 368.1h0M187.3 377.2h0M190.4 406.3h0M188.5 403.6h0M189.6 407.8h0M188.5 372.0h0M191.5 419.6h0M190.1 372.9h0"/>
<path stroke="#20a0ff" stroke-width="1.5" stroke-linecap="round" d="M193.7 349.2h0M192.8 354.4h0M193.1 355.6h0M191.8 353.4h0M194.4 348.7h0M194.7 348.1h0M192.1 358.6h0"/>
<path stroke="#0070ff" stroke-width="1.5" stroke-linecap="round" d="M188.9 384.0h0M187.5 373.0h0M187.6 380.8h0M211.3 437.6h0M189.0 369.1h0M188.2 398.9h0M189.0 373.1h0M238.0 456.3h0M189.5 407.0h0M220.9 442.6h0M187.3 370.8h0M227.0 446.0h0M238.3 456.5h0M188.2 369.5h0"/>
<path stroke="#00e0ff" stroke-width="2.0" stroke-linecap="round" d="M194.9 426.6h0M188.3 384.3h0M195.2 345.6h0M202.8 435.0h0M189.6 366.5h0M195.3 425.4h0M201.3 432.5h0M191.0 360.6h0M193.5 353.8h0M228.2 448.8h0M223.1 444.9h0M240.0 456.3h0"/>
<path stroke="#00d0ff" stroke-width="1.0" stroke-linecap="round" d="M240.4 457.9h0M187.8 412.3h0M196.2 427.9h0M187.7 379.2h0M189.9 416.6h0"/>
<path stroke="#c0ff40" stroke-width="2.0" stroke-linecap="round" d="M188.1 393.5h0M195.9 427.5h0M195.7 425.9h0M207.5 435.7h0M197.7 429.7h0M190.1 405.5h0"/>
<path stroke="#0050ff" stroke-width="1.5" stroke-linecap="round" d="M239.2 456.1h0M197.9 426.9h0M221.5 443.1h0M187.2 369.5h0M186.5 377.6h0M212.1 438.5h0M236.6 454.5h0M189.1 395.3h0M188.4 399.0h0M214.2 439.3h0M190.3 364.9h0M188.5 366.6h0M239.2 456.4h0M188.3 395.4h0M190.1 370.3h0M188.9 407.4h0M187.8 411.0h0"/>
<path stroke="#0040ff" stroke-width="1.5" stroke-linecap="round" d="M190.9 414.5h0M188.9 368.2h0M187.4 378.8h0M188.0 403.8h0M211.6 438.0h0M189.6 401.9h0M203.3 432.4h0M223.8 445.8h0M189.9 410.7h0M189.1 367.0h0M187.6 386.2h0M189.4 384.1h0M210.9 438.3h0"/>
<path stroke="#40ffc0" stroke-width="2.0" stroke-linecap="round" d="M233.1 452.0h0M192.8 353.5h0M227.9 449.3h0M227.4 446.4h0M217.3 441.0h0M201.6 432.4h0M204.2 433.7h0M188.0 367.9h0M211.3 437.5h0M204.5 432.4h0M188.4 367.7h0M188.0 373.7h0"/>
<path stroke="#20a0ff" stroke-width="1.0" stroke-linecap="round" d="M193.6 353.7h0M193.7 351.8h0M191.3 357.0h0M192.5 356.2h0"/>
<path stroke="#0050ff" stroke-width="2.0" stroke-linecap="round" d="M217.1 440.2h0M189.5 399.9h0M187.8 393.2h0M189.4 374.5h0M226.3 446.5h0M228.5 447.5h0M213.8 438.5h0M187.5 402.6h0M186.8 373.8h0M240.6 457.6h0M220.6 442.2h0M196.2 426.9h0M188.7 377.9h0M189.7 365.3h0M211.0 435.9h0M217.5 441.5h0"/>
<path stroke="#c0ff40" stroke-width="1.5" stroke-linecap="round" d="M220.9 443.7h0M218.4 441.6h0M188.3 376.4h0M204.6 433.3h0M218.6 443.6h0M200.3 432.5h0M223.8 444.4h0M229.3 449.0h0M232.7 451.7h0M191.4 419.0h0"/>
<path stroke="#0070ff" stroke-width="2.0" stroke-linecap="round" d="M188.6 401.9h0M186.7 402.1h0M223.6 446.5h0M188.1 374.1h0M186.6 399.6h0M209.3 436.4h0M189.1 411.2h0M219.9 443.7h0M190.1 363.8h0"/>
<path stroke="#00e0ff" stroke-width="1.0" stroke-linecap="round" d="M187.1 395.5h0M233.6 452.4h0M190.3 411.4h0M188.1 393.4h0M189.0 393.8h0M204.3 432.8h0M218.1 442.2h0M232.9 452.0h0M191.7 422.0h0M190.4 363.3h0"/>
<path stroke="#20a0ff" stroke-width="2.0" stroke-linecap="round" d="M192.0 361.2h0M194.5 354.6h0"/>
<path stroke="#20ffe0" stroke-width="2.0" stroke-linecap="round" d="M228.1 448.3h0M186.7 395.6h0M191.7 363.1h0M219.8 443.5h0M189.7 399.3h0M194.6 423.7h0M187.4 392.4h0"/>
<path stroke="#0040ff" stroke-width="2.0" stroke-linecap="round" d="M189.9 401.2h0M191.3 363.1h0M233.7 452.5h0M224.2 445.5h0M191.2 420.4h0M197.2 430.2h0M187.9 385.1h0M236.6 453.4h0M194.5 425.0h0"/>
<path stroke="#00e0ff" stroke-width="1.5" stroke-linecap="round" d="M189.6 398.8h0M192.6 361.0h0M227.4 447.4h0M192.4 355.2h0M195.9 344.5h0M223.9 445.3h0M187.4 382.0h0M187.6 383.4h0M190.4 418.7h0M191.7 355.9h0M189.3 409.3h0"/>
<path stroke="#20ffe0" stroke-width="1.0" stroke-linecap="round" d="M208.9 437.4h0M187.9 401.1h0M190.6 368.2h0"/>
<path stroke="#00c0ff" stroke-width="1.5" stroke-linecap="round" d="M215.2 440.3h0M190.7 365.8h0M192.0 357.5h0M188.2 398.2h0M189.8 411.5h0M224.0 445.9h0M188.4 403.8h0M215.7 439.3h0M192.7 352.4h0M223.8 445.3h0M210.2 437.2h0M189.8 380.1h0M191.3 356.9h0M192.0 353.4h0M226.6 447.6h0M188.6 403.9h0M196.2 347.7h0M188.2 374.9h0M195.4 345.6h0M190.7 415.4h0"/>
<path stroke="#c0ff40" stroke-width="1.0" stroke-linecap="round" d="M191.3 361.8h0M197.6 429.9h0M235.4 454.3h0M205.3 435.4h0"/>
<path stroke="#00c0ff" stroke-width="1.0" stroke-linecap="round" d="M223.7 444.7h0M193.8 353.2h0M194.0 349.0h0M193.7 352.1h0M188.1 372.3h0M187.7 409.0h0M190.4 401.3h0M193.4 353.4h0M192.8 359.7h0M195.1 348.3h0"/>
<path stroke="#40ffc0" stroke-width="1.0" stroke-linecap="round" d="M221.2 442.8h0M230.7 451.1h0M189.9 398.0h0M193.0 352.2h0M189.4 362.1h0M188.4 380.4h0"/>
<path stroke="#00d0ff" stroke-width="2.0" stroke-linecap="round" d="M190.3 400.5h0M188.8 402.5h0M187.3 369.9h0M189.6 366.0h0M187.5 376.2h0M190.0 362.6h0M189.7 412.7h0M211.1 436.4h0"/>
<path stroke="#0040ff" stroke-width="1.0" stroke-linecap="round" d="M231.5 449.8h0M209.8 437.2h0M232.0 452.2h0M196.6 428.2h0M230.7 449.1h0"/>
<path stroke="#0030ff" stroke-width="1.0" stroke-linecap="round" d="M218.3 442.7h0M232.0 450.0h0M232.2 451.7h0M190.0 364.9h0M191.0 417.2h0M188.5 400.4h0M190.8 418.5h0M188.5 366.3h0M220.5 442.4h0"/>
<path stroke="#0030ff" stroke-width="1.5" stroke-linecap="round" d="M189.0 369.7h0M188.5 396.0h0M218.3 441.7h0M193.5 419.4h0M207.6 436.8h0M188.8 381.5h0M187.5 384.6h0"/>
<path stroke="#0070ff" stroke-width="1.0" stroke-linecap="round" d="M188.6 381.3h0M187.6 393.1h0M230.6 449.9h0M188.2 405.0h0"/>
<path stroke="#ffffff" stroke-width="1.0" stroke-linecap="round" d="M189.4 371.8h0M189.9 365.8h0M187.8 393.5h0M190.4 414.1h0M190.7 415.8h0M191.6 358.3h0M189.4 406.7h0M208.0 436.1h0M220.6 443.3h0M192.6 420.2h0M232.9 452.5h0M188.2 392.3h0M220.1 442.7h0M187.6 380.4h0M187.9 401.6h0M203.4 433.5h0M236.5 454.8h0M240.1 458.1h0M194.2 348.2h0M187.5 392.8h0M210.7 437.9h0M190.1 368.9h0M194.4 424.6h0M229.5 449.0h0M233.4 452.6h0M242.5 458.8h0M231.3 451.6h0M189.6 399.7h0M188.4 398.8h0M187.4 395.2h0M194.2 351.4h0M209.2 436.7h0"/>
<path stroke="#ffffff" stroke-width="1.5" stroke-linecap="round" d="M192.6 356.1h0M224.8 445.0h0M191.7 421.2h0M190.4 359.7h0M197.5 429.6h0M232.3 450.8h0M188.7 404.4h0M227.5 447.8h0"/>
<line x1="192.5" y1="356.0" x2="190.0" y2="365.0" stroke="#ffffff" stroke-width="0.8" stroke-linecap="round"/>
<line x1="190.0" y1="365.0" x2="188.3" y2="375.0" stroke="#ffffff" stroke-width="1.1" stroke-linecap="round"/>
<line x1="188.3" y1="375.0" x2="188.0" y2="387.0" stroke="#ffffff" stroke-width="1.1" stroke-linecap="round"/>
<line x1="188.0" y1="387.0" x2="188.6" y2="398.0" stroke="#ffffff" stroke-width="1.1" stroke-linecap="round"/>
<line x1="188.6" y1="398.0" x2="189.3" y2="408.0" stroke="#ffffff" stroke-width="0.8" stroke-linecap="round"/>
<line x1="195.3" y1="399.4" x2="195.8" y2="408.0" stroke="#2dffd1" stroke-width="1.6" stroke-linecap="round"/>
<line x1="195.8" y1="408.0" x2="196.4" y2="416.8" stroke="#2dffd1" stroke-width="1.6" stroke-linecap="round"/>
<line x1="196.4" y1="416.8" x2="197.5" y2="425.5" stroke="#2dffd1" stroke-width="1.6" stroke-linecap="round"/>
<path stroke="#40ffc0" stroke-width="1.5" stroke-linecap="round" d="M195.2 401.8h0M196.1 406.9h0M196.1 417.8h0"/>
<path stroke="#c0ff40" stroke-width="1.0" stroke-linecap="round" d="M196.9 421.2h0M196.4 416.5h0M196.3 403.6h0M196.8 424.6h0"/>
<path stroke="#00e0ff" stroke-width="1.0" stroke-linecap="round" d="M196.1 420.1h0M196.1 401.2h0"/>
<path stroke="#40ffc0" stroke-width="1.0" stroke-linecap="round" d="M197.1 423.7h0M196.4 416.8h0M196.1 412.1h0"/>
<path stroke="#00e0ff" stroke-width="1.5" stroke-linecap="round" d="M196.3 420.0h0"/>
<path stroke="#00e0ff" stroke-width="0.5" stroke-linecap="round" d="M196.3 415.1h0"/>
<path stroke="#40ffc0" stroke-width="0.5" stroke-linecap="round" d="M194.7 402.7h0"/>
<line x1="167.7" y1="407.7" x2="172.3" y2="409.5" stroke="#ff8000" stroke-width="2.0" stroke-linecap="round"/>
<line x1="172.3" y1="409.5" x2="175.0" y2="413.2" stroke="#ff8000" stroke-width="2.0" stroke-linecap="round"/>
<line x1="175.0" y1="413.2" x2="177.7" y2="417.7" stroke="#40ffc0" stroke-width="2.0" stroke-linecap="round"/>
<line x1="177.7" y1="417.7" x2="181.4" y2="420.5" stroke="#40ffc0" stroke-width="2.0" stroke-linecap="round"/>
<line x1="181.4" y1="420.5" x2="185.9" y2="421.4" stroke="#40ffc0" stroke-width="2.0" stroke-linecap="round"/>
<line x1="185.9" y1="421.4" x2="190.5" y2="421.4" stroke="#40ffc0" stroke-width="2.0" stroke-linecap="round"/>
<path stroke="#80ff80" stroke-width="1.5" stroke-linecap="round" d="M181.0 420.3h0M175.8 414.5h0M183.5 421.0h0M175.4 414.9h0"/>
<path stroke="#ffff00" stroke-width="1.0" stroke-linecap="round" d="M190.4 421.4h0M186.3 420.9h0M175.6 414.6h0M180.7 420.3h0"/>
<path stroke="#ffff00" stroke-width="1.5" stroke-linecap="round" d="M183.6 420.9h0M180.0 418.4h0M180.1 419.7h0"/>
<path stroke="#ffc000" stroke-width="1.0" stroke-linecap="round" d="M173.8 410.1h0"/>
<path stroke="#80ff80" stroke-width="1.0" stroke-linecap="round" d="M179.3 418.3h0M181.3 420.2h0M175.9 415.0h0M182.5 420.9h0"/>
<path stroke="#ff6000" stroke-width="1.0" stroke-linecap="round" d="M167.8 407.1h0"/>
<path stroke="#00e0ff" stroke-width="1.0" stroke-linecap="round" d="M179.5 417.9h0M181.6 420.4h0"/>
<path stroke="#ff6000" stroke-width="1.5" stroke-linecap="round" d="M168.4 408.6h0M175.1 413.6h0M174.6 412.3h0"/>
<path stroke="#ffc000" stroke-width="1.5" stroke-linecap="round" d="M174.4 412.4h0M169.5 408.2h0"/>
<path stroke="#00e0ff" stroke-width="1.5" stroke-linecap="round" d="M188.7 421.5h0"/>
<line x1="177.7" y1="418.0" x2="181.4" y2="426.8" stroke="#10b0ff" stroke-width="2.1" stroke-linecap="round"/>
<line x1="181.4" y1="426.8" x2="186.0" y2="429.0" stroke="#10b0ff" stroke-width="2.3" stroke-linecap="round"/>
<line x1="186.0" y1="429.0" x2="190.0" y2="434.0" stroke="#10b0ff" stroke-width="2.6" stroke-linecap="round"/>
<line x1="190.0" y1="434.0" x2="193.0" y2="436.0" stroke="#10b0ff" stroke-width="2.9" stroke-linecap="round"/>
<line x1="193.0" y1="436.0" x2="200.0" y2="441.0" stroke="#10b0ff" stroke-width="3.0" stroke-linecap="round"/>
<line x1="200.0" y1="441.0" x2="207.3" y2="445.5" stroke="#10b0ff" stroke-width="3.0" stroke-linecap="round"/>
<line x1="207.3" y1="445.5" x2="214.0" y2="450.5" stroke="#10b0ff" stroke-width="3.0" stroke-linecap="round"/>
<line x1="214.0" y1="450.5" x2="219.0" y2="454.5" stroke="#10b0ff" stroke-width="2.9" stroke-linecap="round"/>
<line x1="219.0" y1="454.5" x2="223.0" y2="458.5" stroke="#10b0ff" stroke-width="2.8" stroke-linecap="round"/>
<line x1="223.0" y1="458.5" x2="226.4" y2="462.3" stroke="#10b0ff" stroke-width="2.7" stroke-linecap="round"/>
<line x1="226.4" y1="462.3" x2="230.0" y2="466.0" stroke="#10b0ff" stroke-width="2.6" stroke-linecap="round"/>
<line x1="230.0" y1="466.0" x2="233.5" y2="468.8" stroke="#10b0ff" stroke-width="2.5" stroke-linecap="round"/>
<line x1="233.5" y1="468.8" x2="237.5" y2="469.8" stroke="#10b0ff" stroke-width="2.3" stroke-linecap="round"/>
<line x1="237.5" y1="469.8" x2="241.0" y2="468.5" stroke="#10b0ff" stroke-width="2.1" stroke-linecap="round"/>
<path stroke="#80ff80" stroke-width="1.0" stroke-linecap="round" d="M224.1 461.0h0M239.0 468.5h0M181.5 427.2h0M181.1 425.9h0M215.9 451.3h0M189.9 434.9h0M180.0 423.2h0M222.7 458.6h0M187.7 430.3h0"/>
<path stroke="#0040ff" stroke-width="1.0" stroke-linecap="round" d="M228.0 464.6h0M181.6 427.1h0M218.0 454.2h0M222.4 457.4h0M238.5 469.4h0M212.8 448.5h0M181.7 427.1h0M227.6 462.9h0M194.6 436.0h0"/>
<path stroke="#ffff00" stroke-width="1.5" stroke-linecap="round" d="M218.1 452.8h0M198.1 440.3h0M178.6 419.1h0M229.6 465.3h0M233.6 469.0h0M240.4 469.1h0M205.7 443.6h0M181.1 426.1h0M219.4 455.0h0M201.9 443.0h0M196.8 438.1h0M180.9 425.2h0"/>
<path stroke="#0040ff" stroke-width="1.5" stroke-linecap="round" d="M233.6 469.3h0M231.8 468.3h0M223.7 459.6h0M208.2 445.6h0M209.6 447.5h0M213.0 450.2h0M216.4 452.9h0M181.9 427.9h0"/>
<path stroke="#40ffc0" stroke-width="1.0" stroke-linecap="round" d="M192.4 436.1h0M220.1 456.7h0M241.8 468.5h0M191.6 434.7h0M221.4 457.6h0M226.4 463.2h0M194.7 437.2h0M219.1 455.6h0M225.9 462.4h0M187.7 431.8h0M203.2 442.6h0M218.8 456.1h0"/>
<path stroke="#80ff80" stroke-width="1.5" stroke-linecap="round" d="M228.0 464.9h0M217.1 452.2h0M202.0 442.9h0M212.7 450.4h0"/>
<path stroke="#c0ff40" stroke-width="1.0" stroke-linecap="round" d="M180.7 425.1h0M182.5 426.8h0M233.5 468.8h0M180.3 425.3h0M221.1 455.3h0M180.2 423.5h0M178.1 418.7h0"/>
<path stroke="#00e0ff" stroke-width="2.0" stroke-linecap="round" d="M221.4 456.5h0"/>
<path stroke="#c0ff40" stroke-width="1.5" stroke-linecap="round" d="M216.5 451.0h0M181.3 427.6h0M205.7 444.5h0M227.6 465.3h0M178.5 419.9h0M197.9 439.4h0M200.1 440.5h0M185.0 428.8h0M182.8 427.5h0"/>
<path stroke="#0060ff" stroke-width="1.5" stroke-linecap="round" d="M178.0 420.1h0M207.6 444.5h0M233.4 468.1h0M209.0 445.9h0M179.9 424.6h0M185.8 427.7h0M190.2 433.6h0M224.6 461.2h0M212.7 449.9h0M204.7 444.0h0M220.0 455.6h0M214.6 452.5h0"/>
<path stroke="#ffff00" stroke-width="1.0" stroke-linecap="round" d="M205.0 443.1h0M217.5 451.9h0M200.2 442.8h0M236.8 469.5h0M239.9 469.3h0M228.6 464.7h0"/>
<path stroke="#40ffc0" stroke-width="1.5" stroke-linecap="round" d="M218.0 453.3h0M211.7 448.8h0M196.5 438.1h0M238.0 469.7h0M182.8 426.5h0M204.9 444.7h0M228.5 464.2h0M224.9 459.9h0M219.4 455.9h0"/>
<path stroke="#40ffc0" stroke-width="2.0" stroke-linecap="round" d="M226.4 462.9h0"/>
<path stroke="#00e0ff" stroke-width="1.0" stroke-linecap="round" d="M232.9 468.3h0M232.3 467.5h0M231.2 466.6h0M198.5 439.8h0M193.4 435.4h0M177.7 417.9h0M220.7 455.6h0"/>
<path stroke="#00e0ff" stroke-width="1.5" stroke-linecap="round" d="M233.6 468.8h0M215.1 451.7h0M213.9 450.0h0M185.8 430.0h0M214.2 450.0h0M226.1 462.3h0M181.4 427.7h0M217.8 452.6h0M214.6 450.4h0"/>
<path stroke="#0060ff" stroke-width="1.0" stroke-linecap="round" d="M184.1 427.8h0M199.5 441.8h0M232.1 467.2h0M178.9 420.9h0M228.3 464.2h0M204.8 442.5h0M182.9 427.0h0M195.8 437.9h0M202.7 442.7h0M238.3 469.3h0M181.5 427.8h0M199.7 440.2h0"/>
<path stroke="#0040ff" stroke-width="2.0" stroke-linecap="round" d="M232.3 467.7h0"/>
<path stroke="#80ff80" stroke-width="2.0" stroke-linecap="round" d="M220.8 456.3h0"/>
<path stroke="#0060ff" stroke-width="2.0" stroke-linecap="round" d="M225.7 461.7h0"/>
<line x1="180.0" y1="419.0" x2="186.5" y2="420.1" stroke="#40ffc0" stroke-width="2.0" stroke-linecap="round"/>
<line x1="180.0" y1="422.3" x2="185.0" y2="426.0" stroke="#80ff80" stroke-width="1.6" stroke-linecap="round"/>
<line x1="185.0" y1="426.0" x2="190.9" y2="431.0" stroke="#80ff80" stroke-width="1.6" stroke-linecap="round"/>
<circle cx="170.5" cy="419.1" r="0.9" fill="#ff4000"/>
<circle cx="167.7" cy="424.5" r="0.9" fill="#ff2000"/>
<circle cx="175" cy="423.6" r="0.9" fill="#ff8000"/>
<circle cx="174" cy="433.6" r="0.9" fill="#ffc000"/>
<circle cx="182" cy="411" r="0.9" fill="#ffff00"/>
<circle cx="188" cy="406" r="0.9" fill="#ffc000"/>
<circle cx="192.3" cy="413.5" r="0.9" fill="#40ffc0"/>
<circle cx="185" cy="437" r="0.9" fill="#ff8000"/>
<circle cx="199" cy="437" r="0.9" fill="#ff6000"/>
<circle cx="205.5" cy="444.2" r="0.9" fill="#ff2000"/>
<circle cx="181" cy="440" r="0.9" fill="#c0ff40"/>
<circle cx="176" cy="431" r="0.9" fill="#ffff00"/>
<circle cx="171" cy="428" r="0.9" fill="#40ffc0"/>
</g>
</svg>
</body></html>
